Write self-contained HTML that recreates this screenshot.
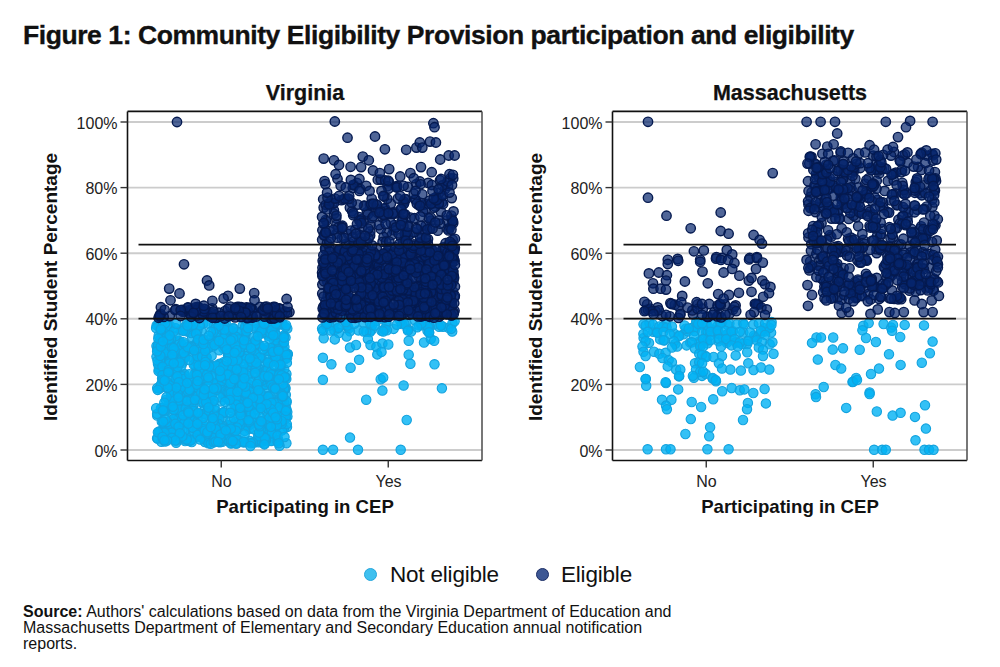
<!DOCTYPE html>
<html><head><meta charset="utf-8"><style>
html,body{margin:0;padding:0;background:#fff;width:1000px;height:667px;overflow:hidden;position:relative;font-family:"Liberation Sans",sans-serif;color:#111}
div{position:absolute;white-space:nowrap}
.title{left:23px;top:19.5px;font-size:26.5px;font-weight:bold;line-height:30px;letter-spacing:-0.43px;-webkit-text-stroke:0.35px #111}
.pt{top:80px;width:200px;text-align:center;font-size:21.5px;font-weight:bold;line-height:26px;-webkit-text-stroke:0.25px #111}
.yt{width:96px;text-align:right;font-size:16px;line-height:18px;color:#222}
.yl{width:300px;margin-left:-150px;text-align:center;font-size:19px;font-weight:bold;line-height:22px;transform:rotate(-90deg);transform-origin:150px 11px}
.xt{width:80px;text-align:center;font-size:16px;line-height:18px;color:#222}
.xl{width:300px;text-align:center;font-size:18.6px;font-weight:bold;line-height:22px}
.ld{display:block;width:11px;height:11px;border-radius:50%;border:1.3px solid}
.legt{top:562.5px;font-size:22.5px;line-height:24px;letter-spacing:-0.2px}
.src{left:23px;top:604px;font-size:16px;line-height:16px}
svg{position:absolute;left:0;top:0}
.d{fill:#05256c;fill-opacity:.7;stroke:#051a50;stroke-width:1.4}
.l{fill:#00b2f4;fill-opacity:.8;stroke:#12a2de;stroke-width:1.1}
</style></head><body>
<svg width="1000" height="667" viewBox="0 0 1000 667">
<line x1="127.5" y1="450.0" x2="482.0" y2="450.0" stroke="#cccccc" stroke-width="1.9"/>
<line x1="127.5" y1="384.4" x2="482.0" y2="384.4" stroke="#cccccc" stroke-width="1.9"/>
<line x1="127.5" y1="318.8" x2="482.0" y2="318.8" stroke="#cccccc" stroke-width="1.9"/>
<line x1="127.5" y1="253.20000000000002" x2="482.0" y2="253.20000000000002" stroke="#cccccc" stroke-width="1.9"/>
<line x1="127.5" y1="187.60000000000002" x2="482.0" y2="187.60000000000002" stroke="#cccccc" stroke-width="1.9"/>
<line x1="127.5" y1="122.0" x2="482.0" y2="122.0" stroke="#cccccc" stroke-width="1.9"/>
<line x1="612.5" y1="450.0" x2="967.0" y2="450.0" stroke="#cccccc" stroke-width="1.9"/>
<line x1="612.5" y1="384.4" x2="967.0" y2="384.4" stroke="#cccccc" stroke-width="1.9"/>
<line x1="612.5" y1="318.8" x2="967.0" y2="318.8" stroke="#cccccc" stroke-width="1.9"/>
<line x1="612.5" y1="253.20000000000002" x2="967.0" y2="253.20000000000002" stroke="#cccccc" stroke-width="1.9"/>
<line x1="612.5" y1="187.60000000000002" x2="967.0" y2="187.60000000000002" stroke="#cccccc" stroke-width="1.9"/>
<line x1="612.5" y1="122.0" x2="967.0" y2="122.0" stroke="#cccccc" stroke-width="1.9"/>
<g>
<circle cx="173.7" cy="425.5" r="4.7" class="l"/>
<circle cx="256.8" cy="353.9" r="4.7" class="l"/>
<circle cx="221.4" cy="377.4" r="4.7" class="l"/>
<circle cx="242.0" cy="418.4" r="4.7" class="l"/>
<circle cx="168.4" cy="326.4" r="4.7" class="l"/>
<circle cx="266.3" cy="375.4" r="4.7" class="l"/>
<circle cx="256.6" cy="323.3" r="4.7" class="l"/>
<circle cx="214.8" cy="410.3" r="4.7" class="l"/>
<circle cx="186.2" cy="437.4" r="4.7" class="l"/>
<circle cx="275.0" cy="326.7" r="4.7" class="l"/>
<circle cx="159.4" cy="388.5" r="4.7" class="l"/>
<circle cx="280.0" cy="369.1" r="4.7" class="l"/>
<circle cx="184.6" cy="374.1" r="4.7" class="l"/>
<circle cx="159.8" cy="349.8" r="4.7" class="l"/>
<circle cx="213.8" cy="383.0" r="4.7" class="l"/>
<circle cx="186.8" cy="350.9" r="4.7" class="l"/>
<circle cx="184.9" cy="378.6" r="4.7" class="l"/>
<circle cx="194.3" cy="325.6" r="4.7" class="l"/>
<circle cx="266.6" cy="390.3" r="4.7" class="l"/>
<circle cx="240.8" cy="345.5" r="4.7" class="l"/>
<circle cx="287.0" cy="427.1" r="4.7" class="l"/>
<circle cx="172.0" cy="363.3" r="4.7" class="l"/>
<circle cx="251.2" cy="409.1" r="4.7" class="l"/>
<circle cx="279.6" cy="374.1" r="4.7" class="l"/>
<circle cx="265.6" cy="404.1" r="4.7" class="l"/>
<circle cx="196.0" cy="394.1" r="4.7" class="l"/>
<circle cx="272.5" cy="425.4" r="4.7" class="l"/>
<circle cx="222.7" cy="394.3" r="4.7" class="l"/>
<circle cx="160.6" cy="352.4" r="4.7" class="l"/>
<circle cx="261.3" cy="373.1" r="4.7" class="l"/>
<circle cx="178.8" cy="389.4" r="4.7" class="l"/>
<circle cx="248.8" cy="404.6" r="4.7" class="l"/>
<circle cx="205.5" cy="376.1" r="4.7" class="l"/>
<circle cx="223.1" cy="417.2" r="4.7" class="l"/>
<circle cx="224.8" cy="370.6" r="4.7" class="l"/>
<circle cx="220.6" cy="326.6" r="4.7" class="l"/>
<circle cx="161.7" cy="408.1" r="4.7" class="l"/>
<circle cx="285.8" cy="394.8" r="4.7" class="l"/>
<circle cx="208.0" cy="343.6" r="4.7" class="l"/>
<circle cx="222.3" cy="441.8" r="4.7" class="l"/>
<circle cx="257.7" cy="388.3" r="4.7" class="l"/>
<circle cx="269.6" cy="351.1" r="4.7" class="l"/>
<circle cx="223.8" cy="438.2" r="4.7" class="l"/>
<circle cx="232.3" cy="378.6" r="4.7" class="l"/>
<circle cx="191.5" cy="389.3" r="4.7" class="l"/>
<circle cx="282.3" cy="323.7" r="4.7" class="l"/>
<circle cx="259.4" cy="422.3" r="4.7" class="l"/>
<circle cx="273.0" cy="412.6" r="4.7" class="l"/>
<circle cx="262.8" cy="385.8" r="4.7" class="l"/>
<circle cx="230.1" cy="374.6" r="4.7" class="l"/>
<circle cx="163.4" cy="428.3" r="4.7" class="l"/>
<circle cx="231.2" cy="347.2" r="4.7" class="l"/>
<circle cx="222.6" cy="381.7" r="4.7" class="l"/>
<circle cx="203.1" cy="364.9" r="4.7" class="l"/>
<circle cx="227.1" cy="398.4" r="4.7" class="l"/>
<circle cx="236.8" cy="378.4" r="4.7" class="l"/>
<circle cx="159.7" cy="350.8" r="4.7" class="l"/>
<circle cx="179.4" cy="393.7" r="4.7" class="l"/>
<circle cx="269.7" cy="419.6" r="4.7" class="l"/>
<circle cx="261.2" cy="421.8" r="4.7" class="l"/>
<circle cx="189.7" cy="424.9" r="4.7" class="l"/>
<circle cx="244.9" cy="333.1" r="4.7" class="l"/>
<circle cx="158.2" cy="324.8" r="4.7" class="l"/>
<circle cx="255.7" cy="353.2" r="4.7" class="l"/>
<circle cx="170.5" cy="398.6" r="4.7" class="l"/>
<circle cx="201.5" cy="331.4" r="4.7" class="l"/>
<circle cx="177.1" cy="386.8" r="4.7" class="l"/>
<circle cx="178.2" cy="356.0" r="4.7" class="l"/>
<circle cx="249.9" cy="378.0" r="4.7" class="l"/>
<circle cx="198.5" cy="380.3" r="4.7" class="l"/>
<circle cx="159.1" cy="369.8" r="4.7" class="l"/>
<circle cx="211.6" cy="345.8" r="4.7" class="l"/>
<circle cx="170.4" cy="431.9" r="4.7" class="l"/>
<circle cx="223.3" cy="348.3" r="4.7" class="l"/>
<circle cx="235.9" cy="421.9" r="4.7" class="l"/>
<circle cx="158.7" cy="325.2" r="4.7" class="l"/>
<circle cx="175.3" cy="410.0" r="4.7" class="l"/>
<circle cx="177.2" cy="408.3" r="4.7" class="l"/>
<circle cx="245.5" cy="388.9" r="4.7" class="l"/>
<circle cx="185.1" cy="441.0" r="4.7" class="l"/>
<circle cx="261.3" cy="385.5" r="4.7" class="l"/>
<circle cx="185.5" cy="401.5" r="4.7" class="l"/>
<circle cx="208.1" cy="392.7" r="4.7" class="l"/>
<circle cx="198.4" cy="399.3" r="4.7" class="l"/>
<circle cx="163.8" cy="359.1" r="4.7" class="l"/>
<circle cx="283.8" cy="428.9" r="4.7" class="l"/>
<circle cx="196.4" cy="426.9" r="4.7" class="l"/>
<circle cx="197.0" cy="436.7" r="4.7" class="l"/>
<circle cx="254.2" cy="373.4" r="4.7" class="l"/>
<circle cx="189.3" cy="324.0" r="4.7" class="l"/>
<circle cx="272.0" cy="327.6" r="4.7" class="l"/>
<circle cx="264.2" cy="439.4" r="4.7" class="l"/>
<circle cx="231.3" cy="343.8" r="4.7" class="l"/>
<circle cx="270.5" cy="440.8" r="4.7" class="l"/>
<circle cx="248.9" cy="384.6" r="4.7" class="l"/>
<circle cx="205.9" cy="365.0" r="4.7" class="l"/>
<circle cx="183.2" cy="404.6" r="4.7" class="l"/>
<circle cx="213.1" cy="346.5" r="4.7" class="l"/>
<circle cx="169.8" cy="403.6" r="4.7" class="l"/>
<circle cx="195.1" cy="383.5" r="4.7" class="l"/>
<circle cx="198.9" cy="428.5" r="4.7" class="l"/>
<circle cx="274.8" cy="325.2" r="4.7" class="l"/>
<circle cx="182.5" cy="362.7" r="4.7" class="l"/>
<circle cx="286.3" cy="417.7" r="4.7" class="l"/>
<circle cx="200.8" cy="348.8" r="4.7" class="l"/>
<circle cx="245.0" cy="424.4" r="4.7" class="l"/>
<circle cx="279.0" cy="364.6" r="4.7" class="l"/>
<circle cx="272.5" cy="406.1" r="4.7" class="l"/>
<circle cx="220.0" cy="442.2" r="4.7" class="l"/>
<circle cx="187.0" cy="410.8" r="4.7" class="l"/>
<circle cx="167.2" cy="343.5" r="4.7" class="l"/>
<circle cx="276.3" cy="348.8" r="4.7" class="l"/>
<circle cx="256.2" cy="395.6" r="4.7" class="l"/>
<circle cx="267.0" cy="367.5" r="4.7" class="l"/>
<circle cx="200.9" cy="358.2" r="4.7" class="l"/>
<circle cx="270.5" cy="396.1" r="4.7" class="l"/>
<circle cx="282.0" cy="430.4" r="4.7" class="l"/>
<circle cx="173.9" cy="389.7" r="4.7" class="l"/>
<circle cx="169.8" cy="327.7" r="4.7" class="l"/>
<circle cx="165.7" cy="427.8" r="4.7" class="l"/>
<circle cx="260.0" cy="423.2" r="4.7" class="l"/>
<circle cx="201.0" cy="397.4" r="4.7" class="l"/>
<circle cx="259.2" cy="368.7" r="4.7" class="l"/>
<circle cx="231.3" cy="350.1" r="4.7" class="l"/>
<circle cx="166.8" cy="355.3" r="4.7" class="l"/>
<circle cx="273.6" cy="391.3" r="4.7" class="l"/>
<circle cx="278.1" cy="378.4" r="4.7" class="l"/>
<circle cx="192.6" cy="418.2" r="4.7" class="l"/>
<circle cx="265.3" cy="324.5" r="4.7" class="l"/>
<circle cx="244.5" cy="334.1" r="4.7" class="l"/>
<circle cx="171.2" cy="430.1" r="4.7" class="l"/>
<circle cx="161.3" cy="352.0" r="4.7" class="l"/>
<circle cx="286.4" cy="373.9" r="4.7" class="l"/>
<circle cx="171.3" cy="343.3" r="4.7" class="l"/>
<circle cx="187.9" cy="413.0" r="4.7" class="l"/>
<circle cx="169.6" cy="433.2" r="4.7" class="l"/>
<circle cx="205.9" cy="440.4" r="4.7" class="l"/>
<circle cx="276.0" cy="358.6" r="4.7" class="l"/>
<circle cx="189.5" cy="380.7" r="4.7" class="l"/>
<circle cx="169.2" cy="401.9" r="4.7" class="l"/>
<circle cx="161.2" cy="324.3" r="4.7" class="l"/>
<circle cx="285.7" cy="358.8" r="4.7" class="l"/>
<circle cx="234.7" cy="377.4" r="4.7" class="l"/>
<circle cx="197.4" cy="330.6" r="4.7" class="l"/>
<circle cx="276.6" cy="440.3" r="4.7" class="l"/>
<circle cx="284.0" cy="336.5" r="4.7" class="l"/>
<circle cx="184.4" cy="397.8" r="4.7" class="l"/>
<circle cx="285.4" cy="388.7" r="4.7" class="l"/>
<circle cx="246.8" cy="403.1" r="4.7" class="l"/>
<circle cx="190.2" cy="388.5" r="4.7" class="l"/>
<circle cx="196.6" cy="352.8" r="4.7" class="l"/>
<circle cx="166.7" cy="357.0" r="4.7" class="l"/>
<circle cx="285.8" cy="377.2" r="4.7" class="l"/>
<circle cx="242.1" cy="400.9" r="4.7" class="l"/>
<circle cx="280.2" cy="370.2" r="4.7" class="l"/>
<circle cx="196.5" cy="362.6" r="4.7" class="l"/>
<circle cx="197.8" cy="425.5" r="4.7" class="l"/>
<circle cx="273.9" cy="359.6" r="4.7" class="l"/>
<circle cx="200.1" cy="388.9" r="4.7" class="l"/>
<circle cx="232.4" cy="395.1" r="4.7" class="l"/>
<circle cx="188.4" cy="325.5" r="4.7" class="l"/>
<circle cx="188.2" cy="331.8" r="4.7" class="l"/>
<circle cx="228.8" cy="331.6" r="4.7" class="l"/>
<circle cx="165.9" cy="399.9" r="4.7" class="l"/>
<circle cx="194.4" cy="418.9" r="4.7" class="l"/>
<circle cx="221.1" cy="427.4" r="4.7" class="l"/>
<circle cx="176.4" cy="383.7" r="4.7" class="l"/>
<circle cx="260.9" cy="332.3" r="4.7" class="l"/>
<circle cx="281.3" cy="344.0" r="4.7" class="l"/>
<circle cx="258.5" cy="442.2" r="4.7" class="l"/>
<circle cx="264.4" cy="361.7" r="4.7" class="l"/>
<circle cx="170.1" cy="385.2" r="4.7" class="l"/>
<circle cx="277.4" cy="358.5" r="4.7" class="l"/>
<circle cx="274.0" cy="340.1" r="4.7" class="l"/>
<circle cx="276.2" cy="326.8" r="4.7" class="l"/>
<circle cx="197.7" cy="432.3" r="4.7" class="l"/>
<circle cx="262.1" cy="432.8" r="4.7" class="l"/>
<circle cx="267.0" cy="413.3" r="4.7" class="l"/>
<circle cx="247.0" cy="344.6" r="4.7" class="l"/>
<circle cx="213.1" cy="342.1" r="4.7" class="l"/>
<circle cx="250.4" cy="403.8" r="4.7" class="l"/>
<circle cx="189.3" cy="330.8" r="4.7" class="l"/>
<circle cx="283.2" cy="420.8" r="4.7" class="l"/>
<circle cx="228.5" cy="388.5" r="4.7" class="l"/>
<circle cx="268.4" cy="377.9" r="4.7" class="l"/>
<circle cx="208.2" cy="364.0" r="4.7" class="l"/>
<circle cx="190.1" cy="326.0" r="4.7" class="l"/>
<circle cx="241.3" cy="373.4" r="4.7" class="l"/>
<circle cx="231.3" cy="330.5" r="4.7" class="l"/>
<circle cx="202.9" cy="339.7" r="4.7" class="l"/>
<circle cx="172.5" cy="354.4" r="4.7" class="l"/>
<circle cx="265.4" cy="371.1" r="4.7" class="l"/>
<circle cx="208.9" cy="397.1" r="4.7" class="l"/>
<circle cx="186.8" cy="323.9" r="4.7" class="l"/>
<circle cx="225.8" cy="383.6" r="4.7" class="l"/>
<circle cx="241.6" cy="376.0" r="4.7" class="l"/>
<circle cx="246.6" cy="411.5" r="4.7" class="l"/>
<circle cx="187.5" cy="382.9" r="4.7" class="l"/>
<circle cx="219.2" cy="350.2" r="4.7" class="l"/>
<circle cx="210.4" cy="390.8" r="4.7" class="l"/>
<circle cx="275.7" cy="434.0" r="4.7" class="l"/>
<circle cx="192.3" cy="401.2" r="4.7" class="l"/>
<circle cx="162.4" cy="331.7" r="4.7" class="l"/>
<circle cx="223.5" cy="429.2" r="4.7" class="l"/>
<circle cx="177.0" cy="415.7" r="4.7" class="l"/>
<circle cx="272.6" cy="360.7" r="4.7" class="l"/>
<circle cx="247.4" cy="425.7" r="4.7" class="l"/>
<circle cx="205.1" cy="407.9" r="4.7" class="l"/>
<circle cx="253.2" cy="394.9" r="4.7" class="l"/>
<circle cx="269.0" cy="431.5" r="4.7" class="l"/>
<circle cx="282.7" cy="392.1" r="4.7" class="l"/>
<circle cx="179.3" cy="353.3" r="4.7" class="l"/>
<circle cx="184.7" cy="391.9" r="4.7" class="l"/>
<circle cx="256.0" cy="329.3" r="4.7" class="l"/>
<circle cx="246.0" cy="409.8" r="4.7" class="l"/>
<circle cx="201.9" cy="385.3" r="4.7" class="l"/>
<circle cx="177.8" cy="411.3" r="4.7" class="l"/>
<circle cx="161.4" cy="441.7" r="4.7" class="l"/>
<circle cx="262.6" cy="399.0" r="4.7" class="l"/>
<circle cx="191.3" cy="433.5" r="4.7" class="l"/>
<circle cx="282.6" cy="339.8" r="4.7" class="l"/>
<circle cx="258.4" cy="424.9" r="4.7" class="l"/>
<circle cx="243.1" cy="407.7" r="4.7" class="l"/>
<circle cx="214.7" cy="434.8" r="4.7" class="l"/>
<circle cx="284.2" cy="369.3" r="4.7" class="l"/>
<circle cx="262.0" cy="375.4" r="4.7" class="l"/>
<circle cx="177.7" cy="362.4" r="4.7" class="l"/>
<circle cx="172.7" cy="433.0" r="4.7" class="l"/>
<circle cx="282.6" cy="337.4" r="4.7" class="l"/>
<circle cx="235.3" cy="372.4" r="4.7" class="l"/>
<circle cx="171.6" cy="358.8" r="4.7" class="l"/>
<circle cx="188.8" cy="413.7" r="4.7" class="l"/>
<circle cx="156.5" cy="346.0" r="4.7" class="l"/>
<circle cx="213.9" cy="325.5" r="4.7" class="l"/>
<circle cx="238.8" cy="396.3" r="4.7" class="l"/>
<circle cx="266.3" cy="348.0" r="4.7" class="l"/>
<circle cx="193.6" cy="388.6" r="4.7" class="l"/>
<circle cx="192.1" cy="393.9" r="4.7" class="l"/>
<circle cx="189.1" cy="405.7" r="4.7" class="l"/>
<circle cx="260.4" cy="420.8" r="4.7" class="l"/>
<circle cx="284.5" cy="389.0" r="4.7" class="l"/>
<circle cx="220.8" cy="426.5" r="4.7" class="l"/>
<circle cx="257.5" cy="392.0" r="4.7" class="l"/>
<circle cx="206.6" cy="357.4" r="4.7" class="l"/>
<circle cx="170.3" cy="420.7" r="4.7" class="l"/>
<circle cx="171.6" cy="413.4" r="4.7" class="l"/>
<circle cx="228.0" cy="439.8" r="4.7" class="l"/>
<circle cx="256.5" cy="440.8" r="4.7" class="l"/>
<circle cx="174.0" cy="383.5" r="4.7" class="l"/>
<circle cx="231.6" cy="360.7" r="4.7" class="l"/>
<circle cx="222.4" cy="366.2" r="4.7" class="l"/>
<circle cx="225.7" cy="323.1" r="4.7" class="l"/>
<circle cx="214.4" cy="377.4" r="4.7" class="l"/>
<circle cx="196.2" cy="371.3" r="4.7" class="l"/>
<circle cx="259.4" cy="405.7" r="4.7" class="l"/>
<circle cx="221.0" cy="401.4" r="4.7" class="l"/>
<circle cx="205.8" cy="347.7" r="4.7" class="l"/>
<circle cx="156.5" cy="356.6" r="4.7" class="l"/>
<circle cx="235.0" cy="429.7" r="4.7" class="l"/>
<circle cx="265.5" cy="384.8" r="4.7" class="l"/>
<circle cx="286.3" cy="378.9" r="4.7" class="l"/>
<circle cx="266.2" cy="372.5" r="4.7" class="l"/>
<circle cx="254.3" cy="442.5" r="4.7" class="l"/>
<circle cx="196.3" cy="343.6" r="4.7" class="l"/>
<circle cx="237.8" cy="387.2" r="4.7" class="l"/>
<circle cx="203.4" cy="323.4" r="4.7" class="l"/>
<circle cx="207.4" cy="374.5" r="4.7" class="l"/>
<circle cx="209.5" cy="427.2" r="4.7" class="l"/>
<circle cx="233.1" cy="411.8" r="4.7" class="l"/>
<circle cx="274.5" cy="413.6" r="4.7" class="l"/>
<circle cx="221.0" cy="413.2" r="4.7" class="l"/>
<circle cx="240.5" cy="401.5" r="4.7" class="l"/>
<circle cx="239.1" cy="372.2" r="4.7" class="l"/>
<circle cx="239.1" cy="399.7" r="4.7" class="l"/>
<circle cx="279.7" cy="417.7" r="4.7" class="l"/>
<circle cx="267.7" cy="415.9" r="4.7" class="l"/>
<circle cx="263.6" cy="396.3" r="4.7" class="l"/>
<circle cx="202.1" cy="355.0" r="4.7" class="l"/>
<circle cx="249.5" cy="428.7" r="4.7" class="l"/>
<circle cx="227.8" cy="341.4" r="4.7" class="l"/>
<circle cx="266.0" cy="381.6" r="4.7" class="l"/>
<circle cx="217.7" cy="328.5" r="4.7" class="l"/>
<circle cx="223.4" cy="413.1" r="4.7" class="l"/>
<circle cx="211.8" cy="366.0" r="4.7" class="l"/>
<circle cx="242.7" cy="325.4" r="4.7" class="l"/>
<circle cx="222.9" cy="437.5" r="4.7" class="l"/>
<circle cx="247.1" cy="371.6" r="4.7" class="l"/>
<circle cx="246.9" cy="396.2" r="4.7" class="l"/>
<circle cx="183.6" cy="348.1" r="4.7" class="l"/>
<circle cx="273.0" cy="355.6" r="4.7" class="l"/>
<circle cx="165.9" cy="423.5" r="4.7" class="l"/>
<circle cx="225.1" cy="367.6" r="4.7" class="l"/>
<circle cx="223.5" cy="412.1" r="4.7" class="l"/>
<circle cx="178.2" cy="402.0" r="4.7" class="l"/>
<circle cx="250.2" cy="421.6" r="4.7" class="l"/>
<circle cx="191.6" cy="396.8" r="4.7" class="l"/>
<circle cx="186.6" cy="390.9" r="4.7" class="l"/>
<circle cx="178.8" cy="418.6" r="4.7" class="l"/>
<circle cx="270.4" cy="362.9" r="4.7" class="l"/>
<circle cx="185.3" cy="439.6" r="4.7" class="l"/>
<circle cx="249.3" cy="425.1" r="4.7" class="l"/>
<circle cx="160.0" cy="431.8" r="4.7" class="l"/>
<circle cx="238.2" cy="361.3" r="4.7" class="l"/>
<circle cx="213.0" cy="415.2" r="4.7" class="l"/>
<circle cx="259.7" cy="346.0" r="4.7" class="l"/>
<circle cx="238.6" cy="343.0" r="4.7" class="l"/>
<circle cx="284.4" cy="376.7" r="4.7" class="l"/>
<circle cx="276.5" cy="411.1" r="4.7" class="l"/>
<circle cx="236.0" cy="354.7" r="4.7" class="l"/>
<circle cx="225.5" cy="339.8" r="4.7" class="l"/>
<circle cx="174.2" cy="409.6" r="4.7" class="l"/>
<circle cx="203.7" cy="413.9" r="4.7" class="l"/>
<circle cx="187.7" cy="409.9" r="4.7" class="l"/>
<circle cx="250.8" cy="360.0" r="4.7" class="l"/>
<circle cx="170.0" cy="371.0" r="4.7" class="l"/>
<circle cx="221.0" cy="335.1" r="4.7" class="l"/>
<circle cx="180.7" cy="329.7" r="4.7" class="l"/>
<circle cx="234.9" cy="430.6" r="4.7" class="l"/>
<circle cx="184.6" cy="327.2" r="4.7" class="l"/>
<circle cx="248.9" cy="421.6" r="4.7" class="l"/>
<circle cx="283.3" cy="397.2" r="4.7" class="l"/>
<circle cx="201.2" cy="424.4" r="4.7" class="l"/>
<circle cx="171.6" cy="406.8" r="4.7" class="l"/>
<circle cx="168.6" cy="371.4" r="4.7" class="l"/>
<circle cx="221.3" cy="368.7" r="4.7" class="l"/>
<circle cx="178.3" cy="351.0" r="4.7" class="l"/>
<circle cx="264.3" cy="379.0" r="4.7" class="l"/>
<circle cx="232.6" cy="348.6" r="4.7" class="l"/>
<circle cx="250.4" cy="362.9" r="4.7" class="l"/>
<circle cx="234.4" cy="433.0" r="4.7" class="l"/>
<circle cx="287.3" cy="328.6" r="4.7" class="l"/>
<circle cx="261.3" cy="426.8" r="4.7" class="l"/>
<circle cx="198.2" cy="369.4" r="4.7" class="l"/>
<circle cx="232.6" cy="434.2" r="4.7" class="l"/>
<circle cx="208.8" cy="429.5" r="4.7" class="l"/>
<circle cx="256.1" cy="341.4" r="4.7" class="l"/>
<circle cx="276.6" cy="324.8" r="4.7" class="l"/>
<circle cx="175.2" cy="403.4" r="4.7" class="l"/>
<circle cx="163.5" cy="368.9" r="4.7" class="l"/>
<circle cx="173.2" cy="379.0" r="4.7" class="l"/>
<circle cx="266.9" cy="432.6" r="4.7" class="l"/>
<circle cx="160.7" cy="330.4" r="4.7" class="l"/>
<circle cx="267.0" cy="328.2" r="4.7" class="l"/>
<circle cx="192.1" cy="337.2" r="4.7" class="l"/>
<circle cx="168.0" cy="326.3" r="4.7" class="l"/>
<circle cx="240.2" cy="413.1" r="4.7" class="l"/>
<circle cx="246.7" cy="425.3" r="4.7" class="l"/>
<circle cx="243.5" cy="370.2" r="4.7" class="l"/>
<circle cx="239.3" cy="440.3" r="4.7" class="l"/>
<circle cx="240.7" cy="352.4" r="4.7" class="l"/>
<circle cx="163.9" cy="436.2" r="4.7" class="l"/>
<circle cx="233.9" cy="365.3" r="4.7" class="l"/>
<circle cx="235.9" cy="390.8" r="4.7" class="l"/>
<circle cx="224.9" cy="330.4" r="4.7" class="l"/>
<circle cx="202.6" cy="372.9" r="4.7" class="l"/>
<circle cx="182.3" cy="429.5" r="4.7" class="l"/>
<circle cx="212.0" cy="403.1" r="4.7" class="l"/>
<circle cx="250.2" cy="412.9" r="4.7" class="l"/>
<circle cx="251.2" cy="414.0" r="4.7" class="l"/>
<circle cx="189.2" cy="441.1" r="4.7" class="l"/>
<circle cx="175.9" cy="434.2" r="4.7" class="l"/>
<circle cx="268.8" cy="426.1" r="4.7" class="l"/>
<circle cx="163.0" cy="334.0" r="4.7" class="l"/>
<circle cx="263.3" cy="379.8" r="4.7" class="l"/>
<circle cx="204.9" cy="442.1" r="4.7" class="l"/>
<circle cx="161.3" cy="387.3" r="4.7" class="l"/>
<circle cx="214.5" cy="338.5" r="4.7" class="l"/>
<circle cx="208.2" cy="408.6" r="4.7" class="l"/>
<circle cx="272.5" cy="326.0" r="4.7" class="l"/>
<circle cx="225.2" cy="333.9" r="4.7" class="l"/>
<circle cx="261.7" cy="333.4" r="4.7" class="l"/>
<circle cx="160.5" cy="369.5" r="4.7" class="l"/>
<circle cx="252.7" cy="360.9" r="4.7" class="l"/>
<circle cx="173.2" cy="419.1" r="4.7" class="l"/>
<circle cx="262.5" cy="426.6" r="4.7" class="l"/>
<circle cx="196.1" cy="374.4" r="4.7" class="l"/>
<circle cx="188.4" cy="390.4" r="4.7" class="l"/>
<circle cx="199.6" cy="364.0" r="4.7" class="l"/>
<circle cx="259.4" cy="438.7" r="4.7" class="l"/>
<circle cx="233.1" cy="335.7" r="4.7" class="l"/>
<circle cx="242.1" cy="377.3" r="4.7" class="l"/>
<circle cx="286.4" cy="410.0" r="4.7" class="l"/>
<circle cx="266.2" cy="407.9" r="4.7" class="l"/>
<circle cx="226.7" cy="431.5" r="4.7" class="l"/>
<circle cx="265.8" cy="358.3" r="4.7" class="l"/>
<circle cx="176.7" cy="367.8" r="4.7" class="l"/>
<circle cx="224.8" cy="334.8" r="4.7" class="l"/>
<circle cx="201.6" cy="392.6" r="4.7" class="l"/>
<circle cx="161.8" cy="421.6" r="4.7" class="l"/>
<circle cx="241.9" cy="361.0" r="4.7" class="l"/>
<circle cx="195.4" cy="365.7" r="4.7" class="l"/>
<circle cx="198.9" cy="413.6" r="4.7" class="l"/>
<circle cx="222.1" cy="386.7" r="4.7" class="l"/>
<circle cx="175.6" cy="433.6" r="4.7" class="l"/>
<circle cx="199.0" cy="362.6" r="4.7" class="l"/>
<circle cx="165.1" cy="441.5" r="4.7" class="l"/>
<circle cx="219.3" cy="433.5" r="4.7" class="l"/>
<circle cx="278.4" cy="440.3" r="4.7" class="l"/>
<circle cx="263.7" cy="435.0" r="4.7" class="l"/>
<circle cx="277.7" cy="420.0" r="4.7" class="l"/>
<circle cx="173.8" cy="386.4" r="4.7" class="l"/>
<circle cx="232.0" cy="443.1" r="4.7" class="l"/>
<circle cx="259.5" cy="408.1" r="4.7" class="l"/>
<circle cx="254.6" cy="366.8" r="4.7" class="l"/>
<circle cx="280.4" cy="400.9" r="4.7" class="l"/>
<circle cx="209.1" cy="379.2" r="4.7" class="l"/>
<circle cx="285.3" cy="387.4" r="4.7" class="l"/>
<circle cx="178.1" cy="341.0" r="4.7" class="l"/>
<circle cx="246.7" cy="391.1" r="4.7" class="l"/>
<circle cx="275.7" cy="345.3" r="4.7" class="l"/>
<circle cx="210.3" cy="411.1" r="4.7" class="l"/>
<circle cx="162.6" cy="335.0" r="4.7" class="l"/>
<circle cx="228.0" cy="355.2" r="4.7" class="l"/>
<circle cx="170.1" cy="354.7" r="4.7" class="l"/>
<circle cx="239.4" cy="386.7" r="4.7" class="l"/>
<circle cx="166.4" cy="331.8" r="4.7" class="l"/>
<circle cx="268.3" cy="400.8" r="4.7" class="l"/>
<circle cx="178.9" cy="427.3" r="4.7" class="l"/>
<circle cx="158.9" cy="367.5" r="4.7" class="l"/>
<circle cx="267.9" cy="408.9" r="4.7" class="l"/>
<circle cx="193.5" cy="430.8" r="4.7" class="l"/>
<circle cx="234.9" cy="427.7" r="4.7" class="l"/>
<circle cx="273.8" cy="374.5" r="4.7" class="l"/>
<circle cx="245.2" cy="388.9" r="4.7" class="l"/>
<circle cx="280.7" cy="419.6" r="4.7" class="l"/>
<circle cx="251.8" cy="421.5" r="4.7" class="l"/>
<circle cx="287.8" cy="354.0" r="4.7" class="l"/>
<circle cx="182.6" cy="413.4" r="4.7" class="l"/>
<circle cx="257.7" cy="385.2" r="4.7" class="l"/>
<circle cx="220.3" cy="371.9" r="4.7" class="l"/>
<circle cx="272.5" cy="419.3" r="4.7" class="l"/>
<circle cx="233.2" cy="327.9" r="4.7" class="l"/>
<circle cx="268.4" cy="378.5" r="4.7" class="l"/>
<circle cx="181.0" cy="359.2" r="4.7" class="l"/>
<circle cx="247.3" cy="323.7" r="4.7" class="l"/>
<circle cx="171.8" cy="359.6" r="4.7" class="l"/>
<circle cx="273.1" cy="413.4" r="4.7" class="l"/>
<circle cx="284.1" cy="388.7" r="4.7" class="l"/>
<circle cx="231.5" cy="389.7" r="4.7" class="l"/>
<circle cx="225.4" cy="388.6" r="4.7" class="l"/>
<circle cx="264.1" cy="438.4" r="4.7" class="l"/>
<circle cx="209.9" cy="399.2" r="4.7" class="l"/>
<circle cx="196.6" cy="359.5" r="4.7" class="l"/>
<circle cx="222.8" cy="393.9" r="4.7" class="l"/>
<circle cx="228.6" cy="441.2" r="4.7" class="l"/>
<circle cx="177.5" cy="400.0" r="4.7" class="l"/>
<circle cx="287.3" cy="412.1" r="4.7" class="l"/>
<circle cx="230.7" cy="367.6" r="4.7" class="l"/>
<circle cx="209.1" cy="436.3" r="4.7" class="l"/>
<circle cx="274.2" cy="404.0" r="4.7" class="l"/>
<circle cx="274.6" cy="434.9" r="4.7" class="l"/>
<circle cx="267.7" cy="369.4" r="4.7" class="l"/>
<circle cx="217.3" cy="419.3" r="4.7" class="l"/>
<circle cx="205.2" cy="413.7" r="4.7" class="l"/>
<circle cx="219.5" cy="363.7" r="4.7" class="l"/>
<circle cx="216.2" cy="337.1" r="4.7" class="l"/>
<circle cx="202.8" cy="373.2" r="4.7" class="l"/>
<circle cx="158.4" cy="343.8" r="4.7" class="l"/>
<circle cx="190.4" cy="426.8" r="4.7" class="l"/>
<circle cx="233.8" cy="357.7" r="4.7" class="l"/>
<circle cx="287.7" cy="354.2" r="4.7" class="l"/>
<circle cx="223.8" cy="412.5" r="4.7" class="l"/>
<circle cx="247.3" cy="375.5" r="4.7" class="l"/>
<circle cx="258.6" cy="381.8" r="4.7" class="l"/>
<circle cx="250.4" cy="382.5" r="4.7" class="l"/>
<circle cx="284.2" cy="409.7" r="4.7" class="l"/>
<circle cx="168.1" cy="338.7" r="4.7" class="l"/>
<circle cx="283.6" cy="350.7" r="4.7" class="l"/>
<circle cx="159.4" cy="353.6" r="4.7" class="l"/>
<circle cx="219.3" cy="438.2" r="4.7" class="l"/>
<circle cx="208.7" cy="410.5" r="4.7" class="l"/>
<circle cx="266.1" cy="333.8" r="4.7" class="l"/>
<circle cx="236.8" cy="443.5" r="4.7" class="l"/>
<circle cx="228.5" cy="387.7" r="4.7" class="l"/>
<circle cx="201.8" cy="437.5" r="4.7" class="l"/>
<circle cx="284.0" cy="335.5" r="4.7" class="l"/>
<circle cx="229.0" cy="373.8" r="4.7" class="l"/>
<circle cx="244.7" cy="337.4" r="4.7" class="l"/>
<circle cx="191.0" cy="356.7" r="4.7" class="l"/>
<circle cx="219.3" cy="419.0" r="4.7" class="l"/>
<circle cx="269.2" cy="418.2" r="4.7" class="l"/>
<circle cx="245.3" cy="333.6" r="4.7" class="l"/>
<circle cx="207.4" cy="403.9" r="4.7" class="l"/>
<circle cx="194.8" cy="384.4" r="4.7" class="l"/>
<circle cx="275.5" cy="337.1" r="4.7" class="l"/>
<circle cx="268.7" cy="335.8" r="4.7" class="l"/>
<circle cx="207.0" cy="432.6" r="4.7" class="l"/>
<circle cx="182.6" cy="386.0" r="4.7" class="l"/>
<circle cx="211.0" cy="430.4" r="4.7" class="l"/>
<circle cx="287.0" cy="357.9" r="4.7" class="l"/>
<circle cx="221.0" cy="431.3" r="4.7" class="l"/>
<circle cx="227.9" cy="349.0" r="4.7" class="l"/>
<circle cx="256.3" cy="363.8" r="4.7" class="l"/>
<circle cx="220.1" cy="324.0" r="4.7" class="l"/>
<circle cx="286.5" cy="402.5" r="4.7" class="l"/>
<circle cx="278.2" cy="440.2" r="4.7" class="l"/>
<circle cx="191.3" cy="388.4" r="4.7" class="l"/>
<circle cx="214.1" cy="414.9" r="4.7" class="l"/>
<circle cx="267.2" cy="350.7" r="4.7" class="l"/>
<circle cx="192.2" cy="408.5" r="4.7" class="l"/>
<circle cx="210.3" cy="338.8" r="4.7" class="l"/>
<circle cx="181.8" cy="390.9" r="4.7" class="l"/>
<circle cx="235.0" cy="439.2" r="4.7" class="l"/>
<circle cx="226.3" cy="396.7" r="4.7" class="l"/>
<circle cx="175.6" cy="373.1" r="4.7" class="l"/>
<circle cx="192.9" cy="407.1" r="4.7" class="l"/>
<circle cx="191.3" cy="348.9" r="4.7" class="l"/>
<circle cx="204.5" cy="379.9" r="4.7" class="l"/>
<circle cx="200.7" cy="396.3" r="4.7" class="l"/>
<circle cx="179.9" cy="429.5" r="4.7" class="l"/>
<circle cx="247.6" cy="387.7" r="4.7" class="l"/>
<circle cx="163.7" cy="362.4" r="4.7" class="l"/>
<circle cx="247.1" cy="401.1" r="4.7" class="l"/>
<circle cx="263.2" cy="430.9" r="4.7" class="l"/>
<circle cx="197.6" cy="382.7" r="4.7" class="l"/>
<circle cx="199.6" cy="338.5" r="4.7" class="l"/>
<circle cx="174.5" cy="354.0" r="4.7" class="l"/>
<circle cx="167.6" cy="388.2" r="4.7" class="l"/>
<circle cx="248.8" cy="391.1" r="4.7" class="l"/>
<circle cx="246.4" cy="350.4" r="4.7" class="l"/>
<circle cx="182.3" cy="391.7" r="4.7" class="l"/>
<circle cx="272.7" cy="374.1" r="4.7" class="l"/>
<circle cx="156.6" cy="325.4" r="4.7" class="l"/>
<circle cx="196.3" cy="397.5" r="4.7" class="l"/>
<circle cx="167.2" cy="350.2" r="4.7" class="l"/>
<circle cx="245.9" cy="442.2" r="4.7" class="l"/>
<circle cx="201.0" cy="395.7" r="4.7" class="l"/>
<circle cx="224.4" cy="325.8" r="4.7" class="l"/>
<circle cx="199.5" cy="339.9" r="4.7" class="l"/>
<circle cx="189.1" cy="416.2" r="4.7" class="l"/>
<circle cx="245.9" cy="328.0" r="4.7" class="l"/>
<circle cx="166.2" cy="410.7" r="4.7" class="l"/>
<circle cx="169.6" cy="361.4" r="4.7" class="l"/>
<circle cx="191.6" cy="329.0" r="4.7" class="l"/>
<circle cx="160.1" cy="339.8" r="4.7" class="l"/>
<circle cx="208.7" cy="436.0" r="4.7" class="l"/>
<circle cx="240.3" cy="352.3" r="4.7" class="l"/>
<circle cx="245.7" cy="356.1" r="4.7" class="l"/>
<circle cx="224.0" cy="361.9" r="4.7" class="l"/>
<circle cx="281.2" cy="365.6" r="4.7" class="l"/>
<circle cx="262.1" cy="400.6" r="4.7" class="l"/>
<circle cx="267.3" cy="396.3" r="4.7" class="l"/>
<circle cx="270.9" cy="372.0" r="4.7" class="l"/>
<circle cx="245.6" cy="398.1" r="4.7" class="l"/>
<circle cx="225.7" cy="391.3" r="4.7" class="l"/>
<circle cx="226.7" cy="370.6" r="4.7" class="l"/>
<circle cx="274.6" cy="399.6" r="4.7" class="l"/>
<circle cx="228.5" cy="329.5" r="4.7" class="l"/>
<circle cx="223.1" cy="344.2" r="4.7" class="l"/>
<circle cx="184.4" cy="375.6" r="4.7" class="l"/>
<circle cx="228.1" cy="353.3" r="4.7" class="l"/>
<circle cx="191.8" cy="387.1" r="4.7" class="l"/>
<circle cx="218.5" cy="371.8" r="4.7" class="l"/>
<circle cx="169.7" cy="368.2" r="4.7" class="l"/>
<circle cx="242.4" cy="388.8" r="4.7" class="l"/>
<circle cx="227.9" cy="425.1" r="4.7" class="l"/>
<circle cx="251.5" cy="405.8" r="4.7" class="l"/>
<circle cx="160.0" cy="360.3" r="4.7" class="l"/>
<circle cx="246.1" cy="341.8" r="4.7" class="l"/>
<circle cx="276.6" cy="340.2" r="4.7" class="l"/>
<circle cx="272.0" cy="349.2" r="4.7" class="l"/>
<circle cx="267.1" cy="425.6" r="4.7" class="l"/>
<circle cx="200.3" cy="430.5" r="4.7" class="l"/>
<circle cx="177.1" cy="425.7" r="4.7" class="l"/>
<circle cx="206.4" cy="376.2" r="4.7" class="l"/>
<circle cx="171.6" cy="395.7" r="4.7" class="l"/>
<circle cx="191.6" cy="403.7" r="4.7" class="l"/>
<circle cx="261.5" cy="396.0" r="4.7" class="l"/>
<circle cx="157.1" cy="438.2" r="4.7" class="l"/>
<circle cx="277.4" cy="400.8" r="4.7" class="l"/>
<circle cx="206.1" cy="391.0" r="4.7" class="l"/>
<circle cx="272.5" cy="378.6" r="4.7" class="l"/>
<circle cx="258.9" cy="395.4" r="4.7" class="l"/>
<circle cx="211.7" cy="436.0" r="4.7" class="l"/>
<circle cx="209.9" cy="396.3" r="4.7" class="l"/>
<circle cx="163.0" cy="380.0" r="4.7" class="l"/>
<circle cx="160.9" cy="408.2" r="4.7" class="l"/>
<circle cx="156.1" cy="328.1" r="4.7" class="l"/>
<circle cx="170.7" cy="339.9" r="4.7" class="l"/>
<circle cx="223.1" cy="366.1" r="4.7" class="l"/>
<circle cx="191.8" cy="442.0" r="4.7" class="l"/>
<circle cx="276.0" cy="402.2" r="4.7" class="l"/>
<circle cx="261.9" cy="422.2" r="4.7" class="l"/>
<circle cx="188.4" cy="420.8" r="4.7" class="l"/>
<circle cx="187.7" cy="391.0" r="4.7" class="l"/>
<circle cx="203.2" cy="342.2" r="4.7" class="l"/>
<circle cx="258.5" cy="433.9" r="4.7" class="l"/>
<circle cx="197.4" cy="429.5" r="4.7" class="l"/>
<circle cx="201.7" cy="402.6" r="4.7" class="l"/>
<circle cx="287.4" cy="416.4" r="4.7" class="l"/>
<circle cx="163.3" cy="375.6" r="4.7" class="l"/>
<circle cx="205.7" cy="358.6" r="4.7" class="l"/>
<circle cx="263.7" cy="376.4" r="4.7" class="l"/>
<circle cx="248.3" cy="399.8" r="4.7" class="l"/>
<circle cx="224.5" cy="329.8" r="4.7" class="l"/>
<circle cx="244.8" cy="430.9" r="4.7" class="l"/>
<circle cx="178.7" cy="400.8" r="4.7" class="l"/>
<circle cx="220.3" cy="364.3" r="4.7" class="l"/>
<circle cx="249.8" cy="441.0" r="4.7" class="l"/>
<circle cx="158.9" cy="431.6" r="4.7" class="l"/>
<circle cx="206.6" cy="423.9" r="4.7" class="l"/>
<circle cx="179.1" cy="409.7" r="4.7" class="l"/>
<circle cx="169.2" cy="363.6" r="4.7" class="l"/>
<circle cx="284.0" cy="402.5" r="4.7" class="l"/>
<circle cx="259.6" cy="378.8" r="4.7" class="l"/>
<circle cx="218.2" cy="382.6" r="4.7" class="l"/>
<circle cx="258.1" cy="410.5" r="4.7" class="l"/>
<circle cx="181.6" cy="376.3" r="4.7" class="l"/>
<circle cx="227.5" cy="392.1" r="4.7" class="l"/>
<circle cx="278.3" cy="424.6" r="4.7" class="l"/>
<circle cx="175.8" cy="368.5" r="4.7" class="l"/>
<circle cx="170.4" cy="326.2" r="4.7" class="l"/>
<circle cx="165.8" cy="345.1" r="4.7" class="l"/>
<circle cx="257.1" cy="403.7" r="4.7" class="l"/>
<circle cx="261.3" cy="357.9" r="4.7" class="l"/>
<circle cx="176.5" cy="440.6" r="4.7" class="l"/>
<circle cx="265.0" cy="437.6" r="4.7" class="l"/>
<circle cx="158.5" cy="371.0" r="4.7" class="l"/>
<circle cx="239.7" cy="412.1" r="4.7" class="l"/>
<circle cx="276.5" cy="388.1" r="4.7" class="l"/>
<circle cx="207.6" cy="323.6" r="4.7" class="l"/>
<circle cx="262.1" cy="441.8" r="4.7" class="l"/>
<circle cx="275.8" cy="403.1" r="4.7" class="l"/>
<circle cx="201.2" cy="351.9" r="4.7" class="l"/>
<circle cx="258.3" cy="436.2" r="4.7" class="l"/>
<circle cx="282.8" cy="344.2" r="4.7" class="l"/>
<circle cx="233.3" cy="385.1" r="4.7" class="l"/>
<circle cx="212.4" cy="419.1" r="4.7" class="l"/>
<circle cx="279.5" cy="410.7" r="4.7" class="l"/>
<circle cx="248.4" cy="406.6" r="4.7" class="l"/>
<circle cx="242.3" cy="387.9" r="4.7" class="l"/>
<circle cx="188.7" cy="417.3" r="4.7" class="l"/>
<circle cx="171.7" cy="400.9" r="4.7" class="l"/>
<circle cx="207.1" cy="390.8" r="4.7" class="l"/>
<circle cx="240.7" cy="380.9" r="4.7" class="l"/>
<circle cx="285.1" cy="351.9" r="4.7" class="l"/>
<circle cx="157.6" cy="438.6" r="4.7" class="l"/>
<circle cx="197.2" cy="356.6" r="4.7" class="l"/>
<circle cx="210.9" cy="395.0" r="4.7" class="l"/>
<circle cx="286.2" cy="408.6" r="4.7" class="l"/>
<circle cx="198.0" cy="387.7" r="4.7" class="l"/>
<circle cx="215.2" cy="383.7" r="4.7" class="l"/>
<circle cx="211.1" cy="343.3" r="4.7" class="l"/>
<circle cx="208.2" cy="370.1" r="4.7" class="l"/>
<circle cx="182.5" cy="421.8" r="4.7" class="l"/>
<circle cx="203.5" cy="341.3" r="4.7" class="l"/>
<circle cx="230.8" cy="425.2" r="4.7" class="l"/>
<circle cx="259.0" cy="398.3" r="4.7" class="l"/>
<circle cx="252.5" cy="363.7" r="4.7" class="l"/>
<circle cx="174.8" cy="353.9" r="4.7" class="l"/>
<circle cx="202.1" cy="356.8" r="4.7" class="l"/>
<circle cx="217.7" cy="341.0" r="4.7" class="l"/>
<circle cx="173.2" cy="353.6" r="4.7" class="l"/>
<circle cx="181.9" cy="420.0" r="4.7" class="l"/>
<circle cx="227.0" cy="347.0" r="4.7" class="l"/>
<circle cx="212.7" cy="428.5" r="4.7" class="l"/>
<circle cx="232.2" cy="390.0" r="4.7" class="l"/>
<circle cx="207.7" cy="346.7" r="4.7" class="l"/>
<circle cx="238.6" cy="332.3" r="4.7" class="l"/>
<circle cx="259.8" cy="330.0" r="4.7" class="l"/>
<circle cx="254.5" cy="369.3" r="4.7" class="l"/>
<circle cx="246.1" cy="394.5" r="4.7" class="l"/>
<circle cx="173.1" cy="388.2" r="4.7" class="l"/>
<circle cx="165.8" cy="352.2" r="4.7" class="l"/>
<circle cx="206.4" cy="357.6" r="4.7" class="l"/>
<circle cx="243.4" cy="442.4" r="4.7" class="l"/>
<circle cx="203.1" cy="424.5" r="4.7" class="l"/>
<circle cx="185.7" cy="408.8" r="4.7" class="l"/>
<circle cx="201.9" cy="387.8" r="4.7" class="l"/>
<circle cx="167.7" cy="423.1" r="4.7" class="l"/>
<circle cx="183.6" cy="379.1" r="4.7" class="l"/>
<circle cx="194.3" cy="421.0" r="4.7" class="l"/>
<circle cx="234.2" cy="397.4" r="4.7" class="l"/>
<circle cx="255.6" cy="353.8" r="4.7" class="l"/>
<circle cx="163.7" cy="423.3" r="4.7" class="l"/>
<circle cx="197.7" cy="421.3" r="4.7" class="l"/>
<circle cx="282.3" cy="399.1" r="4.7" class="l"/>
<circle cx="169.6" cy="426.3" r="4.7" class="l"/>
<circle cx="239.6" cy="352.8" r="4.7" class="l"/>
<circle cx="183.4" cy="384.4" r="4.7" class="l"/>
<circle cx="172.0" cy="432.6" r="4.7" class="l"/>
<circle cx="249.4" cy="422.1" r="4.7" class="l"/>
<circle cx="206.7" cy="434.7" r="4.7" class="l"/>
<circle cx="173.7" cy="409.7" r="4.7" class="l"/>
<circle cx="189.6" cy="323.4" r="4.7" class="l"/>
<circle cx="172.0" cy="347.4" r="4.7" class="l"/>
<circle cx="256.8" cy="368.7" r="4.7" class="l"/>
<circle cx="219.6" cy="397.2" r="4.7" class="l"/>
<circle cx="191.3" cy="400.3" r="4.7" class="l"/>
<circle cx="244.6" cy="434.5" r="4.7" class="l"/>
<circle cx="222.4" cy="426.5" r="4.7" class="l"/>
<circle cx="283.7" cy="416.0" r="4.7" class="l"/>
<circle cx="211.6" cy="355.9" r="4.7" class="l"/>
<circle cx="168.9" cy="423.6" r="4.7" class="l"/>
<circle cx="173.1" cy="390.7" r="4.7" class="l"/>
<circle cx="215.9" cy="328.4" r="4.7" class="l"/>
<circle cx="184.3" cy="422.6" r="4.7" class="l"/>
<circle cx="227.1" cy="434.9" r="4.7" class="l"/>
<circle cx="275.9" cy="334.4" r="4.7" class="l"/>
<circle cx="245.5" cy="328.2" r="4.7" class="l"/>
<circle cx="211.8" cy="376.5" r="4.7" class="l"/>
<circle cx="282.3" cy="395.0" r="4.7" class="l"/>
<circle cx="181.1" cy="384.7" r="4.7" class="l"/>
<circle cx="224.9" cy="346.8" r="4.7" class="l"/>
<circle cx="203.5" cy="429.2" r="4.7" class="l"/>
<circle cx="285.6" cy="417.0" r="4.7" class="l"/>
<circle cx="164.5" cy="432.6" r="4.7" class="l"/>
<circle cx="216.5" cy="423.9" r="4.7" class="l"/>
<circle cx="179.3" cy="340.9" r="4.7" class="l"/>
<circle cx="275.7" cy="357.5" r="4.7" class="l"/>
<circle cx="161.7" cy="383.6" r="4.7" class="l"/>
<circle cx="286.8" cy="424.1" r="4.7" class="l"/>
<circle cx="208.3" cy="443.2" r="4.7" class="l"/>
<circle cx="261.2" cy="424.9" r="4.7" class="l"/>
<circle cx="241.3" cy="370.7" r="4.7" class="l"/>
<circle cx="275.6" cy="379.9" r="4.7" class="l"/>
<circle cx="279.4" cy="389.8" r="4.7" class="l"/>
<circle cx="276.1" cy="380.7" r="4.7" class="l"/>
<circle cx="212.3" cy="394.2" r="4.7" class="l"/>
<circle cx="197.9" cy="341.1" r="4.7" class="l"/>
<circle cx="233.8" cy="426.0" r="4.7" class="l"/>
<circle cx="192.7" cy="427.7" r="4.7" class="l"/>
<circle cx="259.9" cy="416.9" r="4.7" class="l"/>
<circle cx="210.8" cy="443.8" r="4.7" class="l"/>
<circle cx="260.4" cy="392.7" r="4.7" class="l"/>
<circle cx="171.0" cy="392.4" r="4.7" class="l"/>
<circle cx="157.9" cy="432.2" r="4.7" class="l"/>
<circle cx="200.4" cy="367.6" r="4.7" class="l"/>
<circle cx="228.7" cy="400.1" r="4.7" class="l"/>
<circle cx="232.9" cy="381.7" r="4.7" class="l"/>
<circle cx="239.7" cy="425.5" r="4.7" class="l"/>
<circle cx="214.9" cy="383.5" r="4.7" class="l"/>
<circle cx="263.0" cy="323.4" r="4.7" class="l"/>
<circle cx="177.2" cy="362.3" r="4.7" class="l"/>
<circle cx="184.2" cy="431.4" r="4.7" class="l"/>
<circle cx="175.6" cy="336.1" r="4.7" class="l"/>
<circle cx="197.9" cy="384.5" r="4.7" class="l"/>
<circle cx="264.4" cy="443.5" r="4.7" class="l"/>
<circle cx="268.4" cy="396.7" r="4.7" class="l"/>
<circle cx="161.0" cy="330.7" r="4.7" class="l"/>
<circle cx="239.3" cy="422.2" r="4.7" class="l"/>
<circle cx="191.0" cy="440.3" r="4.7" class="l"/>
<circle cx="228.7" cy="392.4" r="4.7" class="l"/>
<circle cx="237.7" cy="332.1" r="4.7" class="l"/>
<circle cx="178.5" cy="436.3" r="4.7" class="l"/>
<circle cx="191.3" cy="333.1" r="4.7" class="l"/>
<circle cx="193.3" cy="410.9" r="4.7" class="l"/>
<circle cx="190.7" cy="348.5" r="4.7" class="l"/>
<circle cx="192.6" cy="381.1" r="4.7" class="l"/>
<circle cx="253.4" cy="359.5" r="4.7" class="l"/>
<circle cx="271.3" cy="441.1" r="4.7" class="l"/>
<circle cx="264.5" cy="332.1" r="4.7" class="l"/>
<circle cx="197.6" cy="435.0" r="4.7" class="l"/>
<circle cx="269.4" cy="339.1" r="4.7" class="l"/>
<circle cx="214.4" cy="367.0" r="4.7" class="l"/>
<circle cx="254.7" cy="326.5" r="4.7" class="l"/>
<circle cx="197.6" cy="413.7" r="4.7" class="l"/>
<circle cx="273.1" cy="327.9" r="4.7" class="l"/>
<circle cx="233.7" cy="403.3" r="4.7" class="l"/>
<circle cx="271.2" cy="374.4" r="4.7" class="l"/>
<circle cx="284.4" cy="346.9" r="4.7" class="l"/>
<circle cx="171.1" cy="338.7" r="4.7" class="l"/>
<circle cx="233.4" cy="337.8" r="4.7" class="l"/>
<circle cx="191.2" cy="346.8" r="4.7" class="l"/>
<circle cx="163.3" cy="439.4" r="4.7" class="l"/>
<circle cx="200.2" cy="439.6" r="4.7" class="l"/>
<circle cx="251.5" cy="349.6" r="4.7" class="l"/>
<circle cx="279.1" cy="324.1" r="4.7" class="l"/>
<circle cx="285.6" cy="326.9" r="4.7" class="l"/>
<circle cx="189.4" cy="389.8" r="4.7" class="l"/>
<circle cx="157.2" cy="415.5" r="4.7" class="l"/>
<circle cx="167.2" cy="421.9" r="4.7" class="l"/>
<circle cx="160.6" cy="386.9" r="4.7" class="l"/>
<circle cx="183.6" cy="357.9" r="4.7" class="l"/>
<circle cx="220.7" cy="367.9" r="4.7" class="l"/>
<circle cx="207.7" cy="402.1" r="4.7" class="l"/>
<circle cx="181.8" cy="345.0" r="4.7" class="l"/>
<circle cx="246.3" cy="358.9" r="4.7" class="l"/>
<circle cx="279.2" cy="374.6" r="4.7" class="l"/>
<circle cx="218.6" cy="325.8" r="4.7" class="l"/>
<circle cx="158.7" cy="335.7" r="4.7" class="l"/>
<circle cx="238.6" cy="403.4" r="4.7" class="l"/>
<circle cx="281.7" cy="375.3" r="4.7" class="l"/>
<circle cx="249.4" cy="364.6" r="4.7" class="l"/>
<circle cx="165.8" cy="373.8" r="4.7" class="l"/>
<circle cx="248.6" cy="420.3" r="4.7" class="l"/>
<circle cx="281.7" cy="423.7" r="4.7" class="l"/>
<circle cx="230.4" cy="389.6" r="4.7" class="l"/>
<circle cx="222.1" cy="380.8" r="4.7" class="l"/>
<circle cx="245.8" cy="392.7" r="4.7" class="l"/>
<circle cx="269.1" cy="377.5" r="4.7" class="l"/>
<circle cx="218.2" cy="423.7" r="4.7" class="l"/>
<circle cx="245.2" cy="386.5" r="4.7" class="l"/>
<circle cx="230.4" cy="420.5" r="4.7" class="l"/>
<circle cx="236.2" cy="354.4" r="4.7" class="l"/>
<circle cx="197.0" cy="396.2" r="4.7" class="l"/>
<circle cx="162.1" cy="378.4" r="4.7" class="l"/>
<circle cx="273.7" cy="351.1" r="4.7" class="l"/>
<circle cx="214.6" cy="407.6" r="4.7" class="l"/>
<circle cx="278.2" cy="407.2" r="4.7" class="l"/>
<circle cx="238.6" cy="369.5" r="4.7" class="l"/>
<circle cx="213.7" cy="400.7" r="4.7" class="l"/>
<circle cx="203.0" cy="418.0" r="4.7" class="l"/>
<circle cx="157.1" cy="413.9" r="4.7" class="l"/>
<circle cx="254.0" cy="360.1" r="4.7" class="l"/>
<circle cx="158.0" cy="363.9" r="4.7" class="l"/>
<circle cx="233.8" cy="418.2" r="4.7" class="l"/>
<circle cx="270.9" cy="348.2" r="4.7" class="l"/>
<circle cx="166.8" cy="337.5" r="4.7" class="l"/>
<circle cx="286.6" cy="401.1" r="4.7" class="l"/>
<circle cx="172.9" cy="406.6" r="4.7" class="l"/>
<circle cx="282.7" cy="396.5" r="4.7" class="l"/>
<circle cx="186.7" cy="439.4" r="4.7" class="l"/>
<circle cx="248.5" cy="345.1" r="4.7" class="l"/>
<circle cx="257.1" cy="384.0" r="4.7" class="l"/>
<circle cx="231.8" cy="367.3" r="4.7" class="l"/>
<circle cx="194.8" cy="373.9" r="4.7" class="l"/>
<circle cx="225.5" cy="378.8" r="4.7" class="l"/>
<circle cx="270.3" cy="332.0" r="4.7" class="l"/>
<circle cx="182.3" cy="436.4" r="4.7" class="l"/>
<circle cx="236.2" cy="397.7" r="4.7" class="l"/>
<circle cx="239.1" cy="352.5" r="4.7" class="l"/>
<circle cx="208.1" cy="348.4" r="4.7" class="l"/>
<circle cx="176.1" cy="442.7" r="4.7" class="l"/>
<circle cx="254.2" cy="429.4" r="4.7" class="l"/>
<circle cx="156.2" cy="408.2" r="4.7" class="l"/>
<circle cx="196.6" cy="383.2" r="4.7" class="l"/>
<circle cx="245.1" cy="326.8" r="4.7" class="l"/>
<circle cx="204.9" cy="390.0" r="4.7" class="l"/>
<circle cx="271.4" cy="385.1" r="4.7" class="l"/>
<circle cx="197.9" cy="396.1" r="4.7" class="l"/>
<circle cx="233.0" cy="358.4" r="4.7" class="l"/>
<circle cx="228.3" cy="356.4" r="4.7" class="l"/>
<circle cx="157.5" cy="360.6" r="4.7" class="l"/>
<circle cx="167.4" cy="382.5" r="4.7" class="l"/>
<circle cx="222.2" cy="428.3" r="4.7" class="l"/>
<circle cx="254.7" cy="413.7" r="4.7" class="l"/>
<circle cx="286.6" cy="355.0" r="4.7" class="l"/>
<circle cx="205.2" cy="350.9" r="4.7" class="l"/>
<circle cx="169.5" cy="385.3" r="4.7" class="l"/>
<circle cx="223.5" cy="338.7" r="4.7" class="l"/>
<circle cx="277.8" cy="441.4" r="4.7" class="l"/>
<circle cx="165.0" cy="323.4" r="4.7" class="l"/>
<circle cx="164.2" cy="411.5" r="4.7" class="l"/>
<circle cx="268.5" cy="331.0" r="4.7" class="l"/>
<circle cx="157.2" cy="388.1" r="4.7" class="l"/>
<circle cx="199.9" cy="325.3" r="4.7" class="l"/>
<circle cx="157.2" cy="348.6" r="4.7" class="l"/>
<circle cx="182.4" cy="358.7" r="4.7" class="l"/>
<circle cx="228.7" cy="353.4" r="4.7" class="l"/>
<circle cx="186.8" cy="348.5" r="4.7" class="l"/>
<circle cx="273.1" cy="351.9" r="4.7" class="l"/>
<circle cx="229.3" cy="377.8" r="4.7" class="l"/>
<circle cx="199.7" cy="372.2" r="4.7" class="l"/>
<circle cx="158.1" cy="345.4" r="4.7" class="l"/>
<circle cx="240.5" cy="415.1" r="4.7" class="l"/>
<circle cx="184.8" cy="344.4" r="4.7" class="l"/>
<circle cx="275.6" cy="334.8" r="4.7" class="l"/>
<circle cx="260.9" cy="429.2" r="4.7" class="l"/>
<circle cx="175.3" cy="423.8" r="4.7" class="l"/>
<circle cx="175.8" cy="328.2" r="4.7" class="l"/>
<circle cx="193.8" cy="364.7" r="4.7" class="l"/>
<circle cx="233.8" cy="376.5" r="4.7" class="l"/>
<circle cx="260.7" cy="403.4" r="4.7" class="l"/>
<circle cx="171.7" cy="347.5" r="4.7" class="l"/>
<circle cx="254.5" cy="337.0" r="4.7" class="l"/>
<circle cx="281.7" cy="421.2" r="4.7" class="l"/>
<circle cx="185.0" cy="357.6" r="4.7" class="l"/>
<circle cx="189.3" cy="374.2" r="4.7" class="l"/>
<circle cx="188.8" cy="326.9" r="4.7" class="l"/>
<circle cx="189.2" cy="346.6" r="4.7" class="l"/>
<circle cx="202.2" cy="378.0" r="4.7" class="l"/>
<circle cx="271.4" cy="402.8" r="4.7" class="l"/>
<circle cx="237.2" cy="427.6" r="4.7" class="l"/>
<circle cx="207.0" cy="374.6" r="4.7" class="l"/>
<circle cx="188.3" cy="423.5" r="4.7" class="l"/>
<circle cx="271.8" cy="433.2" r="4.7" class="l"/>
<circle cx="235.9" cy="336.8" r="4.7" class="l"/>
<circle cx="165.5" cy="419.5" r="4.7" class="l"/>
<circle cx="272.9" cy="387.4" r="4.7" class="l"/>
<circle cx="277.5" cy="435.6" r="4.7" class="l"/>
<circle cx="255.6" cy="367.8" r="4.7" class="l"/>
<circle cx="216.2" cy="365.6" r="4.7" class="l"/>
<circle cx="208.3" cy="380.0" r="4.7" class="l"/>
<circle cx="158.3" cy="338.4" r="4.7" class="l"/>
<circle cx="178.2" cy="391.6" r="4.7" class="l"/>
<circle cx="271.1" cy="409.1" r="4.7" class="l"/>
<circle cx="175.7" cy="378.4" r="4.7" class="l"/>
<circle cx="238.8" cy="339.4" r="4.7" class="l"/>
<circle cx="166.5" cy="397.1" r="4.7" class="l"/>
<circle cx="187.1" cy="401.1" r="4.7" class="l"/>
<circle cx="178.6" cy="426.6" r="4.7" class="l"/>
<circle cx="196.9" cy="374.8" r="4.7" class="l"/>
<circle cx="228.6" cy="430.2" r="4.7" class="l"/>
<circle cx="277.0" cy="425.2" r="4.7" class="l"/>
<circle cx="246.4" cy="331.4" r="4.7" class="l"/>
<circle cx="180.7" cy="387.7" r="4.7" class="l"/>
<circle cx="286.0" cy="410.9" r="4.7" class="l"/>
<circle cx="181.3" cy="366.1" r="4.7" class="l"/>
<circle cx="283.0" cy="384.4" r="4.7" class="l"/>
<circle cx="270.9" cy="426.8" r="4.7" class="l"/>
<circle cx="259.2" cy="398.9" r="4.7" class="l"/>
<circle cx="243.9" cy="364.4" r="4.7" class="l"/>
<circle cx="171.9" cy="437.8" r="4.7" class="l"/>
<circle cx="160.3" cy="355.8" r="4.7" class="l"/>
<circle cx="237.0" cy="439.8" r="4.7" class="l"/>
<circle cx="183.7" cy="352.9" r="4.7" class="l"/>
<circle cx="267.9" cy="362.6" r="4.7" class="l"/>
<circle cx="209.2" cy="366.5" r="4.7" class="l"/>
<circle cx="162.5" cy="437.0" r="4.7" class="l"/>
<circle cx="248.1" cy="323.8" r="4.7" class="l"/>
<circle cx="168.8" cy="339.4" r="4.7" class="l"/>
<circle cx="204.7" cy="430.7" r="4.7" class="l"/>
<circle cx="174.6" cy="350.6" r="4.7" class="l"/>
<circle cx="197.1" cy="384.8" r="4.7" class="l"/>
<circle cx="274.9" cy="388.3" r="4.7" class="l"/>
<circle cx="275.3" cy="388.6" r="4.7" class="l"/>
<circle cx="213.0" cy="428.4" r="4.7" class="l"/>
<circle cx="232.7" cy="380.5" r="4.7" class="l"/>
<circle cx="223.6" cy="366.0" r="4.7" class="l"/>
<circle cx="213.2" cy="332.0" r="4.7" class="l"/>
<circle cx="183.1" cy="415.3" r="4.7" class="l"/>
<circle cx="173.6" cy="348.2" r="4.7" class="l"/>
<circle cx="177.6" cy="366.9" r="4.7" class="l"/>
<circle cx="162.5" cy="366.6" r="4.7" class="l"/>
<circle cx="236.5" cy="405.0" r="4.7" class="l"/>
<circle cx="270.5" cy="333.5" r="4.7" class="l"/>
<circle cx="241.0" cy="346.8" r="4.7" class="l"/>
<circle cx="201.2" cy="392.6" r="4.7" class="l"/>
<circle cx="266.6" cy="404.1" r="4.7" class="l"/>
<circle cx="286.1" cy="325.2" r="4.7" class="l"/>
<circle cx="197.7" cy="381.1" r="4.7" class="l"/>
<circle cx="160.8" cy="329.3" r="4.7" class="l"/>
<circle cx="204.4" cy="390.7" r="4.7" class="l"/>
<circle cx="173.9" cy="331.3" r="4.7" class="l"/>
<circle cx="198.1" cy="412.7" r="4.7" class="l"/>
<circle cx="230.9" cy="443.6" r="4.7" class="l"/>
<circle cx="235.9" cy="430.7" r="4.7" class="l"/>
<circle cx="231.6" cy="381.2" r="4.7" class="l"/>
<circle cx="210.9" cy="331.7" r="4.7" class="l"/>
<circle cx="164.3" cy="402.7" r="4.7" class="l"/>
<circle cx="269.4" cy="325.3" r="4.7" class="l"/>
<circle cx="179.8" cy="362.6" r="4.7" class="l"/>
<circle cx="197.3" cy="423.9" r="4.7" class="l"/>
<circle cx="189.3" cy="360.1" r="4.7" class="l"/>
<circle cx="220.4" cy="438.0" r="4.7" class="l"/>
<circle cx="194.9" cy="399.7" r="4.7" class="l"/>
<circle cx="162.4" cy="375.2" r="4.7" class="l"/>
<circle cx="278.4" cy="349.3" r="4.7" class="l"/>
<circle cx="203.1" cy="402.2" r="4.7" class="l"/>
<circle cx="230.7" cy="392.7" r="4.7" class="l"/>
<circle cx="236.3" cy="404.7" r="4.7" class="l"/>
<circle cx="198.6" cy="365.6" r="4.7" class="l"/>
<circle cx="208.4" cy="386.2" r="4.7" class="l"/>
<circle cx="230.8" cy="428.7" r="4.7" class="l"/>
<circle cx="208.3" cy="377.4" r="4.7" class="l"/>
<circle cx="265.9" cy="440.5" r="4.7" class="l"/>
<circle cx="188.1" cy="411.4" r="4.7" class="l"/>
<circle cx="188.7" cy="412.7" r="4.7" class="l"/>
<circle cx="161.1" cy="384.4" r="4.7" class="l"/>
<circle cx="231.2" cy="407.7" r="4.7" class="l"/>
<circle cx="277.0" cy="419.2" r="4.7" class="l"/>
<circle cx="230.3" cy="383.2" r="4.7" class="l"/>
<circle cx="157.7" cy="389.9" r="4.7" class="l"/>
<circle cx="230.2" cy="412.8" r="4.7" class="l"/>
<circle cx="177.8" cy="394.2" r="4.7" class="l"/>
<circle cx="162.8" cy="410.8" r="4.7" class="l"/>
<circle cx="264.5" cy="376.0" r="4.7" class="l"/>
<circle cx="246.8" cy="403.1" r="4.7" class="l"/>
<circle cx="196.1" cy="333.7" r="4.7" class="l"/>
<circle cx="256.1" cy="366.2" r="4.7" class="l"/>
<circle cx="177.3" cy="376.5" r="4.7" class="l"/>
<circle cx="265.9" cy="438.5" r="4.7" class="l"/>
<circle cx="230.9" cy="440.4" r="4.7" class="l"/>
<circle cx="178.9" cy="382.3" r="4.7" class="l"/>
<circle cx="157.1" cy="351.3" r="4.7" class="l"/>
<circle cx="271.7" cy="330.2" r="4.7" class="l"/>
<circle cx="242.4" cy="384.7" r="4.7" class="l"/>
<circle cx="286.4" cy="443.2" r="4.7" class="l"/>
<circle cx="172.3" cy="354.7" r="4.7" class="l"/>
<circle cx="286.9" cy="362.9" r="4.7" class="l"/>
<circle cx="179.8" cy="433.3" r="4.7" class="l"/>
<circle cx="237.5" cy="360.3" r="4.7" class="l"/>
<circle cx="229.2" cy="374.7" r="4.7" class="l"/>
<circle cx="216.5" cy="389.8" r="4.7" class="l"/>
<circle cx="178.4" cy="397.5" r="4.7" class="l"/>
<circle cx="282.1" cy="394.6" r="4.7" class="l"/>
<circle cx="259.9" cy="357.2" r="4.7" class="l"/>
<circle cx="176.4" cy="323.8" r="4.7" class="l"/>
<circle cx="285.5" cy="337.4" r="4.7" class="l"/>
<circle cx="206.2" cy="402.2" r="4.7" class="l"/>
<circle cx="253.0" cy="397.8" r="4.7" class="l"/>
<circle cx="214.0" cy="421.6" r="4.7" class="l"/>
<circle cx="214.4" cy="424.1" r="4.7" class="l"/>
<circle cx="163.1" cy="410.4" r="4.7" class="l"/>
<circle cx="168.8" cy="369.9" r="4.7" class="l"/>
<circle cx="214.5" cy="345.0" r="4.7" class="l"/>
<circle cx="215.3" cy="426.2" r="4.7" class="l"/>
<circle cx="160.8" cy="346.5" r="4.7" class="l"/>
<circle cx="284.8" cy="377.4" r="4.7" class="l"/>
<circle cx="207.4" cy="433.4" r="4.7" class="l"/>
<circle cx="258.4" cy="344.0" r="4.7" class="l"/>
<circle cx="234.9" cy="344.8" r="4.7" class="l"/>
<circle cx="258.4" cy="390.3" r="4.7" class="l"/>
<circle cx="261.4" cy="330.9" r="4.7" class="l"/>
<circle cx="278.5" cy="350.8" r="4.7" class="l"/>
<circle cx="268.2" cy="376.4" r="4.7" class="l"/>
<circle cx="273.3" cy="335.3" r="4.7" class="l"/>
<circle cx="163.1" cy="379.7" r="4.7" class="l"/>
<circle cx="278.8" cy="379.3" r="4.7" class="l"/>
<circle cx="223.0" cy="342.9" r="4.7" class="l"/>
<circle cx="227.4" cy="374.7" r="4.7" class="l"/>
<circle cx="273.2" cy="412.7" r="4.7" class="l"/>
<circle cx="219.1" cy="341.0" r="4.7" class="l"/>
<circle cx="175.3" cy="440.5" r="4.7" class="l"/>
<circle cx="236.7" cy="350.2" r="4.7" class="l"/>
<circle cx="263.0" cy="349.2" r="4.7" class="l"/>
<circle cx="215.9" cy="429.1" r="4.7" class="l"/>
<circle cx="169.6" cy="335.5" r="4.7" class="l"/>
<circle cx="162.9" cy="341.4" r="4.7" class="l"/>
<circle cx="205.4" cy="361.9" r="4.7" class="l"/>
<circle cx="193.0" cy="324.7" r="4.7" class="l"/>
<circle cx="220.3" cy="376.9" r="4.7" class="l"/>
<circle cx="253.8" cy="359.7" r="4.7" class="l"/>
<circle cx="232.7" cy="360.9" r="4.7" class="l"/>
<circle cx="255.4" cy="344.1" r="4.7" class="l"/>
<circle cx="220.6" cy="376.9" r="4.7" class="l"/>
<circle cx="216.6" cy="388.1" r="4.7" class="l"/>
<circle cx="226.8" cy="361.3" r="4.7" class="l"/>
<circle cx="264.8" cy="438.1" r="4.7" class="l"/>
<circle cx="229.8" cy="399.9" r="4.7" class="l"/>
<circle cx="251.5" cy="361.7" r="4.7" class="l"/>
<circle cx="234.2" cy="379.0" r="4.7" class="l"/>
<circle cx="219.9" cy="370.7" r="4.7" class="l"/>
<circle cx="226.8" cy="349.4" r="4.7" class="l"/>
<circle cx="187.8" cy="347.2" r="4.7" class="l"/>
<circle cx="234.5" cy="352.7" r="4.7" class="l"/>
<circle cx="259.0" cy="432.5" r="4.7" class="l"/>
<circle cx="256.3" cy="362.7" r="4.7" class="l"/>
<circle cx="280.4" cy="364.7" r="4.7" class="l"/>
<circle cx="203.7" cy="395.0" r="4.7" class="l"/>
<circle cx="243.2" cy="372.5" r="4.7" class="l"/>
<circle cx="259.8" cy="426.3" r="4.7" class="l"/>
<circle cx="194.1" cy="350.2" r="4.7" class="l"/>
<circle cx="208.5" cy="407.5" r="4.7" class="l"/>
<circle cx="244.4" cy="344.3" r="4.7" class="l"/>
<circle cx="207.3" cy="432.1" r="4.7" class="l"/>
<circle cx="282.7" cy="396.1" r="4.7" class="l"/>
<circle cx="259.0" cy="424.6" r="4.7" class="l"/>
<circle cx="185.3" cy="331.0" r="4.7" class="l"/>
<circle cx="236.7" cy="369.5" r="4.7" class="l"/>
<circle cx="249.8" cy="358.5" r="4.7" class="l"/>
<circle cx="213.3" cy="420.8" r="4.7" class="l"/>
<circle cx="168.3" cy="372.3" r="4.7" class="l"/>
<circle cx="176.2" cy="387.6" r="4.7" class="l"/>
<circle cx="252.7" cy="442.4" r="4.7" class="l"/>
<circle cx="255.5" cy="340.5" r="4.7" class="l"/>
<circle cx="213.7" cy="388.6" r="4.7" class="l"/>
<circle cx="240.2" cy="407.8" r="4.7" class="l"/>
<circle cx="284.5" cy="437.0" r="4.7" class="l"/>
<circle cx="183.5" cy="342.2" r="4.7" class="l"/>
<circle cx="284.0" cy="342.4" r="4.7" class="l"/>
<circle cx="283.8" cy="337.5" r="4.7" class="l"/>
<circle cx="233.2" cy="338.7" r="4.7" class="l"/>
<circle cx="173.7" cy="363.4" r="4.7" class="l"/>
<circle cx="260.8" cy="408.0" r="4.7" class="l"/>
<circle cx="197.9" cy="339.6" r="4.7" class="l"/>
<circle cx="203.3" cy="344.1" r="4.7" class="l"/>
<circle cx="187.0" cy="383.1" r="4.7" class="l"/>
<circle cx="220.5" cy="434.6" r="4.7" class="l"/>
<circle cx="167.8" cy="387.5" r="4.7" class="l"/>
<circle cx="230.6" cy="340.3" r="4.7" class="l"/>
<circle cx="203.6" cy="339.7" r="4.7" class="l"/>
<circle cx="274.0" cy="365.2" r="4.7" class="l"/>
<circle cx="164.6" cy="380.5" r="4.7" class="l"/>
<circle cx="225.8" cy="430.4" r="4.7" class="l"/>
<circle cx="250.9" cy="347.9" r="4.7" class="l"/>
<circle cx="275.9" cy="323.6" r="4.7" class="l"/>
<circle cx="248.0" cy="328.1" r="4.7" class="l"/>
<circle cx="264.2" cy="345.9" r="4.7" class="l"/>
<circle cx="261.2" cy="421.4" r="4.7" class="l"/>
<circle cx="257.8" cy="336.3" r="4.7" class="l"/>
<circle cx="208.8" cy="335.7" r="4.7" class="l"/>
<circle cx="250.9" cy="443.3" r="4.7" class="l"/>
<circle cx="225.0" cy="401.9" r="4.7" class="l"/>
<circle cx="244.1" cy="340.3" r="4.7" class="l"/>
<circle cx="205.0" cy="365.2" r="4.7" class="l"/>
<circle cx="255.1" cy="372.8" r="4.7" class="l"/>
<circle cx="204.6" cy="389.4" r="4.7" class="l"/>
<circle cx="183.2" cy="330.9" r="4.7" class="l"/>
<circle cx="187.4" cy="325.5" r="4.7" class="l"/>
<circle cx="244.4" cy="378.3" r="4.7" class="l"/>
<circle cx="237.4" cy="391.7" r="4.7" class="l"/>
<circle cx="163.2" cy="421.6" r="4.7" class="l"/>
<circle cx="264.1" cy="323.9" r="4.7" class="l"/>
<circle cx="212.8" cy="418.1" r="4.7" class="l"/>
<circle cx="210.8" cy="427.0" r="4.7" class="l"/>
<circle cx="247.8" cy="402.9" r="4.7" class="l"/>
<circle cx="275.6" cy="417.3" r="4.7" class="l"/>
<circle cx="233.2" cy="328.7" r="4.7" class="l"/>
<circle cx="279.5" cy="445.7" r="4.7" class="l"/>
<circle cx="167.1" cy="440.5" r="4.7" class="l"/>
<circle cx="264.4" cy="444.4" r="4.7" class="l"/>
<circle cx="243.7" cy="441.8" r="4.7" class="l"/>
<circle cx="235.7" cy="443.6" r="4.7" class="l"/>
<circle cx="232.7" cy="441.0" r="4.7" class="l"/>
<circle cx="213.8" cy="442.4" r="4.7" class="l"/>
<circle cx="250.4" cy="446.0" r="4.7" class="l"/>
<circle cx="278.7" cy="443.3" r="4.7" class="l"/>
<circle cx="215.6" cy="441.6" r="4.7" class="l"/>
<circle cx="164.5" cy="440.2" r="4.7" class="l"/>
<circle cx="218.1" cy="441.9" r="4.7" class="l"/>
<circle cx="427.5" cy="330.7" r="4.7" class="l"/>
<circle cx="386.5" cy="323.4" r="4.7" class="l"/>
<circle cx="322.1" cy="328.6" r="4.7" class="l"/>
<circle cx="384.5" cy="329.9" r="4.7" class="l"/>
<circle cx="371.6" cy="330.0" r="4.7" class="l"/>
<circle cx="358.3" cy="330.4" r="4.7" class="l"/>
<circle cx="419.1" cy="325.4" r="4.7" class="l"/>
<circle cx="393.6" cy="328.9" r="4.7" class="l"/>
<circle cx="347.7" cy="327.2" r="4.7" class="l"/>
<circle cx="429.1" cy="323.5" r="4.7" class="l"/>
<circle cx="428.8" cy="328.9" r="4.7" class="l"/>
<circle cx="434.3" cy="324.4" r="4.7" class="l"/>
<circle cx="334.4" cy="330.4" r="4.7" class="l"/>
<circle cx="429.0" cy="325.8" r="4.7" class="l"/>
<circle cx="334.5" cy="322.6" r="4.7" class="l"/>
<circle cx="406.4" cy="323.8" r="4.7" class="l"/>
<circle cx="448.5" cy="327.7" r="4.7" class="l"/>
<circle cx="348.7" cy="328.5" r="4.7" class="l"/>
<circle cx="369.9" cy="332.1" r="4.7" class="l"/>
<circle cx="443.0" cy="326.7" r="4.7" class="l"/>
<circle cx="407.7" cy="329.1" r="4.7" class="l"/>
<circle cx="429.1" cy="332.7" r="4.7" class="l"/>
<circle cx="325.8" cy="324.7" r="4.7" class="l"/>
<circle cx="402.0" cy="324.0" r="4.7" class="l"/>
<circle cx="400.4" cy="321.2" r="4.7" class="l"/>
<circle cx="439.1" cy="326.8" r="4.7" class="l"/>
<circle cx="337.5" cy="328.6" r="4.7" class="l"/>
<circle cx="363.5" cy="322.6" r="4.7" class="l"/>
<circle cx="386.3" cy="321.8" r="4.7" class="l"/>
<circle cx="349.9" cy="331.3" r="4.7" class="l"/>
<circle cx="414.9" cy="320.2" r="4.7" class="l"/>
<circle cx="425.5" cy="320.2" r="4.7" class="l"/>
<circle cx="366.3" cy="331.8" r="4.7" class="l"/>
<circle cx="404.5" cy="324.0" r="4.7" class="l"/>
<circle cx="372.2" cy="325.1" r="4.7" class="l"/>
<circle cx="338.9" cy="333.0" r="4.7" class="l"/>
<circle cx="329.2" cy="325.5" r="4.7" class="l"/>
<circle cx="421.3" cy="325.2" r="4.7" class="l"/>
<circle cx="452.5" cy="323.2" r="4.7" class="l"/>
<circle cx="452.2" cy="331.6" r="4.7" class="l"/>
<circle cx="411.1" cy="331.6" r="4.7" class="l"/>
<circle cx="381.5" cy="330.8" r="4.7" class="l"/>
<circle cx="427.9" cy="326.7" r="4.7" class="l"/>
<circle cx="384.6" cy="329.2" r="4.7" class="l"/>
<circle cx="376.4" cy="321.1" r="4.7" class="l"/>
<circle cx="421.3" cy="323.5" r="4.7" class="l"/>
<circle cx="386.9" cy="330.2" r="4.7" class="l"/>
<circle cx="344.9" cy="320.3" r="4.7" class="l"/>
<circle cx="338.4" cy="327.7" r="4.7" class="l"/>
<circle cx="370.0" cy="323.3" r="4.7" class="l"/>
<circle cx="716.7" cy="331.3" r="4.7" class="l"/>
<circle cx="717.6" cy="325.9" r="4.7" class="l"/>
<circle cx="747.9" cy="340.8" r="4.7" class="l"/>
<circle cx="727.3" cy="324.8" r="4.7" class="l"/>
<circle cx="710.2" cy="328.9" r="4.7" class="l"/>
<circle cx="675.2" cy="343.9" r="4.7" class="l"/>
<circle cx="771.6" cy="322.1" r="4.7" class="l"/>
<circle cx="754.0" cy="335.5" r="4.7" class="l"/>
<circle cx="692.2" cy="327.8" r="4.7" class="l"/>
<circle cx="730.1" cy="332.0" r="4.7" class="l"/>
<circle cx="731.5" cy="336.9" r="4.7" class="l"/>
<circle cx="660.2" cy="339.4" r="4.7" class="l"/>
<circle cx="769.7" cy="344.3" r="4.7" class="l"/>
<circle cx="722.1" cy="322.1" r="4.7" class="l"/>
<circle cx="643.5" cy="324.2" r="4.7" class="l"/>
<circle cx="764.4" cy="328.3" r="4.7" class="l"/>
<circle cx="690.2" cy="342.6" r="4.7" class="l"/>
<circle cx="683.6" cy="334.2" r="4.7" class="l"/>
<circle cx="699.2" cy="322.6" r="4.7" class="l"/>
<circle cx="718.4" cy="341.3" r="4.7" class="l"/>
<circle cx="663.2" cy="326.4" r="4.7" class="l"/>
<circle cx="696.3" cy="321.9" r="4.7" class="l"/>
<circle cx="707.1" cy="340.6" r="4.7" class="l"/>
<circle cx="727.9" cy="333.8" r="4.7" class="l"/>
<circle cx="753.3" cy="324.6" r="4.7" class="l"/>
<circle cx="716.2" cy="330.0" r="4.7" class="l"/>
<circle cx="720.6" cy="323.7" r="4.7" class="l"/>
<circle cx="743.0" cy="323.3" r="4.7" class="l"/>
<circle cx="664.5" cy="340.4" r="4.7" class="l"/>
<circle cx="765.3" cy="331.4" r="4.7" class="l"/>
<circle cx="696.4" cy="326.9" r="4.7" class="l"/>
<circle cx="678.4" cy="335.8" r="4.7" class="l"/>
<circle cx="666.0" cy="323.9" r="4.7" class="l"/>
<circle cx="701.8" cy="325.0" r="4.7" class="l"/>
<circle cx="726.7" cy="340.7" r="4.7" class="l"/>
<circle cx="743.3" cy="332.5" r="4.7" class="l"/>
<circle cx="687.8" cy="331.4" r="4.7" class="l"/>
<circle cx="643.6" cy="338.1" r="4.7" class="l"/>
<circle cx="685.8" cy="328.7" r="4.7" class="l"/>
<circle cx="653.3" cy="331.8" r="4.7" class="l"/>
<circle cx="718.2" cy="330.4" r="4.7" class="l"/>
<circle cx="755.2" cy="337.2" r="4.7" class="l"/>
<circle cx="674.1" cy="333.6" r="4.7" class="l"/>
<circle cx="760.5" cy="333.5" r="4.7" class="l"/>
<circle cx="720.7" cy="322.5" r="4.7" class="l"/>
<circle cx="706.1" cy="332.1" r="4.7" class="l"/>
<circle cx="694.7" cy="331.1" r="4.7" class="l"/>
<circle cx="718.5" cy="333.9" r="4.7" class="l"/>
<circle cx="706.2" cy="325.0" r="4.7" class="l"/>
<circle cx="699.9" cy="344.2" r="4.7" class="l"/>
<circle cx="696.6" cy="321.8" r="4.7" class="l"/>
<circle cx="643.4" cy="333.9" r="4.7" class="l"/>
<circle cx="649.5" cy="323.2" r="4.7" class="l"/>
<circle cx="657.0" cy="331.9" r="4.7" class="l"/>
<circle cx="771.1" cy="332.6" r="4.7" class="l"/>
<circle cx="702.2" cy="331.5" r="4.7" class="l"/>
<circle cx="707.6" cy="331.7" r="4.7" class="l"/>
<circle cx="736.7" cy="342.6" r="4.7" class="l"/>
<circle cx="733.0" cy="331.2" r="4.7" class="l"/>
<circle cx="726.8" cy="342.8" r="4.7" class="l"/>
<circle cx="662.8" cy="326.7" r="4.7" class="l"/>
<circle cx="722.9" cy="337.5" r="4.7" class="l"/>
<circle cx="725.9" cy="335.1" r="4.7" class="l"/>
<circle cx="750.0" cy="332.5" r="4.7" class="l"/>
<circle cx="747.2" cy="344.1" r="4.7" class="l"/>
<circle cx="699.2" cy="341.6" r="4.7" class="l"/>
<circle cx="735.7" cy="342.3" r="4.7" class="l"/>
<circle cx="649.0" cy="342.9" r="4.7" class="l"/>
<circle cx="741.9" cy="344.1" r="4.7" class="l"/>
<circle cx="769.6" cy="327.9" r="4.7" class="l"/>
<circle cx="323.7" cy="338.3" r="4.7" class="l"/>
<circle cx="334.8" cy="339.4" r="4.7" class="l"/>
<circle cx="322.9" cy="330.6" r="4.7" class="l"/>
<circle cx="330.5" cy="330.6" r="4.7" class="l"/>
<circle cx="346.7" cy="336.6" r="4.7" class="l"/>
<circle cx="350.0" cy="347.6" r="4.7" class="l"/>
<circle cx="356.0" cy="345.0" r="4.7" class="l"/>
<circle cx="363.7" cy="331.5" r="4.7" class="l"/>
<circle cx="367.9" cy="339.1" r="4.7" class="l"/>
<circle cx="370.5" cy="345.0" r="4.7" class="l"/>
<circle cx="376.4" cy="346.8" r="4.7" class="l"/>
<circle cx="382.4" cy="343.4" r="4.7" class="l"/>
<circle cx="388.3" cy="344.5" r="4.7" class="l"/>
<circle cx="377.3" cy="354.4" r="4.7" class="l"/>
<circle cx="381.5" cy="351.9" r="4.7" class="l"/>
<circle cx="374.7" cy="325.5" r="4.7" class="l"/>
<circle cx="383.2" cy="331.5" r="4.7" class="l"/>
<circle cx="396.8" cy="324.7" r="4.7" class="l"/>
<circle cx="408.7" cy="340.8" r="4.7" class="l"/>
<circle cx="407.9" cy="330.6" r="4.7" class="l"/>
<circle cx="417.2" cy="327.2" r="4.7" class="l"/>
<circle cx="424.0" cy="342.5" r="4.7" class="l"/>
<circle cx="430.8" cy="339.1" r="4.7" class="l"/>
<circle cx="429.1" cy="332.3" r="4.7" class="l"/>
<circle cx="434.2" cy="340.8" r="4.7" class="l"/>
<circle cx="441.0" cy="325.5" r="4.7" class="l"/>
<circle cx="451.2" cy="328.9" r="4.7" class="l"/>
<circle cx="454.6" cy="321.3" r="4.7" class="l"/>
<circle cx="322.9" cy="357.8" r="4.7" class="l"/>
<circle cx="331.4" cy="364.3" r="4.7" class="l"/>
<circle cx="350.6" cy="367.7" r="4.7" class="l"/>
<circle cx="359.1" cy="359.8" r="4.7" class="l"/>
<circle cx="408.7" cy="354.7" r="4.7" class="l"/>
<circle cx="410.4" cy="363.8" r="4.7" class="l"/>
<circle cx="434.5" cy="364.3" r="4.7" class="l"/>
<circle cx="322.9" cy="379.8" r="4.7" class="l"/>
<circle cx="380.7" cy="379.3" r="4.7" class="l"/>
<circle cx="383.2" cy="377.6" r="4.7" class="l"/>
<circle cx="403.6" cy="385.5" r="4.7" class="l"/>
<circle cx="441.9" cy="388.3" r="4.7" class="l"/>
<circle cx="382.4" cy="390.6" r="4.7" class="l"/>
<circle cx="366.2" cy="399.7" r="4.7" class="l"/>
<circle cx="406.7" cy="420.0" r="4.7" class="l"/>
<circle cx="350.0" cy="437.6" r="4.7" class="l"/>
<circle cx="322.9" cy="449.8" r="4.7" class="l"/>
<circle cx="333.1" cy="449.8" r="4.7" class="l"/>
<circle cx="358.0" cy="449.8" r="4.7" class="l"/>
<circle cx="400.7" cy="449.8" r="4.7" class="l"/>
<circle cx="347.5" cy="325.5" r="4.7" class="l"/>
<circle cx="354.3" cy="323.8" r="4.7" class="l"/>
<circle cx="345.8" cy="322.1" r="4.7" class="l"/>
<circle cx="327.1" cy="323.8" r="4.7" class="l"/>
<circle cx="645.8" cy="379.0" r="4.7" class="l"/>
<circle cx="646.2" cy="385.8" r="4.7" class="l"/>
<circle cx="666.0" cy="383.1" r="4.7" class="l"/>
<circle cx="679.0" cy="376.4" r="4.7" class="l"/>
<circle cx="678.2" cy="389.4" r="4.7" class="l"/>
<circle cx="693.9" cy="377.7" r="4.7" class="l"/>
<circle cx="702.0" cy="375.9" r="4.7" class="l"/>
<circle cx="712.8" cy="378.6" r="4.7" class="l"/>
<circle cx="716.0" cy="381.3" r="4.7" class="l"/>
<circle cx="722.2" cy="391.2" r="4.7" class="l"/>
<circle cx="731.7" cy="388.0" r="4.7" class="l"/>
<circle cx="739.8" cy="390.3" r="4.7" class="l"/>
<circle cx="744.3" cy="389.4" r="4.7" class="l"/>
<circle cx="753.3" cy="393.0" r="4.7" class="l"/>
<circle cx="764.6" cy="389.0" r="4.7" class="l"/>
<circle cx="662.0" cy="399.8" r="4.7" class="l"/>
<circle cx="671.4" cy="399.8" r="4.7" class="l"/>
<circle cx="666.0" cy="405.6" r="4.7" class="l"/>
<circle cx="666.9" cy="409.2" r="4.7" class="l"/>
<circle cx="691.7" cy="402.0" r="4.7" class="l"/>
<circle cx="701.1" cy="407.0" r="4.7" class="l"/>
<circle cx="713.2" cy="399.3" r="4.7" class="l"/>
<circle cx="747.9" cy="402.9" r="4.7" class="l"/>
<circle cx="747.0" cy="409.2" r="4.7" class="l"/>
<circle cx="765.9" cy="403.4" r="4.7" class="l"/>
<circle cx="690.8" cy="419.1" r="4.7" class="l"/>
<circle cx="743.0" cy="420.0" r="4.7" class="l"/>
<circle cx="710.1" cy="427.2" r="4.7" class="l"/>
<circle cx="709.2" cy="436.2" r="4.7" class="l"/>
<circle cx="685.4" cy="434.0" r="4.7" class="l"/>
<circle cx="647.6" cy="449.3" r="4.7" class="l"/>
<circle cx="666.0" cy="449.3" r="4.7" class="l"/>
<circle cx="670.5" cy="449.3" r="4.7" class="l"/>
<circle cx="707.4" cy="449.3" r="4.7" class="l"/>
<circle cx="728.6" cy="449.3" r="4.7" class="l"/>
<circle cx="645.6" cy="325.5" r="4.7" class="l"/>
<circle cx="653.0" cy="324.4" r="4.7" class="l"/>
<circle cx="659.3" cy="326.5" r="4.7" class="l"/>
<circle cx="666.6" cy="327.6" r="4.7" class="l"/>
<circle cx="671.9" cy="326.5" r="4.7" class="l"/>
<circle cx="684.5" cy="325.5" r="4.7" class="l"/>
<circle cx="688.7" cy="328.6" r="4.7" class="l"/>
<circle cx="698.1" cy="323.9" r="4.7" class="l"/>
<circle cx="707.6" cy="325.5" r="4.7" class="l"/>
<circle cx="647.7" cy="331.8" r="4.7" class="l"/>
<circle cx="657.2" cy="332.8" r="4.7" class="l"/>
<circle cx="663.5" cy="331.8" r="4.7" class="l"/>
<circle cx="669.8" cy="333.9" r="4.7" class="l"/>
<circle cx="679.2" cy="336.0" r="4.7" class="l"/>
<circle cx="694.0" cy="336.0" r="4.7" class="l"/>
<circle cx="703.4" cy="339.1" r="4.7" class="l"/>
<circle cx="709.7" cy="336.0" r="4.7" class="l"/>
<circle cx="645.6" cy="341.2" r="4.7" class="l"/>
<circle cx="642.5" cy="346.5" r="4.7" class="l"/>
<circle cx="643.5" cy="351.7" r="4.7" class="l"/>
<circle cx="645.6" cy="356.0" r="4.7" class="l"/>
<circle cx="663.5" cy="340.2" r="4.7" class="l"/>
<circle cx="674.0" cy="341.2" r="4.7" class="l"/>
<circle cx="677.1" cy="346.5" r="4.7" class="l"/>
<circle cx="671.9" cy="347.5" r="4.7" class="l"/>
<circle cx="686.6" cy="345.4" r="4.7" class="l"/>
<circle cx="691.8" cy="342.3" r="4.7" class="l"/>
<circle cx="695.0" cy="348.6" r="4.7" class="l"/>
<circle cx="700.2" cy="346.5" r="4.7" class="l"/>
<circle cx="707.6" cy="343.3" r="4.7" class="l"/>
<circle cx="699.2" cy="353.8" r="4.7" class="l"/>
<circle cx="705.5" cy="356.0" r="4.7" class="l"/>
<circle cx="654.0" cy="351.7" r="4.7" class="l"/>
<circle cx="659.3" cy="353.8" r="4.7" class="l"/>
<circle cx="665.6" cy="352.8" r="4.7" class="l"/>
<circle cx="662.4" cy="358.0" r="4.7" class="l"/>
<circle cx="668.7" cy="360.1" r="4.7" class="l"/>
<circle cx="671.9" cy="362.2" r="4.7" class="l"/>
<circle cx="667.7" cy="366.4" r="4.7" class="l"/>
<circle cx="676.1" cy="369.6" r="4.7" class="l"/>
<circle cx="680.3" cy="369.6" r="4.7" class="l"/>
<circle cx="679.2" cy="375.9" r="4.7" class="l"/>
<circle cx="695.0" cy="363.3" r="4.7" class="l"/>
<circle cx="699.2" cy="362.2" r="4.7" class="l"/>
<circle cx="696.0" cy="369.6" r="4.7" class="l"/>
<circle cx="700.2" cy="371.7" r="4.7" class="l"/>
<circle cx="692.9" cy="375.9" r="4.7" class="l"/>
<circle cx="705.5" cy="373.8" r="4.7" class="l"/>
<circle cx="639.9" cy="367.0" r="4.7" class="l"/>
<circle cx="645.6" cy="379.0" r="4.7" class="l"/>
<circle cx="665.6" cy="382.2" r="4.7" class="l"/>
<circle cx="702.1" cy="323.4" r="4.7" class="l"/>
<circle cx="711.5" cy="324.4" r="4.7" class="l"/>
<circle cx="721.0" cy="323.4" r="4.7" class="l"/>
<circle cx="729.4" cy="323.4" r="4.7" class="l"/>
<circle cx="736.7" cy="324.4" r="4.7" class="l"/>
<circle cx="744.1" cy="324.4" r="4.7" class="l"/>
<circle cx="758.8" cy="323.4" r="4.7" class="l"/>
<circle cx="765.1" cy="323.4" r="4.7" class="l"/>
<circle cx="771.4" cy="325.0" r="4.7" class="l"/>
<circle cx="710.5" cy="331.8" r="4.7" class="l"/>
<circle cx="717.8" cy="330.7" r="4.7" class="l"/>
<circle cx="725.2" cy="330.7" r="4.7" class="l"/>
<circle cx="731.5" cy="331.8" r="4.7" class="l"/>
<circle cx="739.9" cy="331.8" r="4.7" class="l"/>
<circle cx="760.9" cy="330.7" r="4.7" class="l"/>
<circle cx="765.1" cy="335.0" r="4.7" class="l"/>
<circle cx="703.1" cy="339.1" r="4.7" class="l"/>
<circle cx="710.5" cy="340.2" r="4.7" class="l"/>
<circle cx="718.9" cy="339.1" r="4.7" class="l"/>
<circle cx="726.2" cy="339.1" r="4.7" class="l"/>
<circle cx="734.6" cy="339.1" r="4.7" class="l"/>
<circle cx="739.9" cy="342.3" r="4.7" class="l"/>
<circle cx="748.3" cy="341.2" r="4.7" class="l"/>
<circle cx="756.7" cy="340.2" r="4.7" class="l"/>
<circle cx="761.9" cy="342.3" r="4.7" class="l"/>
<circle cx="772.4" cy="342.3" r="4.7" class="l"/>
<circle cx="703.1" cy="346.5" r="4.7" class="l"/>
<circle cx="721.0" cy="346.5" r="4.7" class="l"/>
<circle cx="731.5" cy="345.4" r="4.7" class="l"/>
<circle cx="737.8" cy="346.5" r="4.7" class="l"/>
<circle cx="758.8" cy="347.5" r="4.7" class="l"/>
<circle cx="763.0" cy="349.6" r="4.7" class="l"/>
<circle cx="702.1" cy="354.9" r="4.7" class="l"/>
<circle cx="706.3" cy="357.0" r="4.7" class="l"/>
<circle cx="713.6" cy="357.0" r="4.7" class="l"/>
<circle cx="722.0" cy="356.0" r="4.7" class="l"/>
<circle cx="735.7" cy="355.4" r="4.7" class="l"/>
<circle cx="747.2" cy="352.3" r="4.7" class="l"/>
<circle cx="763.0" cy="356.0" r="4.7" class="l"/>
<circle cx="773.5" cy="353.8" r="4.7" class="l"/>
<circle cx="702.1" cy="363.3" r="4.7" class="l"/>
<circle cx="718.9" cy="363.3" r="4.7" class="l"/>
<circle cx="722.0" cy="368.5" r="4.7" class="l"/>
<circle cx="730.4" cy="369.6" r="4.7" class="l"/>
<circle cx="740.9" cy="370.6" r="4.7" class="l"/>
<circle cx="748.3" cy="363.3" r="4.7" class="l"/>
<circle cx="753.5" cy="370.1" r="4.7" class="l"/>
<circle cx="760.9" cy="367.5" r="4.7" class="l"/>
<circle cx="769.3" cy="369.6" r="4.7" class="l"/>
<circle cx="703.1" cy="371.7" r="4.7" class="l"/>
<circle cx="712.6" cy="378.0" r="4.7" class="l"/>
<circle cx="715.7" cy="380.1" r="4.7" class="l"/>
<circle cx="863.3" cy="325.8" r="4.7" class="l"/>
<circle cx="862.4" cy="330.3" r="4.7" class="l"/>
<circle cx="868.7" cy="323.1" r="4.7" class="l"/>
<circle cx="883.6" cy="324.0" r="4.7" class="l"/>
<circle cx="891.2" cy="327.6" r="4.7" class="l"/>
<circle cx="893.0" cy="324.9" r="4.7" class="l"/>
<circle cx="892.1" cy="330.8" r="4.7" class="l"/>
<circle cx="904.7" cy="324.9" r="4.7" class="l"/>
<circle cx="924.0" cy="325.4" r="4.7" class="l"/>
<circle cx="900.2" cy="337.0" r="4.7" class="l"/>
<circle cx="866.0" cy="338.0" r="4.7" class="l"/>
<circle cx="875.9" cy="342.0" r="4.7" class="l"/>
<circle cx="816.5" cy="337.5" r="4.7" class="l"/>
<circle cx="821.0" cy="337.5" r="4.7" class="l"/>
<circle cx="812.0" cy="342.9" r="4.7" class="l"/>
<circle cx="833.2" cy="337.5" r="4.7" class="l"/>
<circle cx="832.7" cy="349.6" r="4.7" class="l"/>
<circle cx="843.0" cy="348.3" r="4.7" class="l"/>
<circle cx="859.7" cy="349.7" r="4.7" class="l"/>
<circle cx="889.0" cy="354.2" r="4.7" class="l"/>
<circle cx="932.6" cy="341.6" r="4.7" class="l"/>
<circle cx="929.9" cy="353.2" r="4.7" class="l"/>
<circle cx="921.8" cy="362.7" r="4.7" class="l"/>
<circle cx="900.6" cy="364.9" r="4.7" class="l"/>
<circle cx="817.8" cy="359.6" r="4.7" class="l"/>
<circle cx="835.4" cy="365.0" r="4.7" class="l"/>
<circle cx="841.2" cy="368.6" r="4.7" class="l"/>
<circle cx="871.0" cy="374.0" r="4.7" class="l"/>
<circle cx="879.0" cy="368.6" r="4.7" class="l"/>
<circle cx="856.1" cy="378.0" r="4.7" class="l"/>
<circle cx="852.5" cy="382.0" r="4.7" class="l"/>
<circle cx="823.7" cy="387.0" r="4.7" class="l"/>
<circle cx="869.6" cy="392.4" r="4.7" class="l"/>
<circle cx="815.6" cy="394.2" r="4.7" class="l"/>
<circle cx="816.0" cy="397.1" r="4.7" class="l"/>
<circle cx="853.0" cy="381.8" r="4.7" class="l"/>
<circle cx="857.0" cy="380.0" r="4.7" class="l"/>
<circle cx="869.6" cy="394.0" r="4.7" class="l"/>
<circle cx="846.2" cy="407.9" r="4.7" class="l"/>
<circle cx="876.8" cy="411.5" r="4.7" class="l"/>
<circle cx="892.6" cy="415.6" r="4.7" class="l"/>
<circle cx="900.6" cy="412.8" r="4.7" class="l"/>
<circle cx="915.0" cy="416.9" r="4.7" class="l"/>
<circle cx="925.0" cy="405.2" r="4.7" class="l"/>
<circle cx="925.9" cy="428.6" r="4.7" class="l"/>
<circle cx="915.5" cy="440.3" r="4.7" class="l"/>
<circle cx="874.1" cy="449.8" r="4.7" class="l"/>
<circle cx="882.2" cy="449.8" r="4.7" class="l"/>
<circle cx="885.8" cy="449.8" r="4.7" class="l"/>
<circle cx="924.5" cy="449.8" r="4.7" class="l"/>
<circle cx="929.0" cy="449.8" r="4.7" class="l"/>
<circle cx="933.5" cy="449.8" r="4.7" class="l"/>
</g><g>
<circle cx="189.4" cy="313.0" r="4.7" class="d"/>
<circle cx="206.8" cy="313.7" r="4.7" class="d"/>
<circle cx="240.6" cy="307.3" r="4.7" class="d"/>
<circle cx="159.7" cy="316.5" r="4.7" class="d"/>
<circle cx="192.2" cy="309.3" r="4.7" class="d"/>
<circle cx="289.4" cy="312.1" r="4.7" class="d"/>
<circle cx="268.4" cy="312.2" r="4.7" class="d"/>
<circle cx="242.4" cy="308.3" r="4.7" class="d"/>
<circle cx="241.8" cy="316.9" r="4.7" class="d"/>
<circle cx="227.1" cy="315.4" r="4.7" class="d"/>
<circle cx="246.6" cy="307.3" r="4.7" class="d"/>
<circle cx="258.1" cy="313.6" r="4.7" class="d"/>
<circle cx="197.8" cy="306.9" r="4.7" class="d"/>
<circle cx="272.2" cy="312.2" r="4.7" class="d"/>
<circle cx="252.9" cy="317.0" r="4.7" class="d"/>
<circle cx="252.3" cy="317.6" r="4.7" class="d"/>
<circle cx="210.1" cy="316.1" r="4.7" class="d"/>
<circle cx="216.7" cy="317.7" r="4.7" class="d"/>
<circle cx="274.0" cy="307.7" r="4.7" class="d"/>
<circle cx="175.9" cy="309.1" r="4.7" class="d"/>
<circle cx="285.4" cy="311.7" r="4.7" class="d"/>
<circle cx="240.7" cy="310.1" r="4.7" class="d"/>
<circle cx="225.0" cy="311.1" r="4.7" class="d"/>
<circle cx="204.3" cy="313.5" r="4.7" class="d"/>
<circle cx="235.1" cy="317.4" r="4.7" class="d"/>
<circle cx="248.0" cy="317.6" r="4.7" class="d"/>
<circle cx="271.0" cy="318.4" r="4.7" class="d"/>
<circle cx="246.6" cy="308.5" r="4.7" class="d"/>
<circle cx="271.6" cy="318.1" r="4.7" class="d"/>
<circle cx="277.4" cy="313.3" r="4.7" class="d"/>
<circle cx="252.2" cy="309.0" r="4.7" class="d"/>
<circle cx="267.8" cy="313.4" r="4.7" class="d"/>
<circle cx="195.6" cy="307.3" r="4.7" class="d"/>
<circle cx="270.7" cy="318.4" r="4.7" class="d"/>
<circle cx="169.7" cy="316.1" r="4.7" class="d"/>
<circle cx="212.2" cy="308.3" r="4.7" class="d"/>
<circle cx="196.8" cy="315.7" r="4.7" class="d"/>
<circle cx="273.2" cy="307.0" r="4.7" class="d"/>
<circle cx="239.1" cy="307.0" r="4.7" class="d"/>
<circle cx="252.8" cy="310.5" r="4.7" class="d"/>
<circle cx="274.3" cy="318.3" r="4.7" class="d"/>
<circle cx="224.7" cy="318.5" r="4.7" class="d"/>
<circle cx="198.9" cy="307.4" r="4.7" class="d"/>
<circle cx="237.2" cy="306.9" r="4.7" class="d"/>
<circle cx="184.1" cy="311.4" r="4.7" class="d"/>
<circle cx="238.6" cy="308.4" r="4.7" class="d"/>
<circle cx="163.6" cy="316.9" r="4.7" class="d"/>
<circle cx="199.4" cy="318.0" r="4.7" class="d"/>
<circle cx="276.4" cy="311.0" r="4.7" class="d"/>
<circle cx="218.8" cy="312.7" r="4.7" class="d"/>
<circle cx="243.0" cy="313.6" r="4.7" class="d"/>
<circle cx="231.8" cy="313.9" r="4.7" class="d"/>
<circle cx="282.2" cy="312.6" r="4.7" class="d"/>
<circle cx="214.9" cy="315.1" r="4.7" class="d"/>
<circle cx="189.4" cy="310.1" r="4.7" class="d"/>
<circle cx="287.1" cy="312.8" r="4.7" class="d"/>
<circle cx="230.4" cy="306.6" r="4.7" class="d"/>
<circle cx="212.8" cy="313.5" r="4.7" class="d"/>
<circle cx="160.6" cy="313.9" r="4.7" class="d"/>
<circle cx="241.4" cy="307.2" r="4.7" class="d"/>
<circle cx="240.8" cy="312.1" r="4.7" class="d"/>
<circle cx="247.7" cy="310.7" r="4.7" class="d"/>
<circle cx="251.3" cy="315.4" r="4.7" class="d"/>
<circle cx="160.9" cy="307.2" r="4.7" class="d"/>
<circle cx="247.2" cy="318.1" r="4.7" class="d"/>
<circle cx="191.1" cy="312.0" r="4.7" class="d"/>
<circle cx="236.2" cy="310.3" r="4.7" class="d"/>
<circle cx="206.0" cy="310.3" r="4.7" class="d"/>
<circle cx="206.7" cy="313.6" r="4.7" class="d"/>
<circle cx="197.7" cy="311.0" r="4.7" class="d"/>
<circle cx="259.9" cy="306.8" r="4.7" class="d"/>
<circle cx="233.1" cy="315.3" r="4.7" class="d"/>
<circle cx="198.9" cy="309.2" r="4.7" class="d"/>
<circle cx="264.1" cy="309.4" r="4.7" class="d"/>
<circle cx="182.7" cy="311.7" r="4.7" class="d"/>
<circle cx="250.1" cy="307.7" r="4.7" class="d"/>
<circle cx="200.5" cy="310.5" r="4.7" class="d"/>
<circle cx="268.0" cy="311.8" r="4.7" class="d"/>
<circle cx="270.9" cy="308.5" r="4.7" class="d"/>
<circle cx="202.4" cy="314.3" r="4.7" class="d"/>
<circle cx="274.8" cy="311.9" r="4.7" class="d"/>
<circle cx="187.7" cy="308.0" r="4.7" class="d"/>
<circle cx="227.9" cy="308.8" r="4.7" class="d"/>
<circle cx="264.5" cy="316.6" r="4.7" class="d"/>
<circle cx="182.2" cy="309.8" r="4.7" class="d"/>
<circle cx="264.6" cy="314.2" r="4.7" class="d"/>
<circle cx="264.4" cy="310.6" r="4.7" class="d"/>
<circle cx="175.1" cy="310.0" r="4.7" class="d"/>
<circle cx="262.8" cy="309.8" r="4.7" class="d"/>
<circle cx="203.7" cy="311.5" r="4.7" class="d"/>
<circle cx="213.4" cy="311.4" r="4.7" class="d"/>
<circle cx="279.5" cy="308.4" r="4.7" class="d"/>
<circle cx="158.6" cy="317.8" r="4.7" class="d"/>
<circle cx="274.2" cy="318.3" r="4.7" class="d"/>
<circle cx="215.3" cy="317.9" r="4.7" class="d"/>
<circle cx="280.4" cy="309.2" r="4.7" class="d"/>
<circle cx="256.4" cy="316.5" r="4.7" class="d"/>
<circle cx="245.5" cy="312.7" r="4.7" class="d"/>
<circle cx="196.2" cy="310.6" r="4.7" class="d"/>
<circle cx="188.0" cy="307.3" r="4.7" class="d"/>
<circle cx="235.7" cy="309.9" r="4.7" class="d"/>
<circle cx="264.9" cy="307.0" r="4.7" class="d"/>
<circle cx="277.3" cy="314.8" r="4.7" class="d"/>
<circle cx="279.9" cy="317.3" r="4.7" class="d"/>
<circle cx="276.8" cy="313.4" r="4.7" class="d"/>
<circle cx="159.7" cy="315.4" r="4.7" class="d"/>
<circle cx="180.7" cy="310.1" r="4.7" class="d"/>
<circle cx="245.5" cy="312.8" r="4.7" class="d"/>
<circle cx="212.6" cy="317.8" r="4.7" class="d"/>
<circle cx="238.8" cy="310.6" r="4.7" class="d"/>
<circle cx="191.3" cy="316.8" r="4.7" class="d"/>
<circle cx="221.0" cy="315.9" r="4.7" class="d"/>
<circle cx="204.4" cy="308.9" r="4.7" class="d"/>
<circle cx="228.6" cy="316.3" r="4.7" class="d"/>
<circle cx="180.6" cy="316.0" r="4.7" class="d"/>
<circle cx="279.7" cy="316.2" r="4.7" class="d"/>
<circle cx="266.7" cy="306.6" r="4.7" class="d"/>
<circle cx="241.0" cy="316.9" r="4.7" class="d"/>
<circle cx="164.6" cy="309.8" r="4.7" class="d"/>
<circle cx="193.5" cy="312.8" r="4.7" class="d"/>
<circle cx="353.4" cy="254.3" r="4.7" class="d"/>
<circle cx="374.7" cy="258.0" r="4.7" class="d"/>
<circle cx="330.8" cy="275.5" r="4.7" class="d"/>
<circle cx="444.1" cy="303.8" r="4.7" class="d"/>
<circle cx="423.8" cy="262.8" r="4.7" class="d"/>
<circle cx="393.4" cy="266.6" r="4.7" class="d"/>
<circle cx="345.0" cy="254.5" r="4.7" class="d"/>
<circle cx="350.5" cy="312.9" r="4.7" class="d"/>
<circle cx="432.2" cy="304.3" r="4.7" class="d"/>
<circle cx="428.5" cy="260.7" r="4.7" class="d"/>
<circle cx="363.2" cy="291.5" r="4.7" class="d"/>
<circle cx="419.3" cy="307.7" r="4.7" class="d"/>
<circle cx="439.0" cy="253.2" r="4.7" class="d"/>
<circle cx="402.6" cy="294.7" r="4.7" class="d"/>
<circle cx="389.3" cy="259.6" r="4.7" class="d"/>
<circle cx="385.0" cy="253.3" r="4.7" class="d"/>
<circle cx="446.3" cy="308.4" r="4.7" class="d"/>
<circle cx="394.8" cy="268.3" r="4.7" class="d"/>
<circle cx="442.9" cy="287.6" r="4.7" class="d"/>
<circle cx="439.3" cy="307.2" r="4.7" class="d"/>
<circle cx="389.6" cy="276.4" r="4.7" class="d"/>
<circle cx="401.7" cy="277.6" r="4.7" class="d"/>
<circle cx="343.5" cy="268.7" r="4.7" class="d"/>
<circle cx="430.1" cy="250.1" r="4.7" class="d"/>
<circle cx="328.2" cy="291.5" r="4.7" class="d"/>
<circle cx="359.3" cy="285.0" r="4.7" class="d"/>
<circle cx="384.7" cy="271.3" r="4.7" class="d"/>
<circle cx="454.6" cy="260.9" r="4.7" class="d"/>
<circle cx="376.9" cy="261.4" r="4.7" class="d"/>
<circle cx="406.1" cy="266.6" r="4.7" class="d"/>
<circle cx="369.3" cy="300.0" r="4.7" class="d"/>
<circle cx="364.6" cy="286.7" r="4.7" class="d"/>
<circle cx="442.3" cy="254.2" r="4.7" class="d"/>
<circle cx="330.2" cy="263.2" r="4.7" class="d"/>
<circle cx="423.8" cy="290.7" r="4.7" class="d"/>
<circle cx="353.6" cy="270.5" r="4.7" class="d"/>
<circle cx="345.6" cy="279.6" r="4.7" class="d"/>
<circle cx="327.7" cy="296.5" r="4.7" class="d"/>
<circle cx="441.2" cy="314.8" r="4.7" class="d"/>
<circle cx="419.7" cy="315.2" r="4.7" class="d"/>
<circle cx="324.4" cy="267.5" r="4.7" class="d"/>
<circle cx="450.5" cy="302.0" r="4.7" class="d"/>
<circle cx="376.6" cy="314.0" r="4.7" class="d"/>
<circle cx="404.5" cy="305.1" r="4.7" class="d"/>
<circle cx="361.0" cy="260.6" r="4.7" class="d"/>
<circle cx="381.1" cy="256.7" r="4.7" class="d"/>
<circle cx="372.8" cy="315.3" r="4.7" class="d"/>
<circle cx="366.1" cy="247.7" r="4.7" class="d"/>
<circle cx="328.0" cy="259.0" r="4.7" class="d"/>
<circle cx="426.2" cy="272.8" r="4.7" class="d"/>
<circle cx="360.6" cy="253.9" r="4.7" class="d"/>
<circle cx="452.6" cy="277.1" r="4.7" class="d"/>
<circle cx="349.7" cy="251.2" r="4.7" class="d"/>
<circle cx="329.4" cy="259.0" r="4.7" class="d"/>
<circle cx="412.0" cy="257.6" r="4.7" class="d"/>
<circle cx="327.4" cy="281.8" r="4.7" class="d"/>
<circle cx="355.1" cy="317.8" r="4.7" class="d"/>
<circle cx="338.3" cy="284.6" r="4.7" class="d"/>
<circle cx="424.9" cy="276.1" r="4.7" class="d"/>
<circle cx="453.4" cy="280.9" r="4.7" class="d"/>
<circle cx="354.2" cy="276.2" r="4.7" class="d"/>
<circle cx="326.9" cy="276.9" r="4.7" class="d"/>
<circle cx="355.1" cy="310.1" r="4.7" class="d"/>
<circle cx="432.5" cy="282.4" r="4.7" class="d"/>
<circle cx="326.2" cy="265.1" r="4.7" class="d"/>
<circle cx="354.2" cy="261.8" r="4.7" class="d"/>
<circle cx="352.8" cy="308.7" r="4.7" class="d"/>
<circle cx="340.8" cy="250.6" r="4.7" class="d"/>
<circle cx="445.4" cy="287.1" r="4.7" class="d"/>
<circle cx="453.7" cy="275.6" r="4.7" class="d"/>
<circle cx="441.8" cy="293.4" r="4.7" class="d"/>
<circle cx="427.2" cy="299.9" r="4.7" class="d"/>
<circle cx="387.7" cy="253.6" r="4.7" class="d"/>
<circle cx="350.1" cy="309.0" r="4.7" class="d"/>
<circle cx="441.7" cy="312.6" r="4.7" class="d"/>
<circle cx="366.8" cy="293.6" r="4.7" class="d"/>
<circle cx="428.3" cy="292.6" r="4.7" class="d"/>
<circle cx="430.4" cy="284.5" r="4.7" class="d"/>
<circle cx="409.1" cy="295.7" r="4.7" class="d"/>
<circle cx="357.7" cy="312.5" r="4.7" class="d"/>
<circle cx="449.2" cy="252.3" r="4.7" class="d"/>
<circle cx="451.2" cy="315.3" r="4.7" class="d"/>
<circle cx="410.9" cy="250.2" r="4.7" class="d"/>
<circle cx="441.6" cy="256.1" r="4.7" class="d"/>
<circle cx="450.8" cy="294.4" r="4.7" class="d"/>
<circle cx="330.0" cy="258.9" r="4.7" class="d"/>
<circle cx="406.5" cy="287.4" r="4.7" class="d"/>
<circle cx="421.3" cy="312.9" r="4.7" class="d"/>
<circle cx="351.1" cy="247.2" r="4.7" class="d"/>
<circle cx="444.7" cy="247.9" r="4.7" class="d"/>
<circle cx="438.6" cy="255.2" r="4.7" class="d"/>
<circle cx="429.7" cy="302.6" r="4.7" class="d"/>
<circle cx="438.8" cy="286.1" r="4.7" class="d"/>
<circle cx="438.9" cy="261.3" r="4.7" class="d"/>
<circle cx="411.3" cy="270.5" r="4.7" class="d"/>
<circle cx="440.6" cy="301.9" r="4.7" class="d"/>
<circle cx="384.7" cy="284.4" r="4.7" class="d"/>
<circle cx="325.5" cy="249.4" r="4.7" class="d"/>
<circle cx="401.1" cy="281.7" r="4.7" class="d"/>
<circle cx="437.0" cy="290.2" r="4.7" class="d"/>
<circle cx="340.5" cy="272.7" r="4.7" class="d"/>
<circle cx="424.1" cy="284.1" r="4.7" class="d"/>
<circle cx="323.4" cy="306.5" r="4.7" class="d"/>
<circle cx="432.1" cy="253.0" r="4.7" class="d"/>
<circle cx="394.3" cy="274.1" r="4.7" class="d"/>
<circle cx="426.7" cy="269.1" r="4.7" class="d"/>
<circle cx="353.1" cy="281.6" r="4.7" class="d"/>
<circle cx="450.5" cy="253.8" r="4.7" class="d"/>
<circle cx="337.2" cy="291.1" r="4.7" class="d"/>
<circle cx="439.8" cy="283.4" r="4.7" class="d"/>
<circle cx="379.7" cy="307.9" r="4.7" class="d"/>
<circle cx="425.3" cy="251.8" r="4.7" class="d"/>
<circle cx="439.2" cy="260.9" r="4.7" class="d"/>
<circle cx="362.2" cy="306.4" r="4.7" class="d"/>
<circle cx="378.2" cy="303.7" r="4.7" class="d"/>
<circle cx="344.3" cy="309.1" r="4.7" class="d"/>
<circle cx="345.5" cy="257.6" r="4.7" class="d"/>
<circle cx="387.7" cy="271.0" r="4.7" class="d"/>
<circle cx="394.1" cy="311.2" r="4.7" class="d"/>
<circle cx="416.5" cy="247.4" r="4.7" class="d"/>
<circle cx="363.5" cy="285.7" r="4.7" class="d"/>
<circle cx="386.7" cy="297.8" r="4.7" class="d"/>
<circle cx="386.4" cy="252.4" r="4.7" class="d"/>
<circle cx="354.6" cy="307.2" r="4.7" class="d"/>
<circle cx="369.5" cy="301.4" r="4.7" class="d"/>
<circle cx="453.1" cy="291.5" r="4.7" class="d"/>
<circle cx="412.0" cy="290.3" r="4.7" class="d"/>
<circle cx="363.7" cy="311.8" r="4.7" class="d"/>
<circle cx="384.1" cy="311.7" r="4.7" class="d"/>
<circle cx="362.7" cy="308.6" r="4.7" class="d"/>
<circle cx="426.7" cy="290.5" r="4.7" class="d"/>
<circle cx="380.8" cy="257.0" r="4.7" class="d"/>
<circle cx="424.5" cy="272.7" r="4.7" class="d"/>
<circle cx="410.1" cy="256.5" r="4.7" class="d"/>
<circle cx="333.0" cy="257.2" r="4.7" class="d"/>
<circle cx="429.6" cy="259.6" r="4.7" class="d"/>
<circle cx="442.0" cy="273.4" r="4.7" class="d"/>
<circle cx="398.6" cy="271.9" r="4.7" class="d"/>
<circle cx="404.6" cy="253.6" r="4.7" class="d"/>
<circle cx="375.5" cy="313.5" r="4.7" class="d"/>
<circle cx="345.9" cy="293.5" r="4.7" class="d"/>
<circle cx="365.4" cy="268.3" r="4.7" class="d"/>
<circle cx="325.1" cy="248.4" r="4.7" class="d"/>
<circle cx="448.3" cy="305.9" r="4.7" class="d"/>
<circle cx="428.5" cy="304.3" r="4.7" class="d"/>
<circle cx="448.8" cy="258.3" r="4.7" class="d"/>
<circle cx="399.7" cy="282.2" r="4.7" class="d"/>
<circle cx="398.3" cy="313.6" r="4.7" class="d"/>
<circle cx="423.1" cy="315.8" r="4.7" class="d"/>
<circle cx="337.5" cy="293.3" r="4.7" class="d"/>
<circle cx="411.8" cy="299.9" r="4.7" class="d"/>
<circle cx="404.2" cy="306.0" r="4.7" class="d"/>
<circle cx="362.3" cy="312.9" r="4.7" class="d"/>
<circle cx="376.0" cy="289.5" r="4.7" class="d"/>
<circle cx="441.3" cy="297.0" r="4.7" class="d"/>
<circle cx="363.2" cy="263.4" r="4.7" class="d"/>
<circle cx="365.4" cy="291.5" r="4.7" class="d"/>
<circle cx="454.5" cy="310.8" r="4.7" class="d"/>
<circle cx="375.2" cy="275.4" r="4.7" class="d"/>
<circle cx="430.7" cy="267.1" r="4.7" class="d"/>
<circle cx="376.7" cy="247.9" r="4.7" class="d"/>
<circle cx="346.5" cy="285.4" r="4.7" class="d"/>
<circle cx="414.2" cy="290.6" r="4.7" class="d"/>
<circle cx="370.5" cy="314.5" r="4.7" class="d"/>
<circle cx="404.9" cy="258.1" r="4.7" class="d"/>
<circle cx="331.0" cy="316.1" r="4.7" class="d"/>
<circle cx="453.4" cy="312.3" r="4.7" class="d"/>
<circle cx="402.3" cy="269.2" r="4.7" class="d"/>
<circle cx="334.1" cy="265.3" r="4.7" class="d"/>
<circle cx="351.5" cy="312.9" r="4.7" class="d"/>
<circle cx="440.7" cy="302.2" r="4.7" class="d"/>
<circle cx="341.8" cy="263.9" r="4.7" class="d"/>
<circle cx="361.8" cy="314.3" r="4.7" class="d"/>
<circle cx="343.7" cy="303.1" r="4.7" class="d"/>
<circle cx="412.5" cy="285.8" r="4.7" class="d"/>
<circle cx="449.6" cy="265.6" r="4.7" class="d"/>
<circle cx="391.7" cy="258.2" r="4.7" class="d"/>
<circle cx="334.9" cy="249.3" r="4.7" class="d"/>
<circle cx="364.1" cy="255.6" r="4.7" class="d"/>
<circle cx="330.1" cy="317.5" r="4.7" class="d"/>
<circle cx="360.4" cy="310.2" r="4.7" class="d"/>
<circle cx="415.4" cy="298.9" r="4.7" class="d"/>
<circle cx="409.1" cy="314.6" r="4.7" class="d"/>
<circle cx="438.8" cy="298.1" r="4.7" class="d"/>
<circle cx="396.5" cy="296.3" r="4.7" class="d"/>
<circle cx="418.3" cy="286.2" r="4.7" class="d"/>
<circle cx="388.8" cy="257.9" r="4.7" class="d"/>
<circle cx="434.3" cy="281.4" r="4.7" class="d"/>
<circle cx="331.0" cy="258.9" r="4.7" class="d"/>
<circle cx="438.3" cy="265.2" r="4.7" class="d"/>
<circle cx="374.0" cy="295.4" r="4.7" class="d"/>
<circle cx="436.6" cy="270.3" r="4.7" class="d"/>
<circle cx="373.4" cy="277.0" r="4.7" class="d"/>
<circle cx="325.7" cy="309.2" r="4.7" class="d"/>
<circle cx="324.5" cy="315.2" r="4.7" class="d"/>
<circle cx="342.3" cy="258.1" r="4.7" class="d"/>
<circle cx="434.9" cy="305.5" r="4.7" class="d"/>
<circle cx="352.9" cy="286.3" r="4.7" class="d"/>
<circle cx="385.4" cy="298.0" r="4.7" class="d"/>
<circle cx="346.6" cy="305.6" r="4.7" class="d"/>
<circle cx="454.5" cy="297.2" r="4.7" class="d"/>
<circle cx="444.5" cy="313.5" r="4.7" class="d"/>
<circle cx="372.5" cy="307.2" r="4.7" class="d"/>
<circle cx="432.9" cy="288.7" r="4.7" class="d"/>
<circle cx="336.3" cy="291.0" r="4.7" class="d"/>
<circle cx="443.3" cy="268.7" r="4.7" class="d"/>
<circle cx="408.0" cy="310.7" r="4.7" class="d"/>
<circle cx="401.8" cy="249.6" r="4.7" class="d"/>
<circle cx="406.0" cy="265.2" r="4.7" class="d"/>
<circle cx="436.1" cy="294.0" r="4.7" class="d"/>
<circle cx="362.9" cy="310.6" r="4.7" class="d"/>
<circle cx="405.1" cy="271.1" r="4.7" class="d"/>
<circle cx="432.9" cy="310.3" r="4.7" class="d"/>
<circle cx="440.8" cy="309.7" r="4.7" class="d"/>
<circle cx="409.6" cy="296.6" r="4.7" class="d"/>
<circle cx="402.4" cy="284.4" r="4.7" class="d"/>
<circle cx="453.3" cy="272.1" r="4.7" class="d"/>
<circle cx="332.8" cy="297.7" r="4.7" class="d"/>
<circle cx="388.2" cy="285.7" r="4.7" class="d"/>
<circle cx="401.5" cy="264.7" r="4.7" class="d"/>
<circle cx="348.7" cy="252.1" r="4.7" class="d"/>
<circle cx="426.0" cy="311.5" r="4.7" class="d"/>
<circle cx="414.7" cy="255.3" r="4.7" class="d"/>
<circle cx="452.1" cy="305.7" r="4.7" class="d"/>
<circle cx="389.7" cy="247.1" r="4.7" class="d"/>
<circle cx="434.2" cy="291.3" r="4.7" class="d"/>
<circle cx="404.8" cy="248.3" r="4.7" class="d"/>
<circle cx="419.5" cy="249.4" r="4.7" class="d"/>
<circle cx="385.6" cy="257.3" r="4.7" class="d"/>
<circle cx="369.9" cy="310.2" r="4.7" class="d"/>
<circle cx="421.5" cy="304.9" r="4.7" class="d"/>
<circle cx="361.7" cy="274.6" r="4.7" class="d"/>
<circle cx="402.4" cy="249.4" r="4.7" class="d"/>
<circle cx="376.8" cy="316.2" r="4.7" class="d"/>
<circle cx="422.3" cy="308.3" r="4.7" class="d"/>
<circle cx="361.7" cy="296.0" r="4.7" class="d"/>
<circle cx="426.9" cy="297.0" r="4.7" class="d"/>
<circle cx="380.2" cy="259.4" r="4.7" class="d"/>
<circle cx="324.4" cy="310.0" r="4.7" class="d"/>
<circle cx="445.9" cy="266.6" r="4.7" class="d"/>
<circle cx="422.5" cy="275.9" r="4.7" class="d"/>
<circle cx="405.5" cy="306.8" r="4.7" class="d"/>
<circle cx="364.7" cy="291.0" r="4.7" class="d"/>
<circle cx="356.0" cy="283.3" r="4.7" class="d"/>
<circle cx="326.0" cy="265.7" r="4.7" class="d"/>
<circle cx="360.2" cy="311.9" r="4.7" class="d"/>
<circle cx="339.6" cy="300.8" r="4.7" class="d"/>
<circle cx="333.5" cy="317.0" r="4.7" class="d"/>
<circle cx="344.1" cy="253.5" r="4.7" class="d"/>
<circle cx="350.1" cy="313.2" r="4.7" class="d"/>
<circle cx="410.9" cy="310.2" r="4.7" class="d"/>
<circle cx="388.4" cy="255.1" r="4.7" class="d"/>
<circle cx="367.3" cy="279.3" r="4.7" class="d"/>
<circle cx="453.7" cy="258.8" r="4.7" class="d"/>
<circle cx="354.5" cy="306.9" r="4.7" class="d"/>
<circle cx="337.2" cy="316.0" r="4.7" class="d"/>
<circle cx="361.4" cy="287.3" r="4.7" class="d"/>
<circle cx="409.9" cy="311.4" r="4.7" class="d"/>
<circle cx="332.1" cy="307.1" r="4.7" class="d"/>
<circle cx="345.8" cy="298.0" r="4.7" class="d"/>
<circle cx="325.6" cy="301.4" r="4.7" class="d"/>
<circle cx="346.1" cy="261.6" r="4.7" class="d"/>
<circle cx="326.6" cy="270.0" r="4.7" class="d"/>
<circle cx="365.6" cy="316.8" r="4.7" class="d"/>
<circle cx="402.7" cy="272.9" r="4.7" class="d"/>
<circle cx="453.7" cy="259.2" r="4.7" class="d"/>
<circle cx="350.6" cy="314.9" r="4.7" class="d"/>
<circle cx="448.5" cy="295.6" r="4.7" class="d"/>
<circle cx="452.2" cy="251.1" r="4.7" class="d"/>
<circle cx="442.2" cy="297.0" r="4.7" class="d"/>
<circle cx="410.9" cy="306.9" r="4.7" class="d"/>
<circle cx="335.9" cy="261.2" r="4.7" class="d"/>
<circle cx="340.3" cy="281.0" r="4.7" class="d"/>
<circle cx="394.6" cy="285.4" r="4.7" class="d"/>
<circle cx="370.2" cy="299.8" r="4.7" class="d"/>
<circle cx="433.5" cy="300.9" r="4.7" class="d"/>
<circle cx="327.0" cy="257.9" r="4.7" class="d"/>
<circle cx="351.2" cy="263.9" r="4.7" class="d"/>
<circle cx="398.3" cy="260.8" r="4.7" class="d"/>
<circle cx="405.1" cy="271.4" r="4.7" class="d"/>
<circle cx="370.4" cy="297.3" r="4.7" class="d"/>
<circle cx="447.6" cy="260.5" r="4.7" class="d"/>
<circle cx="368.3" cy="316.7" r="4.7" class="d"/>
<circle cx="350.3" cy="248.9" r="4.7" class="d"/>
<circle cx="347.4" cy="305.6" r="4.7" class="d"/>
<circle cx="419.3" cy="313.6" r="4.7" class="d"/>
<circle cx="388.1" cy="249.9" r="4.7" class="d"/>
<circle cx="362.7" cy="298.1" r="4.7" class="d"/>
<circle cx="374.2" cy="256.9" r="4.7" class="d"/>
<circle cx="372.0" cy="279.9" r="4.7" class="d"/>
<circle cx="369.3" cy="278.7" r="4.7" class="d"/>
<circle cx="340.1" cy="249.1" r="4.7" class="d"/>
<circle cx="426.2" cy="299.0" r="4.7" class="d"/>
<circle cx="377.6" cy="255.2" r="4.7" class="d"/>
<circle cx="361.3" cy="286.6" r="4.7" class="d"/>
<circle cx="441.0" cy="281.2" r="4.7" class="d"/>
<circle cx="451.5" cy="284.4" r="4.7" class="d"/>
<circle cx="346.1" cy="290.7" r="4.7" class="d"/>
<circle cx="401.8" cy="289.5" r="4.7" class="d"/>
<circle cx="418.4" cy="248.6" r="4.7" class="d"/>
<circle cx="380.1" cy="303.8" r="4.7" class="d"/>
<circle cx="340.4" cy="250.0" r="4.7" class="d"/>
<circle cx="346.3" cy="267.3" r="4.7" class="d"/>
<circle cx="379.9" cy="269.3" r="4.7" class="d"/>
<circle cx="406.4" cy="259.1" r="4.7" class="d"/>
<circle cx="368.0" cy="295.0" r="4.7" class="d"/>
<circle cx="394.4" cy="315.1" r="4.7" class="d"/>
<circle cx="446.5" cy="265.3" r="4.7" class="d"/>
<circle cx="366.6" cy="285.2" r="4.7" class="d"/>
<circle cx="394.4" cy="273.0" r="4.7" class="d"/>
<circle cx="436.7" cy="261.0" r="4.7" class="d"/>
<circle cx="384.7" cy="255.5" r="4.7" class="d"/>
<circle cx="439.5" cy="289.3" r="4.7" class="d"/>
<circle cx="453.4" cy="257.2" r="4.7" class="d"/>
<circle cx="416.6" cy="289.4" r="4.7" class="d"/>
<circle cx="328.8" cy="305.2" r="4.7" class="d"/>
<circle cx="438.3" cy="252.7" r="4.7" class="d"/>
<circle cx="447.2" cy="302.7" r="4.7" class="d"/>
<circle cx="402.4" cy="285.6" r="4.7" class="d"/>
<circle cx="357.0" cy="251.1" r="4.7" class="d"/>
<circle cx="385.2" cy="308.5" r="4.7" class="d"/>
<circle cx="349.8" cy="280.5" r="4.7" class="d"/>
<circle cx="359.6" cy="296.1" r="4.7" class="d"/>
<circle cx="449.6" cy="310.1" r="4.7" class="d"/>
<circle cx="360.3" cy="276.6" r="4.7" class="d"/>
<circle cx="322.4" cy="284.6" r="4.7" class="d"/>
<circle cx="435.5" cy="307.0" r="4.7" class="d"/>
<circle cx="331.6" cy="277.8" r="4.7" class="d"/>
<circle cx="332.6" cy="277.1" r="4.7" class="d"/>
<circle cx="443.4" cy="267.1" r="4.7" class="d"/>
<circle cx="434.5" cy="314.8" r="4.7" class="d"/>
<circle cx="430.8" cy="261.3" r="4.7" class="d"/>
<circle cx="444.1" cy="312.5" r="4.7" class="d"/>
<circle cx="454.8" cy="247.8" r="4.7" class="d"/>
<circle cx="322.5" cy="267.7" r="4.7" class="d"/>
<circle cx="390.9" cy="277.1" r="4.7" class="d"/>
<circle cx="334.3" cy="292.5" r="4.7" class="d"/>
<circle cx="410.8" cy="291.8" r="4.7" class="d"/>
<circle cx="389.9" cy="286.0" r="4.7" class="d"/>
<circle cx="413.7" cy="251.6" r="4.7" class="d"/>
<circle cx="380.0" cy="256.6" r="4.7" class="d"/>
<circle cx="335.8" cy="301.1" r="4.7" class="d"/>
<circle cx="365.1" cy="271.1" r="4.7" class="d"/>
<circle cx="358.9" cy="288.7" r="4.7" class="d"/>
<circle cx="337.7" cy="292.5" r="4.7" class="d"/>
<circle cx="331.4" cy="314.8" r="4.7" class="d"/>
<circle cx="342.9" cy="301.5" r="4.7" class="d"/>
<circle cx="394.5" cy="277.2" r="4.7" class="d"/>
<circle cx="362.5" cy="272.5" r="4.7" class="d"/>
<circle cx="422.9" cy="284.3" r="4.7" class="d"/>
<circle cx="393.3" cy="264.6" r="4.7" class="d"/>
<circle cx="405.1" cy="259.1" r="4.7" class="d"/>
<circle cx="386.2" cy="293.3" r="4.7" class="d"/>
<circle cx="394.4" cy="288.2" r="4.7" class="d"/>
<circle cx="397.8" cy="260.8" r="4.7" class="d"/>
<circle cx="449.4" cy="295.6" r="4.7" class="d"/>
<circle cx="418.5" cy="314.8" r="4.7" class="d"/>
<circle cx="382.1" cy="270.6" r="4.7" class="d"/>
<circle cx="362.4" cy="269.5" r="4.7" class="d"/>
<circle cx="361.9" cy="269.4" r="4.7" class="d"/>
<circle cx="349.8" cy="281.4" r="4.7" class="d"/>
<circle cx="360.8" cy="273.2" r="4.7" class="d"/>
<circle cx="410.3" cy="269.4" r="4.7" class="d"/>
<circle cx="436.8" cy="303.6" r="4.7" class="d"/>
<circle cx="365.7" cy="306.2" r="4.7" class="d"/>
<circle cx="345.5" cy="253.8" r="4.7" class="d"/>
<circle cx="454.3" cy="249.3" r="4.7" class="d"/>
<circle cx="322.7" cy="308.6" r="4.7" class="d"/>
<circle cx="322.3" cy="293.5" r="4.7" class="d"/>
<circle cx="395.9" cy="262.8" r="4.7" class="d"/>
<circle cx="354.7" cy="315.7" r="4.7" class="d"/>
<circle cx="374.3" cy="264.2" r="4.7" class="d"/>
<circle cx="380.7" cy="299.0" r="4.7" class="d"/>
<circle cx="360.7" cy="253.3" r="4.7" class="d"/>
<circle cx="427.2" cy="253.8" r="4.7" class="d"/>
<circle cx="329.4" cy="247.3" r="4.7" class="d"/>
<circle cx="454.1" cy="277.8" r="4.7" class="d"/>
<circle cx="420.1" cy="286.6" r="4.7" class="d"/>
<circle cx="451.7" cy="271.4" r="4.7" class="d"/>
<circle cx="368.5" cy="295.4" r="4.7" class="d"/>
<circle cx="322.1" cy="272.8" r="4.7" class="d"/>
<circle cx="423.0" cy="287.7" r="4.7" class="d"/>
<circle cx="387.2" cy="313.5" r="4.7" class="d"/>
<circle cx="379.6" cy="298.9" r="4.7" class="d"/>
<circle cx="374.2" cy="253.1" r="4.7" class="d"/>
<circle cx="373.5" cy="262.0" r="4.7" class="d"/>
<circle cx="325.6" cy="267.3" r="4.7" class="d"/>
<circle cx="338.8" cy="279.4" r="4.7" class="d"/>
<circle cx="420.1" cy="300.8" r="4.7" class="d"/>
<circle cx="439.5" cy="269.6" r="4.7" class="d"/>
<circle cx="411.0" cy="310.1" r="4.7" class="d"/>
<circle cx="374.7" cy="311.9" r="4.7" class="d"/>
<circle cx="335.7" cy="312.4" r="4.7" class="d"/>
<circle cx="439.2" cy="316.6" r="4.7" class="d"/>
<circle cx="432.5" cy="297.5" r="4.7" class="d"/>
<circle cx="379.9" cy="297.9" r="4.7" class="d"/>
<circle cx="438.8" cy="287.9" r="4.7" class="d"/>
<circle cx="404.7" cy="312.6" r="4.7" class="d"/>
<circle cx="359.9" cy="270.8" r="4.7" class="d"/>
<circle cx="326.7" cy="309.3" r="4.7" class="d"/>
<circle cx="405.7" cy="294.8" r="4.7" class="d"/>
<circle cx="353.7" cy="260.1" r="4.7" class="d"/>
<circle cx="385.7" cy="309.3" r="4.7" class="d"/>
<circle cx="369.2" cy="277.0" r="4.7" class="d"/>
<circle cx="377.6" cy="307.0" r="4.7" class="d"/>
<circle cx="338.5" cy="308.5" r="4.7" class="d"/>
<circle cx="323.6" cy="296.6" r="4.7" class="d"/>
<circle cx="423.6" cy="280.3" r="4.7" class="d"/>
<circle cx="420.7" cy="266.9" r="4.7" class="d"/>
<circle cx="340.8" cy="272.6" r="4.7" class="d"/>
<circle cx="357.3" cy="297.9" r="4.7" class="d"/>
<circle cx="397.0" cy="293.9" r="4.7" class="d"/>
<circle cx="451.8" cy="301.9" r="4.7" class="d"/>
<circle cx="427.3" cy="315.9" r="4.7" class="d"/>
<circle cx="445.5" cy="299.7" r="4.7" class="d"/>
<circle cx="368.3" cy="283.1" r="4.7" class="d"/>
<circle cx="422.5" cy="302.9" r="4.7" class="d"/>
<circle cx="441.7" cy="299.7" r="4.7" class="d"/>
<circle cx="411.0" cy="265.1" r="4.7" class="d"/>
<circle cx="404.7" cy="260.3" r="4.7" class="d"/>
<circle cx="408.0" cy="259.5" r="4.7" class="d"/>
<circle cx="324.3" cy="314.8" r="4.7" class="d"/>
<circle cx="437.7" cy="268.6" r="4.7" class="d"/>
<circle cx="328.0" cy="305.1" r="4.7" class="d"/>
<circle cx="424.6" cy="258.0" r="4.7" class="d"/>
<circle cx="430.7" cy="306.5" r="4.7" class="d"/>
<circle cx="398.4" cy="266.4" r="4.7" class="d"/>
<circle cx="329.5" cy="251.5" r="4.7" class="d"/>
<circle cx="380.7" cy="298.2" r="4.7" class="d"/>
<circle cx="406.9" cy="263.0" r="4.7" class="d"/>
<circle cx="428.1" cy="251.5" r="4.7" class="d"/>
<circle cx="403.7" cy="259.4" r="4.7" class="d"/>
<circle cx="322.7" cy="260.7" r="4.7" class="d"/>
<circle cx="427.8" cy="262.6" r="4.7" class="d"/>
<circle cx="323.9" cy="281.3" r="4.7" class="d"/>
<circle cx="368.4" cy="287.8" r="4.7" class="d"/>
<circle cx="398.8" cy="297.3" r="4.7" class="d"/>
<circle cx="443.8" cy="271.0" r="4.7" class="d"/>
<circle cx="406.5" cy="255.4" r="4.7" class="d"/>
<circle cx="355.4" cy="253.8" r="4.7" class="d"/>
<circle cx="436.7" cy="271.0" r="4.7" class="d"/>
<circle cx="416.5" cy="309.3" r="4.7" class="d"/>
<circle cx="373.2" cy="261.7" r="4.7" class="d"/>
<circle cx="355.0" cy="281.8" r="4.7" class="d"/>
<circle cx="373.5" cy="252.0" r="4.7" class="d"/>
<circle cx="435.1" cy="292.4" r="4.7" class="d"/>
<circle cx="438.0" cy="307.0" r="4.7" class="d"/>
<circle cx="418.5" cy="305.5" r="4.7" class="d"/>
<circle cx="415.6" cy="277.4" r="4.7" class="d"/>
<circle cx="430.9" cy="312.2" r="4.7" class="d"/>
<circle cx="336.3" cy="257.2" r="4.7" class="d"/>
<circle cx="344.6" cy="279.4" r="4.7" class="d"/>
<circle cx="437.0" cy="284.4" r="4.7" class="d"/>
<circle cx="435.7" cy="273.0" r="4.7" class="d"/>
<circle cx="397.2" cy="264.5" r="4.7" class="d"/>
<circle cx="407.1" cy="266.2" r="4.7" class="d"/>
<circle cx="323.0" cy="275.3" r="4.7" class="d"/>
<circle cx="397.0" cy="309.6" r="4.7" class="d"/>
<circle cx="360.1" cy="312.8" r="4.7" class="d"/>
<circle cx="429.9" cy="258.2" r="4.7" class="d"/>
<circle cx="425.6" cy="313.4" r="4.7" class="d"/>
<circle cx="450.0" cy="296.1" r="4.7" class="d"/>
<circle cx="373.9" cy="285.6" r="4.7" class="d"/>
<circle cx="408.6" cy="290.5" r="4.7" class="d"/>
<circle cx="347.2" cy="309.8" r="4.7" class="d"/>
<circle cx="393.9" cy="252.1" r="4.7" class="d"/>
<circle cx="362.7" cy="252.7" r="4.7" class="d"/>
<circle cx="383.3" cy="253.7" r="4.7" class="d"/>
<circle cx="392.5" cy="266.8" r="4.7" class="d"/>
<circle cx="432.0" cy="301.6" r="4.7" class="d"/>
<circle cx="347.0" cy="304.6" r="4.7" class="d"/>
<circle cx="399.4" cy="266.2" r="4.7" class="d"/>
<circle cx="443.2" cy="247.4" r="4.7" class="d"/>
<circle cx="375.1" cy="289.5" r="4.7" class="d"/>
<circle cx="343.6" cy="281.9" r="4.7" class="d"/>
<circle cx="439.6" cy="271.4" r="4.7" class="d"/>
<circle cx="416.3" cy="260.5" r="4.7" class="d"/>
<circle cx="451.7" cy="315.4" r="4.7" class="d"/>
<circle cx="343.9" cy="301.3" r="4.7" class="d"/>
<circle cx="366.4" cy="249.3" r="4.7" class="d"/>
<circle cx="350.1" cy="298.7" r="4.7" class="d"/>
<circle cx="383.9" cy="284.6" r="4.7" class="d"/>
<circle cx="339.0" cy="259.2" r="4.7" class="d"/>
<circle cx="370.6" cy="283.5" r="4.7" class="d"/>
<circle cx="431.1" cy="278.9" r="4.7" class="d"/>
<circle cx="365.6" cy="311.9" r="4.7" class="d"/>
<circle cx="413.8" cy="300.7" r="4.7" class="d"/>
<circle cx="429.1" cy="281.4" r="4.7" class="d"/>
<circle cx="356.6" cy="255.0" r="4.7" class="d"/>
<circle cx="409.4" cy="300.1" r="4.7" class="d"/>
<circle cx="442.0" cy="312.3" r="4.7" class="d"/>
<circle cx="389.0" cy="281.7" r="4.7" class="d"/>
<circle cx="450.3" cy="253.1" r="4.7" class="d"/>
<circle cx="371.8" cy="285.7" r="4.7" class="d"/>
<circle cx="402.0" cy="290.4" r="4.7" class="d"/>
<circle cx="343.1" cy="283.1" r="4.7" class="d"/>
<circle cx="345.4" cy="274.3" r="4.7" class="d"/>
<circle cx="345.8" cy="269.7" r="4.7" class="d"/>
<circle cx="405.4" cy="275.3" r="4.7" class="d"/>
<circle cx="344.3" cy="280.3" r="4.7" class="d"/>
<circle cx="411.1" cy="268.4" r="4.7" class="d"/>
<circle cx="358.2" cy="278.0" r="4.7" class="d"/>
<circle cx="414.5" cy="249.6" r="4.7" class="d"/>
<circle cx="411.5" cy="250.9" r="4.7" class="d"/>
<circle cx="440.4" cy="260.6" r="4.7" class="d"/>
<circle cx="431.6" cy="249.4" r="4.7" class="d"/>
<circle cx="387.6" cy="265.2" r="4.7" class="d"/>
<circle cx="425.2" cy="301.7" r="4.7" class="d"/>
<circle cx="338.9" cy="250.7" r="4.7" class="d"/>
<circle cx="419.1" cy="276.7" r="4.7" class="d"/>
<circle cx="371.6" cy="271.7" r="4.7" class="d"/>
<circle cx="370.8" cy="287.9" r="4.7" class="d"/>
<circle cx="373.6" cy="256.1" r="4.7" class="d"/>
<circle cx="384.7" cy="317.2" r="4.7" class="d"/>
<circle cx="424.0" cy="298.0" r="4.7" class="d"/>
<circle cx="445.4" cy="278.6" r="4.7" class="d"/>
<circle cx="370.2" cy="303.3" r="4.7" class="d"/>
<circle cx="335.7" cy="301.4" r="4.7" class="d"/>
<circle cx="341.7" cy="291.3" r="4.7" class="d"/>
<circle cx="390.3" cy="301.8" r="4.7" class="d"/>
<circle cx="330.4" cy="294.7" r="4.7" class="d"/>
<circle cx="432.0" cy="249.8" r="4.7" class="d"/>
<circle cx="412.9" cy="266.9" r="4.7" class="d"/>
<circle cx="421.0" cy="316.5" r="4.7" class="d"/>
<circle cx="322.4" cy="275.9" r="4.7" class="d"/>
<circle cx="388.4" cy="316.7" r="4.7" class="d"/>
<circle cx="444.9" cy="249.0" r="4.7" class="d"/>
<circle cx="340.1" cy="275.9" r="4.7" class="d"/>
<circle cx="428.9" cy="303.1" r="4.7" class="d"/>
<circle cx="395.9" cy="312.4" r="4.7" class="d"/>
<circle cx="431.1" cy="309.3" r="4.7" class="d"/>
<circle cx="406.4" cy="265.4" r="4.7" class="d"/>
<circle cx="419.7" cy="297.9" r="4.7" class="d"/>
<circle cx="445.4" cy="259.1" r="4.7" class="d"/>
<circle cx="324.9" cy="271.2" r="4.7" class="d"/>
<circle cx="356.0" cy="274.5" r="4.7" class="d"/>
<circle cx="329.9" cy="290.3" r="4.7" class="d"/>
<circle cx="378.8" cy="265.8" r="4.7" class="d"/>
<circle cx="335.5" cy="287.8" r="4.7" class="d"/>
<circle cx="335.2" cy="308.1" r="4.7" class="d"/>
<circle cx="358.8" cy="310.8" r="4.7" class="d"/>
<circle cx="338.5" cy="274.7" r="4.7" class="d"/>
<circle cx="425.5" cy="284.0" r="4.7" class="d"/>
<circle cx="381.6" cy="309.6" r="4.7" class="d"/>
<circle cx="343.8" cy="307.4" r="4.7" class="d"/>
<circle cx="390.5" cy="267.3" r="4.7" class="d"/>
<circle cx="368.5" cy="266.8" r="4.7" class="d"/>
<circle cx="406.1" cy="278.3" r="4.7" class="d"/>
<circle cx="390.9" cy="293.1" r="4.7" class="d"/>
<circle cx="436.3" cy="296.6" r="4.7" class="d"/>
<circle cx="361.3" cy="294.3" r="4.7" class="d"/>
<circle cx="414.1" cy="311.5" r="4.7" class="d"/>
<circle cx="373.4" cy="284.8" r="4.7" class="d"/>
<circle cx="422.6" cy="270.8" r="4.7" class="d"/>
<circle cx="365.4" cy="291.1" r="4.7" class="d"/>
<circle cx="371.7" cy="307.2" r="4.7" class="d"/>
<circle cx="368.2" cy="262.6" r="4.7" class="d"/>
<circle cx="403.1" cy="289.5" r="4.7" class="d"/>
<circle cx="453.7" cy="313.9" r="4.7" class="d"/>
<circle cx="378.1" cy="278.9" r="4.7" class="d"/>
<circle cx="408.7" cy="282.8" r="4.7" class="d"/>
<circle cx="400.2" cy="275.5" r="4.7" class="d"/>
<circle cx="436.4" cy="310.3" r="4.7" class="d"/>
<circle cx="427.1" cy="300.2" r="4.7" class="d"/>
<circle cx="440.1" cy="265.2" r="4.7" class="d"/>
<circle cx="447.3" cy="261.3" r="4.7" class="d"/>
<circle cx="335.5" cy="282.1" r="4.7" class="d"/>
<circle cx="343.0" cy="265.2" r="4.7" class="d"/>
<circle cx="402.6" cy="257.6" r="4.7" class="d"/>
<circle cx="374.9" cy="273.0" r="4.7" class="d"/>
<circle cx="447.5" cy="252.6" r="4.7" class="d"/>
<circle cx="389.8" cy="280.2" r="4.7" class="d"/>
<circle cx="343.6" cy="271.6" r="4.7" class="d"/>
<circle cx="370.3" cy="272.4" r="4.7" class="d"/>
<circle cx="396.1" cy="286.5" r="4.7" class="d"/>
<circle cx="384.0" cy="278.3" r="4.7" class="d"/>
<circle cx="403.0" cy="281.4" r="4.7" class="d"/>
<circle cx="338.7" cy="293.6" r="4.7" class="d"/>
<circle cx="376.4" cy="307.5" r="4.7" class="d"/>
<circle cx="339.6" cy="285.8" r="4.7" class="d"/>
<circle cx="361.9" cy="291.9" r="4.7" class="d"/>
<circle cx="430.8" cy="293.1" r="4.7" class="d"/>
<circle cx="398.0" cy="313.1" r="4.7" class="d"/>
<circle cx="352.1" cy="317.7" r="4.7" class="d"/>
<circle cx="380.4" cy="292.0" r="4.7" class="d"/>
<circle cx="339.3" cy="249.1" r="4.7" class="d"/>
<circle cx="343.2" cy="285.6" r="4.7" class="d"/>
<circle cx="354.0" cy="303.4" r="4.7" class="d"/>
<circle cx="342.6" cy="294.1" r="4.7" class="d"/>
<circle cx="441.7" cy="296.2" r="4.7" class="d"/>
<circle cx="444.7" cy="305.5" r="4.7" class="d"/>
<circle cx="436.1" cy="249.8" r="4.7" class="d"/>
<circle cx="389.9" cy="268.2" r="4.7" class="d"/>
<circle cx="380.3" cy="298.7" r="4.7" class="d"/>
<circle cx="419.2" cy="261.5" r="4.7" class="d"/>
<circle cx="344.7" cy="252.0" r="4.7" class="d"/>
<circle cx="420.4" cy="305.4" r="4.7" class="d"/>
<circle cx="334.2" cy="256.7" r="4.7" class="d"/>
<circle cx="340.3" cy="317.3" r="4.7" class="d"/>
<circle cx="331.5" cy="287.9" r="4.7" class="d"/>
<circle cx="438.5" cy="259.1" r="4.7" class="d"/>
<circle cx="412.8" cy="271.1" r="4.7" class="d"/>
<circle cx="407.3" cy="280.3" r="4.7" class="d"/>
<circle cx="341.8" cy="310.7" r="4.7" class="d"/>
<circle cx="388.5" cy="316.7" r="4.7" class="d"/>
<circle cx="401.2" cy="315.1" r="4.7" class="d"/>
<circle cx="409.1" cy="251.1" r="4.7" class="d"/>
<circle cx="322.6" cy="317.4" r="4.7" class="d"/>
<circle cx="410.6" cy="303.2" r="4.7" class="d"/>
<circle cx="433.5" cy="272.6" r="4.7" class="d"/>
<circle cx="415.8" cy="293.0" r="4.7" class="d"/>
<circle cx="330.0" cy="285.3" r="4.7" class="d"/>
<circle cx="445.7" cy="286.5" r="4.7" class="d"/>
<circle cx="426.6" cy="251.8" r="4.7" class="d"/>
<circle cx="377.2" cy="282.9" r="4.7" class="d"/>
<circle cx="395.8" cy="307.1" r="4.7" class="d"/>
<circle cx="387.2" cy="287.2" r="4.7" class="d"/>
<circle cx="390.9" cy="294.9" r="4.7" class="d"/>
<circle cx="399.1" cy="275.1" r="4.7" class="d"/>
<circle cx="360.0" cy="308.3" r="4.7" class="d"/>
<circle cx="369.1" cy="297.6" r="4.7" class="d"/>
<circle cx="358.1" cy="317.1" r="4.7" class="d"/>
<circle cx="350.8" cy="276.8" r="4.7" class="d"/>
<circle cx="371.0" cy="309.3" r="4.7" class="d"/>
<circle cx="419.3" cy="265.6" r="4.7" class="d"/>
<circle cx="354.4" cy="299.8" r="4.7" class="d"/>
<circle cx="381.4" cy="259.8" r="4.7" class="d"/>
<circle cx="337.5" cy="298.2" r="4.7" class="d"/>
<circle cx="409.9" cy="304.2" r="4.7" class="d"/>
<circle cx="332.2" cy="281.1" r="4.7" class="d"/>
<circle cx="341.2" cy="287.5" r="4.7" class="d"/>
<circle cx="352.5" cy="263.3" r="4.7" class="d"/>
<circle cx="396.6" cy="258.7" r="4.7" class="d"/>
<circle cx="427.6" cy="258.8" r="4.7" class="d"/>
<circle cx="357.5" cy="300.6" r="4.7" class="d"/>
<circle cx="357.1" cy="268.2" r="4.7" class="d"/>
<circle cx="426.2" cy="287.0" r="4.7" class="d"/>
<circle cx="429.8" cy="308.7" r="4.7" class="d"/>
<circle cx="450.1" cy="253.1" r="4.7" class="d"/>
<circle cx="374.2" cy="279.3" r="4.7" class="d"/>
<circle cx="360.1" cy="308.6" r="4.7" class="d"/>
<circle cx="374.4" cy="312.9" r="4.7" class="d"/>
<circle cx="331.4" cy="278.5" r="4.7" class="d"/>
<circle cx="405.6" cy="302.8" r="4.7" class="d"/>
<circle cx="386.2" cy="310.9" r="4.7" class="d"/>
<circle cx="361.5" cy="272.2" r="4.7" class="d"/>
<circle cx="347.6" cy="260.4" r="4.7" class="d"/>
<circle cx="386.7" cy="298.9" r="4.7" class="d"/>
<circle cx="347.6" cy="281.7" r="4.7" class="d"/>
<circle cx="379.6" cy="316.8" r="4.7" class="d"/>
<circle cx="387.5" cy="304.4" r="4.7" class="d"/>
<circle cx="353.2" cy="310.5" r="4.7" class="d"/>
<circle cx="325.1" cy="257.8" r="4.7" class="d"/>
<circle cx="406.4" cy="284.7" r="4.7" class="d"/>
<circle cx="392.1" cy="291.2" r="4.7" class="d"/>
<circle cx="368.3" cy="294.0" r="4.7" class="d"/>
<circle cx="374.8" cy="288.5" r="4.7" class="d"/>
<circle cx="417.0" cy="269.0" r="4.7" class="d"/>
<circle cx="423.2" cy="305.6" r="4.7" class="d"/>
<circle cx="453.5" cy="251.4" r="4.7" class="d"/>
<circle cx="378.7" cy="258.6" r="4.7" class="d"/>
<circle cx="344.3" cy="280.6" r="4.7" class="d"/>
<circle cx="425.5" cy="255.9" r="4.7" class="d"/>
<circle cx="427.7" cy="306.9" r="4.7" class="d"/>
<circle cx="450.7" cy="300.7" r="4.7" class="d"/>
<circle cx="349.9" cy="297.9" r="4.7" class="d"/>
<circle cx="398.4" cy="266.4" r="4.7" class="d"/>
<circle cx="427.2" cy="270.5" r="4.7" class="d"/>
<circle cx="433.7" cy="309.5" r="4.7" class="d"/>
<circle cx="374.8" cy="256.6" r="4.7" class="d"/>
<circle cx="430.5" cy="258.2" r="4.7" class="d"/>
<circle cx="338.0" cy="309.2" r="4.7" class="d"/>
<circle cx="353.5" cy="265.5" r="4.7" class="d"/>
<circle cx="374.1" cy="298.3" r="4.7" class="d"/>
<circle cx="347.9" cy="269.4" r="4.7" class="d"/>
<circle cx="330.9" cy="265.2" r="4.7" class="d"/>
<circle cx="421.3" cy="292.4" r="4.7" class="d"/>
<circle cx="401.8" cy="310.8" r="4.7" class="d"/>
<circle cx="326.1" cy="267.0" r="4.7" class="d"/>
<circle cx="406.4" cy="272.5" r="4.7" class="d"/>
<circle cx="451.9" cy="262.9" r="4.7" class="d"/>
<circle cx="449.7" cy="299.0" r="4.7" class="d"/>
<circle cx="412.0" cy="313.9" r="4.7" class="d"/>
<circle cx="379.7" cy="270.9" r="4.7" class="d"/>
<circle cx="380.0" cy="299.2" r="4.7" class="d"/>
<circle cx="431.2" cy="291.8" r="4.7" class="d"/>
<circle cx="427.3" cy="294.3" r="4.7" class="d"/>
<circle cx="425.4" cy="256.1" r="4.7" class="d"/>
<circle cx="432.4" cy="284.9" r="4.7" class="d"/>
<circle cx="365.6" cy="256.2" r="4.7" class="d"/>
<circle cx="402.7" cy="262.6" r="4.7" class="d"/>
<circle cx="370.1" cy="285.8" r="4.7" class="d"/>
<circle cx="349.8" cy="263.5" r="4.7" class="d"/>
<circle cx="332.1" cy="271.8" r="4.7" class="d"/>
<circle cx="432.1" cy="264.3" r="4.7" class="d"/>
<circle cx="357.5" cy="256.6" r="4.7" class="d"/>
<circle cx="402.7" cy="299.6" r="4.7" class="d"/>
<circle cx="346.9" cy="305.3" r="4.7" class="d"/>
<circle cx="323.4" cy="255.3" r="4.7" class="d"/>
<circle cx="334.5" cy="302.9" r="4.7" class="d"/>
<circle cx="333.0" cy="298.9" r="4.7" class="d"/>
<circle cx="349.8" cy="268.2" r="4.7" class="d"/>
<circle cx="335.3" cy="304.6" r="4.7" class="d"/>
<circle cx="371.3" cy="313.0" r="4.7" class="d"/>
<circle cx="414.3" cy="287.0" r="4.7" class="d"/>
<circle cx="383.3" cy="286.9" r="4.7" class="d"/>
<circle cx="399.1" cy="315.8" r="4.7" class="d"/>
<circle cx="351.3" cy="259.7" r="4.7" class="d"/>
<circle cx="454.8" cy="295.8" r="4.7" class="d"/>
<circle cx="406.0" cy="280.3" r="4.7" class="d"/>
<circle cx="323.7" cy="262.9" r="4.7" class="d"/>
<circle cx="428.7" cy="266.3" r="4.7" class="d"/>
<circle cx="402.4" cy="281.7" r="4.7" class="d"/>
<circle cx="344.9" cy="251.0" r="4.7" class="d"/>
<circle cx="330.7" cy="297.6" r="4.7" class="d"/>
<circle cx="353.7" cy="283.3" r="4.7" class="d"/>
<circle cx="398.8" cy="301.0" r="4.7" class="d"/>
<circle cx="343.3" cy="277.3" r="4.7" class="d"/>
<circle cx="422.5" cy="294.2" r="4.7" class="d"/>
<circle cx="385.1" cy="292.5" r="4.7" class="d"/>
<circle cx="426.6" cy="309.3" r="4.7" class="d"/>
<circle cx="392.5" cy="254.2" r="4.7" class="d"/>
<circle cx="339.2" cy="294.3" r="4.7" class="d"/>
<circle cx="412.4" cy="278.6" r="4.7" class="d"/>
<circle cx="414.7" cy="262.5" r="4.7" class="d"/>
<circle cx="374.4" cy="274.0" r="4.7" class="d"/>
<circle cx="421.7" cy="315.6" r="4.7" class="d"/>
<circle cx="358.6" cy="254.1" r="4.7" class="d"/>
<circle cx="371.1" cy="308.5" r="4.7" class="d"/>
<circle cx="454.3" cy="251.1" r="4.7" class="d"/>
<circle cx="366.7" cy="280.8" r="4.7" class="d"/>
<circle cx="441.0" cy="287.4" r="4.7" class="d"/>
<circle cx="378.9" cy="316.1" r="4.7" class="d"/>
<circle cx="419.6" cy="310.7" r="4.7" class="d"/>
<circle cx="429.7" cy="316.8" r="4.7" class="d"/>
<circle cx="412.9" cy="302.4" r="4.7" class="d"/>
<circle cx="389.0" cy="295.2" r="4.7" class="d"/>
<circle cx="446.7" cy="314.3" r="4.7" class="d"/>
<circle cx="441.8" cy="295.0" r="4.7" class="d"/>
<circle cx="387.5" cy="276.6" r="4.7" class="d"/>
<circle cx="374.1" cy="314.6" r="4.7" class="d"/>
<circle cx="410.6" cy="303.7" r="4.7" class="d"/>
<circle cx="410.7" cy="254.2" r="4.7" class="d"/>
<circle cx="381.6" cy="271.8" r="4.7" class="d"/>
<circle cx="450.8" cy="295.8" r="4.7" class="d"/>
<circle cx="370.7" cy="283.4" r="4.7" class="d"/>
<circle cx="440.7" cy="284.5" r="4.7" class="d"/>
<circle cx="416.0" cy="272.7" r="4.7" class="d"/>
<circle cx="378.7" cy="301.4" r="4.7" class="d"/>
<circle cx="348.5" cy="295.0" r="4.7" class="d"/>
<circle cx="433.9" cy="317.7" r="4.7" class="d"/>
<circle cx="392.3" cy="290.6" r="4.7" class="d"/>
<circle cx="454.2" cy="303.3" r="4.7" class="d"/>
<circle cx="437.6" cy="284.3" r="4.7" class="d"/>
<circle cx="339.6" cy="305.7" r="4.7" class="d"/>
<circle cx="334.6" cy="297.6" r="4.7" class="d"/>
<circle cx="360.8" cy="304.4" r="4.7" class="d"/>
<circle cx="407.3" cy="283.3" r="4.7" class="d"/>
<circle cx="385.8" cy="268.2" r="4.7" class="d"/>
<circle cx="454.9" cy="286.5" r="4.7" class="d"/>
<circle cx="449.6" cy="255.5" r="4.7" class="d"/>
<circle cx="325.3" cy="259.4" r="4.7" class="d"/>
<circle cx="364.5" cy="317.0" r="4.7" class="d"/>
<circle cx="339.0" cy="284.0" r="4.7" class="d"/>
<circle cx="435.9" cy="268.6" r="4.7" class="d"/>
<circle cx="360.7" cy="262.1" r="4.7" class="d"/>
<circle cx="329.2" cy="288.3" r="4.7" class="d"/>
<circle cx="396.7" cy="262.3" r="4.7" class="d"/>
<circle cx="396.6" cy="282.6" r="4.7" class="d"/>
<circle cx="414.4" cy="264.3" r="4.7" class="d"/>
<circle cx="352.2" cy="309.2" r="4.7" class="d"/>
<circle cx="413.4" cy="300.8" r="4.7" class="d"/>
<circle cx="367.7" cy="288.4" r="4.7" class="d"/>
<circle cx="372.5" cy="295.3" r="4.7" class="d"/>
<circle cx="449.2" cy="281.6" r="4.7" class="d"/>
<circle cx="382.6" cy="296.8" r="4.7" class="d"/>
<circle cx="388.0" cy="273.1" r="4.7" class="d"/>
<circle cx="325.0" cy="305.1" r="4.7" class="d"/>
<circle cx="389.8" cy="307.2" r="4.7" class="d"/>
<circle cx="367.7" cy="309.8" r="4.7" class="d"/>
<circle cx="429.4" cy="263.6" r="4.7" class="d"/>
<circle cx="425.5" cy="250.0" r="4.7" class="d"/>
<circle cx="407.7" cy="302.4" r="4.7" class="d"/>
<circle cx="417.9" cy="267.7" r="4.7" class="d"/>
<circle cx="368.8" cy="259.9" r="4.7" class="d"/>
<circle cx="441.3" cy="289.0" r="4.7" class="d"/>
<circle cx="426.0" cy="281.8" r="4.7" class="d"/>
<circle cx="379.5" cy="313.9" r="4.7" class="d"/>
<circle cx="446.5" cy="299.7" r="4.7" class="d"/>
<circle cx="408.5" cy="310.2" r="4.7" class="d"/>
<circle cx="365.0" cy="269.7" r="4.7" class="d"/>
<circle cx="426.7" cy="294.9" r="4.7" class="d"/>
<circle cx="423.7" cy="297.7" r="4.7" class="d"/>
<circle cx="375.4" cy="255.3" r="4.7" class="d"/>
<circle cx="424.8" cy="308.8" r="4.7" class="d"/>
<circle cx="392.7" cy="269.6" r="4.7" class="d"/>
<circle cx="434.5" cy="260.4" r="4.7" class="d"/>
<circle cx="347.7" cy="288.0" r="4.7" class="d"/>
<circle cx="385.7" cy="300.9" r="4.7" class="d"/>
<circle cx="324.0" cy="313.2" r="4.7" class="d"/>
<circle cx="359.3" cy="282.3" r="4.7" class="d"/>
<circle cx="325.5" cy="273.6" r="4.7" class="d"/>
<circle cx="389.3" cy="314.2" r="4.7" class="d"/>
<circle cx="347.5" cy="256.1" r="4.7" class="d"/>
<circle cx="437.1" cy="312.4" r="4.7" class="d"/>
<circle cx="388.1" cy="283.7" r="4.7" class="d"/>
<circle cx="439.1" cy="279.7" r="4.7" class="d"/>
<circle cx="381.9" cy="277.7" r="4.7" class="d"/>
<circle cx="354.3" cy="266.5" r="4.7" class="d"/>
<circle cx="370.8" cy="251.7" r="4.7" class="d"/>
<circle cx="383.6" cy="302.4" r="4.7" class="d"/>
<circle cx="437.8" cy="255.9" r="4.7" class="d"/>
<circle cx="370.4" cy="308.8" r="4.7" class="d"/>
<circle cx="449.2" cy="269.5" r="4.7" class="d"/>
<circle cx="345.7" cy="306.6" r="4.7" class="d"/>
<circle cx="361.3" cy="293.7" r="4.7" class="d"/>
<circle cx="445.0" cy="264.9" r="4.7" class="d"/>
<circle cx="361.3" cy="287.4" r="4.7" class="d"/>
<circle cx="333.2" cy="282.9" r="4.7" class="d"/>
<circle cx="398.6" cy="277.7" r="4.7" class="d"/>
<circle cx="420.5" cy="294.3" r="4.7" class="d"/>
<circle cx="399.2" cy="304.9" r="4.7" class="d"/>
<circle cx="341.0" cy="259.7" r="4.7" class="d"/>
<circle cx="359.7" cy="259.4" r="4.7" class="d"/>
<circle cx="441.4" cy="307.4" r="4.7" class="d"/>
<circle cx="441.1" cy="274.8" r="4.7" class="d"/>
<circle cx="435.2" cy="313.3" r="4.7" class="d"/>
<circle cx="424.2" cy="307.0" r="4.7" class="d"/>
<circle cx="413.2" cy="247.9" r="4.7" class="d"/>
<circle cx="365.6" cy="265.3" r="4.7" class="d"/>
<circle cx="392.5" cy="287.0" r="4.7" class="d"/>
<circle cx="444.0" cy="265.4" r="4.7" class="d"/>
<circle cx="451.9" cy="257.8" r="4.7" class="d"/>
<circle cx="426.4" cy="269.4" r="4.7" class="d"/>
<circle cx="396.8" cy="290.8" r="4.7" class="d"/>
<circle cx="328.5" cy="288.1" r="4.7" class="d"/>
<circle cx="409.8" cy="265.5" r="4.7" class="d"/>
<circle cx="334.4" cy="289.9" r="4.7" class="d"/>
<circle cx="356.6" cy="259.5" r="4.7" class="d"/>
<circle cx="354.0" cy="287.6" r="4.7" class="d"/>
<circle cx="384.4" cy="274.2" r="4.7" class="d"/>
<circle cx="337.7" cy="262.6" r="4.7" class="d"/>
<circle cx="403.6" cy="275.4" r="4.7" class="d"/>
<circle cx="346.3" cy="305.0" r="4.7" class="d"/>
<circle cx="394.7" cy="271.5" r="4.7" class="d"/>
<circle cx="451.2" cy="285.2" r="4.7" class="d"/>
<circle cx="342.3" cy="281.0" r="4.7" class="d"/>
<circle cx="357.2" cy="307.0" r="4.7" class="d"/>
<circle cx="425.6" cy="252.3" r="4.7" class="d"/>
<circle cx="340.2" cy="294.8" r="4.7" class="d"/>
<circle cx="388.9" cy="269.1" r="4.7" class="d"/>
<circle cx="386.9" cy="256.9" r="4.7" class="d"/>
<circle cx="384.3" cy="287.3" r="4.7" class="d"/>
<circle cx="446.3" cy="290.5" r="4.7" class="d"/>
<circle cx="398.6" cy="249.7" r="4.7" class="d"/>
<circle cx="389.1" cy="286.9" r="4.7" class="d"/>
<circle cx="410.4" cy="269.2" r="4.7" class="d"/>
<circle cx="447.4" cy="297.4" r="4.7" class="d"/>
<circle cx="418.0" cy="316.4" r="4.7" class="d"/>
<circle cx="449.2" cy="256.2" r="4.7" class="d"/>
<circle cx="441.5" cy="284.7" r="4.7" class="d"/>
<circle cx="402.3" cy="248.5" r="4.7" class="d"/>
<circle cx="330.9" cy="303.5" r="4.7" class="d"/>
<circle cx="370.8" cy="316.8" r="4.7" class="d"/>
<circle cx="447.8" cy="285.4" r="4.7" class="d"/>
<circle cx="400.4" cy="289.3" r="4.7" class="d"/>
<circle cx="393.7" cy="304.6" r="4.7" class="d"/>
<circle cx="453.1" cy="270.7" r="4.7" class="d"/>
<circle cx="377.3" cy="274.8" r="4.7" class="d"/>
<circle cx="332.4" cy="258.3" r="4.7" class="d"/>
<circle cx="346.1" cy="299.8" r="4.7" class="d"/>
<circle cx="346.0" cy="289.3" r="4.7" class="d"/>
<circle cx="451.9" cy="276.0" r="4.7" class="d"/>
<circle cx="454.9" cy="264.8" r="4.7" class="d"/>
<circle cx="369.3" cy="257.1" r="4.7" class="d"/>
<circle cx="342.4" cy="275.9" r="4.7" class="d"/>
<circle cx="425.0" cy="293.5" r="4.7" class="d"/>
<circle cx="351.7" cy="251.6" r="4.7" class="d"/>
<circle cx="332.1" cy="270.5" r="4.7" class="d"/>
<circle cx="395.1" cy="247.1" r="4.7" class="d"/>
<circle cx="336.0" cy="294.3" r="4.7" class="d"/>
<circle cx="353.0" cy="250.1" r="4.7" class="d"/>
<circle cx="429.8" cy="252.3" r="4.7" class="d"/>
<circle cx="420.9" cy="250.7" r="4.7" class="d"/>
<circle cx="436.6" cy="280.6" r="4.7" class="d"/>
<circle cx="366.9" cy="262.1" r="4.7" class="d"/>
<circle cx="431.1" cy="276.6" r="4.7" class="d"/>
<circle cx="396.1" cy="269.8" r="4.7" class="d"/>
<circle cx="345.9" cy="268.9" r="4.7" class="d"/>
<circle cx="356.2" cy="299.6" r="4.7" class="d"/>
<circle cx="431.5" cy="302.0" r="4.7" class="d"/>
<circle cx="361.2" cy="271.0" r="4.7" class="d"/>
<circle cx="447.5" cy="279.8" r="4.7" class="d"/>
<circle cx="399.0" cy="250.7" r="4.7" class="d"/>
<circle cx="425.3" cy="278.5" r="4.7" class="d"/>
<circle cx="350.9" cy="280.7" r="4.7" class="d"/>
<circle cx="348.7" cy="272.0" r="4.7" class="d"/>
<circle cx="370.0" cy="278.0" r="4.7" class="d"/>
<circle cx="367.1" cy="259.0" r="4.7" class="d"/>
<circle cx="432.7" cy="284.7" r="4.7" class="d"/>
<circle cx="404.8" cy="233.3" r="4.7" class="d"/>
<circle cx="427.8" cy="243.2" r="4.7" class="d"/>
<circle cx="420.4" cy="242.2" r="4.7" class="d"/>
<circle cx="325.9" cy="219.8" r="4.7" class="d"/>
<circle cx="447.5" cy="228.8" r="4.7" class="d"/>
<circle cx="441.8" cy="202.5" r="4.7" class="d"/>
<circle cx="384.4" cy="209.1" r="4.7" class="d"/>
<circle cx="394.3" cy="225.1" r="4.7" class="d"/>
<circle cx="323.7" cy="207.6" r="4.7" class="d"/>
<circle cx="359.2" cy="241.9" r="4.7" class="d"/>
<circle cx="423.8" cy="204.8" r="4.7" class="d"/>
<circle cx="428.0" cy="203.8" r="4.7" class="d"/>
<circle cx="404.1" cy="203.2" r="4.7" class="d"/>
<circle cx="322.2" cy="239.7" r="4.7" class="d"/>
<circle cx="349.9" cy="207.6" r="4.7" class="d"/>
<circle cx="452.7" cy="239.7" r="4.7" class="d"/>
<circle cx="360.5" cy="244.1" r="4.7" class="d"/>
<circle cx="393.7" cy="230.2" r="4.7" class="d"/>
<circle cx="349.2" cy="243.1" r="4.7" class="d"/>
<circle cx="413.9" cy="244.4" r="4.7" class="d"/>
<circle cx="440.9" cy="211.6" r="4.7" class="d"/>
<circle cx="370.0" cy="205.1" r="4.7" class="d"/>
<circle cx="341.4" cy="200.2" r="4.7" class="d"/>
<circle cx="362.1" cy="226.6" r="4.7" class="d"/>
<circle cx="322.4" cy="230.2" r="4.7" class="d"/>
<circle cx="366.9" cy="212.2" r="4.7" class="d"/>
<circle cx="430.9" cy="220.6" r="4.7" class="d"/>
<circle cx="364.0" cy="220.6" r="4.7" class="d"/>
<circle cx="415.7" cy="199.8" r="4.7" class="d"/>
<circle cx="451.7" cy="198.1" r="4.7" class="d"/>
<circle cx="421.7" cy="238.4" r="4.7" class="d"/>
<circle cx="324.4" cy="235.6" r="4.7" class="d"/>
<circle cx="370.7" cy="225.3" r="4.7" class="d"/>
<circle cx="323.2" cy="199.3" r="4.7" class="d"/>
<circle cx="346.1" cy="243.8" r="4.7" class="d"/>
<circle cx="348.1" cy="234.0" r="4.7" class="d"/>
<circle cx="445.6" cy="243.2" r="4.7" class="d"/>
<circle cx="367.8" cy="214.4" r="4.7" class="d"/>
<circle cx="391.8" cy="235.0" r="4.7" class="d"/>
<circle cx="336.4" cy="233.7" r="4.7" class="d"/>
<circle cx="428.0" cy="239.1" r="4.7" class="d"/>
<circle cx="326.9" cy="243.3" r="4.7" class="d"/>
<circle cx="334.1" cy="213.7" r="4.7" class="d"/>
<circle cx="403.2" cy="242.0" r="4.7" class="d"/>
<circle cx="367.2" cy="242.3" r="4.7" class="d"/>
<circle cx="394.5" cy="212.3" r="4.7" class="d"/>
<circle cx="364.1" cy="205.7" r="4.7" class="d"/>
<circle cx="332.4" cy="204.3" r="4.7" class="d"/>
<circle cx="413.7" cy="245.8" r="4.7" class="d"/>
<circle cx="343.5" cy="199.4" r="4.7" class="d"/>
<circle cx="453.2" cy="223.1" r="4.7" class="d"/>
<circle cx="376.0" cy="208.6" r="4.7" class="d"/>
<circle cx="401.0" cy="237.5" r="4.7" class="d"/>
<circle cx="382.6" cy="217.7" r="4.7" class="d"/>
<circle cx="329.4" cy="241.9" r="4.7" class="d"/>
<circle cx="326.4" cy="221.2" r="4.7" class="d"/>
<circle cx="433.5" cy="203.4" r="4.7" class="d"/>
<circle cx="419.3" cy="243.5" r="4.7" class="d"/>
<circle cx="405.8" cy="235.6" r="4.7" class="d"/>
<circle cx="336.2" cy="218.3" r="4.7" class="d"/>
<circle cx="341.8" cy="238.4" r="4.7" class="d"/>
<circle cx="361.2" cy="219.2" r="4.7" class="d"/>
<circle cx="454.9" cy="238.8" r="4.7" class="d"/>
<circle cx="451.8" cy="219.2" r="4.7" class="d"/>
<circle cx="386.9" cy="232.7" r="4.7" class="d"/>
<circle cx="385.7" cy="211.3" r="4.7" class="d"/>
<circle cx="375.7" cy="204.2" r="4.7" class="d"/>
<circle cx="372.1" cy="245.4" r="4.7" class="d"/>
<circle cx="449.7" cy="227.7" r="4.7" class="d"/>
<circle cx="388.4" cy="213.6" r="4.7" class="d"/>
<circle cx="333.9" cy="210.3" r="4.7" class="d"/>
<circle cx="426.0" cy="239.5" r="4.7" class="d"/>
<circle cx="370.1" cy="235.5" r="4.7" class="d"/>
<circle cx="425.1" cy="231.0" r="4.7" class="d"/>
<circle cx="410.3" cy="234.2" r="4.7" class="d"/>
<circle cx="370.3" cy="231.5" r="4.7" class="d"/>
<circle cx="359.4" cy="220.8" r="4.7" class="d"/>
<circle cx="424.4" cy="230.9" r="4.7" class="d"/>
<circle cx="361.1" cy="243.3" r="4.7" class="d"/>
<circle cx="408.4" cy="225.5" r="4.7" class="d"/>
<circle cx="323.5" cy="223.8" r="4.7" class="d"/>
<circle cx="355.3" cy="229.9" r="4.7" class="d"/>
<circle cx="383.6" cy="237.0" r="4.7" class="d"/>
<circle cx="408.1" cy="236.1" r="4.7" class="d"/>
<circle cx="368.3" cy="228.6" r="4.7" class="d"/>
<circle cx="420.1" cy="237.6" r="4.7" class="d"/>
<circle cx="368.6" cy="238.3" r="4.7" class="d"/>
<circle cx="437.7" cy="230.7" r="4.7" class="d"/>
<circle cx="451.8" cy="243.9" r="4.7" class="d"/>
<circle cx="390.9" cy="222.9" r="4.7" class="d"/>
<circle cx="344.1" cy="238.0" r="4.7" class="d"/>
<circle cx="446.7" cy="220.4" r="4.7" class="d"/>
<circle cx="414.0" cy="232.3" r="4.7" class="d"/>
<circle cx="419.1" cy="205.4" r="4.7" class="d"/>
<circle cx="425.8" cy="225.5" r="4.7" class="d"/>
<circle cx="410.5" cy="217.6" r="4.7" class="d"/>
<circle cx="405.0" cy="235.0" r="4.7" class="d"/>
<circle cx="406.7" cy="232.3" r="4.7" class="d"/>
<circle cx="325.7" cy="204.8" r="4.7" class="d"/>
<circle cx="380.7" cy="228.9" r="4.7" class="d"/>
<circle cx="351.1" cy="230.6" r="4.7" class="d"/>
<circle cx="405.9" cy="199.1" r="4.7" class="d"/>
<circle cx="384.7" cy="208.1" r="4.7" class="d"/>
<circle cx="329.2" cy="203.5" r="4.7" class="d"/>
<circle cx="364.2" cy="205.9" r="4.7" class="d"/>
<circle cx="347.7" cy="198.7" r="4.7" class="d"/>
<circle cx="383.9" cy="215.6" r="4.7" class="d"/>
<circle cx="403.4" cy="225.9" r="4.7" class="d"/>
<circle cx="353.6" cy="241.3" r="4.7" class="d"/>
<circle cx="322.1" cy="216.9" r="4.7" class="d"/>
<circle cx="359.0" cy="217.1" r="4.7" class="d"/>
<circle cx="337.3" cy="237.7" r="4.7" class="d"/>
<circle cx="371.7" cy="198.8" r="4.7" class="d"/>
<circle cx="403.6" cy="201.6" r="4.7" class="d"/>
<circle cx="394.5" cy="213.6" r="4.7" class="d"/>
<circle cx="399.3" cy="244.0" r="4.7" class="d"/>
<circle cx="430.9" cy="217.5" r="4.7" class="d"/>
<circle cx="430.1" cy="228.5" r="4.7" class="d"/>
<circle cx="371.1" cy="204.0" r="4.7" class="d"/>
<circle cx="401.3" cy="224.6" r="4.7" class="d"/>
<circle cx="449.3" cy="244.4" r="4.7" class="d"/>
<circle cx="402.9" cy="214.2" r="4.7" class="d"/>
<circle cx="440.8" cy="197.0" r="4.7" class="d"/>
<circle cx="336.4" cy="224.7" r="4.7" class="d"/>
<circle cx="403.8" cy="203.9" r="4.7" class="d"/>
<circle cx="405.7" cy="240.7" r="4.7" class="d"/>
<circle cx="372.0" cy="218.2" r="4.7" class="d"/>
<circle cx="352.1" cy="211.3" r="4.7" class="d"/>
<circle cx="451.3" cy="215.6" r="4.7" class="d"/>
<circle cx="449.8" cy="241.8" r="4.7" class="d"/>
<circle cx="401.2" cy="209.7" r="4.7" class="d"/>
<circle cx="452.5" cy="221.3" r="4.7" class="d"/>
<circle cx="377.3" cy="212.6" r="4.7" class="d"/>
<circle cx="452.9" cy="221.1" r="4.7" class="d"/>
<circle cx="360.1" cy="220.4" r="4.7" class="d"/>
<circle cx="338.2" cy="227.5" r="4.7" class="d"/>
<circle cx="381.0" cy="211.4" r="4.7" class="d"/>
<circle cx="426.0" cy="237.5" r="4.7" class="d"/>
<circle cx="323.8" cy="223.1" r="4.7" class="d"/>
<circle cx="358.4" cy="242.8" r="4.7" class="d"/>
<circle cx="426.0" cy="209.0" r="4.7" class="d"/>
<circle cx="357.6" cy="204.6" r="4.7" class="d"/>
<circle cx="453.5" cy="211.4" r="4.7" class="d"/>
<circle cx="402.9" cy="220.3" r="4.7" class="d"/>
<circle cx="407.8" cy="226.6" r="4.7" class="d"/>
<circle cx="420.9" cy="202.8" r="4.7" class="d"/>
<circle cx="423.1" cy="211.7" r="4.7" class="d"/>
<circle cx="393.0" cy="213.5" r="4.7" class="d"/>
<circle cx="361.5" cy="223.0" r="4.7" class="d"/>
<circle cx="383.8" cy="214.7" r="4.7" class="d"/>
<circle cx="421.1" cy="225.9" r="4.7" class="d"/>
<circle cx="326.8" cy="209.4" r="4.7" class="d"/>
<circle cx="382.6" cy="241.9" r="4.7" class="d"/>
<circle cx="440.1" cy="223.7" r="4.7" class="d"/>
<circle cx="323.9" cy="235.1" r="4.7" class="d"/>
<circle cx="378.9" cy="225.2" r="4.7" class="d"/>
<circle cx="416.2" cy="228.0" r="4.7" class="d"/>
<circle cx="386.1" cy="241.7" r="4.7" class="d"/>
<circle cx="373.3" cy="216.2" r="4.7" class="d"/>
<circle cx="435.3" cy="206.6" r="4.7" class="d"/>
<circle cx="361.4" cy="237.7" r="4.7" class="d"/>
<circle cx="330.8" cy="238.0" r="4.7" class="d"/>
<circle cx="414.4" cy="218.2" r="4.7" class="d"/>
<circle cx="360.1" cy="235.3" r="4.7" class="d"/>
<circle cx="443.1" cy="204.0" r="4.7" class="d"/>
<circle cx="385.6" cy="223.9" r="4.7" class="d"/>
<circle cx="388.2" cy="213.2" r="4.7" class="d"/>
<circle cx="342.4" cy="225.7" r="4.7" class="d"/>
<circle cx="430.0" cy="200.4" r="4.7" class="d"/>
<circle cx="352.6" cy="237.2" r="4.7" class="d"/>
<circle cx="427.3" cy="229.5" r="4.7" class="d"/>
<circle cx="325.4" cy="232.4" r="4.7" class="d"/>
<circle cx="452.2" cy="245.9" r="4.7" class="d"/>
<circle cx="415.3" cy="199.4" r="4.7" class="d"/>
<circle cx="434.0" cy="207.7" r="4.7" class="d"/>
<circle cx="407.9" cy="243.7" r="4.7" class="d"/>
<circle cx="416.8" cy="203.6" r="4.7" class="d"/>
<circle cx="360.9" cy="242.0" r="4.7" class="d"/>
<circle cx="341.9" cy="226.9" r="4.7" class="d"/>
<circle cx="377.1" cy="204.9" r="4.7" class="d"/>
<circle cx="404.8" cy="199.1" r="4.7" class="d"/>
<circle cx="336.4" cy="215.6" r="4.7" class="d"/>
<circle cx="331.6" cy="199.8" r="4.7" class="d"/>
<circle cx="398.5" cy="233.4" r="4.7" class="d"/>
<circle cx="438.8" cy="203.6" r="4.7" class="d"/>
<circle cx="379.4" cy="212.4" r="4.7" class="d"/>
<circle cx="401.8" cy="221.0" r="4.7" class="d"/>
<circle cx="446.8" cy="215.3" r="4.7" class="d"/>
<circle cx="329.4" cy="231.2" r="4.7" class="d"/>
<circle cx="342.1" cy="227.9" r="4.7" class="d"/>
<circle cx="389.3" cy="241.6" r="4.7" class="d"/>
<circle cx="395.8" cy="227.4" r="4.7" class="d"/>
<circle cx="357.0" cy="224.0" r="4.7" class="d"/>
<circle cx="355.8" cy="233.8" r="4.7" class="d"/>
<circle cx="390.8" cy="203.6" r="4.7" class="d"/>
<circle cx="353.2" cy="215.2" r="4.7" class="d"/>
<circle cx="420.0" cy="205.8" r="4.7" class="d"/>
<circle cx="416.9" cy="229.1" r="4.7" class="d"/>
<circle cx="333.3" cy="229.7" r="4.7" class="d"/>
<circle cx="334.1" cy="203.1" r="4.7" class="d"/>
<circle cx="401.0" cy="208.7" r="4.7" class="d"/>
<circle cx="438.6" cy="220.5" r="4.7" class="d"/>
<circle cx="365.0" cy="236.0" r="4.7" class="d"/>
<circle cx="325.9" cy="232.5" r="4.7" class="d"/>
<circle cx="329.1" cy="204.4" r="4.7" class="d"/>
<circle cx="448.6" cy="230.4" r="4.7" class="d"/>
<circle cx="351.7" cy="202.7" r="4.7" class="d"/>
<circle cx="451.4" cy="229.6" r="4.7" class="d"/>
<circle cx="431.1" cy="203.8" r="4.7" class="d"/>
<circle cx="405.1" cy="214.4" r="4.7" class="d"/>
<circle cx="353.3" cy="213.3" r="4.7" class="d"/>
<circle cx="403.6" cy="214.1" r="4.7" class="d"/>
<circle cx="373.3" cy="203.7" r="4.7" class="d"/>
<circle cx="432.5" cy="228.7" r="4.7" class="d"/>
<circle cx="429.0" cy="218.2" r="4.7" class="d"/>
<circle cx="435.3" cy="222.4" r="4.7" class="d"/>
<circle cx="400.8" cy="225.1" r="4.7" class="d"/>
<circle cx="420.4" cy="216.4" r="4.7" class="d"/>
<circle cx="334.9" cy="198.6" r="4.7" class="d"/>
<circle cx="348.9" cy="198.9" r="4.7" class="d"/>
<circle cx="450.4" cy="178.3" r="4.7" class="d"/>
<circle cx="419.9" cy="181.5" r="4.7" class="d"/>
<circle cx="453.2" cy="178.4" r="4.7" class="d"/>
<circle cx="439.0" cy="193.0" r="4.7" class="d"/>
<circle cx="436.0" cy="200.0" r="4.7" class="d"/>
<circle cx="353.9" cy="185.4" r="4.7" class="d"/>
<circle cx="416.2" cy="184.2" r="4.7" class="d"/>
<circle cx="357.0" cy="183.0" r="4.7" class="d"/>
<circle cx="436.1" cy="197.2" r="4.7" class="d"/>
<circle cx="428.1" cy="182.9" r="4.7" class="d"/>
<circle cx="445.0" cy="189.3" r="4.7" class="d"/>
<circle cx="352.8" cy="188.0" r="4.7" class="d"/>
<circle cx="377.8" cy="179.7" r="4.7" class="d"/>
<circle cx="397.1" cy="185.9" r="4.7" class="d"/>
<circle cx="397.8" cy="198.5" r="4.7" class="d"/>
<circle cx="407.9" cy="186.9" r="4.7" class="d"/>
<circle cx="436.9" cy="199.9" r="4.7" class="d"/>
<circle cx="387.2" cy="198.8" r="4.7" class="d"/>
<circle cx="324.5" cy="181.1" r="4.7" class="d"/>
<circle cx="344.9" cy="198.6" r="4.7" class="d"/>
<circle cx="413.8" cy="193.8" r="4.7" class="d"/>
<circle cx="360.1" cy="188.9" r="4.7" class="d"/>
<circle cx="440.0" cy="180.2" r="4.7" class="d"/>
<circle cx="337.5" cy="179.0" r="4.7" class="d"/>
<circle cx="384.3" cy="196.5" r="4.7" class="d"/>
<circle cx="395.8" cy="186.8" r="4.7" class="d"/>
<circle cx="388.8" cy="181.9" r="4.7" class="d"/>
<circle cx="448.1" cy="185.8" r="4.7" class="d"/>
<circle cx="353.3" cy="184.8" r="4.7" class="d"/>
<circle cx="431.7" cy="185.0" r="4.7" class="d"/>
<circle cx="442.3" cy="185.4" r="4.7" class="d"/>
<circle cx="380.7" cy="179.6" r="4.7" class="d"/>
<circle cx="442.7" cy="195.5" r="4.7" class="d"/>
<circle cx="385.1" cy="180.5" r="4.7" class="d"/>
<circle cx="387.5" cy="186.3" r="4.7" class="d"/>
<circle cx="433.7" cy="198.4" r="4.7" class="d"/>
<circle cx="420.6" cy="184.3" r="4.7" class="d"/>
<circle cx="327.5" cy="197.7" r="4.7" class="d"/>
<circle cx="447.6" cy="181.5" r="4.7" class="d"/>
<circle cx="388.5" cy="188.6" r="4.7" class="d"/>
<circle cx="850.1" cy="181.1" r="4.7" class="d"/>
<circle cx="892.6" cy="174.3" r="4.7" class="d"/>
<circle cx="877.7" cy="199.8" r="4.7" class="d"/>
<circle cx="815.5" cy="212.1" r="4.7" class="d"/>
<circle cx="812.9" cy="205.7" r="4.7" class="d"/>
<circle cx="817.1" cy="175.9" r="4.7" class="d"/>
<circle cx="863.2" cy="239.9" r="4.7" class="d"/>
<circle cx="824.1" cy="187.4" r="4.7" class="d"/>
<circle cx="889.6" cy="250.5" r="4.7" class="d"/>
<circle cx="883.0" cy="202.5" r="4.7" class="d"/>
<circle cx="934.9" cy="172.1" r="4.7" class="d"/>
<circle cx="919.6" cy="193.2" r="4.7" class="d"/>
<circle cx="826.8" cy="178.2" r="4.7" class="d"/>
<circle cx="848.1" cy="239.0" r="4.7" class="d"/>
<circle cx="831.5" cy="218.6" r="4.7" class="d"/>
<circle cx="891.1" cy="200.4" r="4.7" class="d"/>
<circle cx="879.2" cy="173.5" r="4.7" class="d"/>
<circle cx="815.7" cy="185.9" r="4.7" class="d"/>
<circle cx="896.5" cy="205.2" r="4.7" class="d"/>
<circle cx="848.8" cy="218.9" r="4.7" class="d"/>
<circle cx="866.9" cy="194.1" r="4.7" class="d"/>
<circle cx="911.3" cy="228.8" r="4.7" class="d"/>
<circle cx="839.7" cy="218.0" r="4.7" class="d"/>
<circle cx="876.3" cy="244.1" r="4.7" class="d"/>
<circle cx="902.8" cy="193.1" r="4.7" class="d"/>
<circle cx="935.4" cy="178.3" r="4.7" class="d"/>
<circle cx="862.4" cy="233.9" r="4.7" class="d"/>
<circle cx="827.8" cy="210.5" r="4.7" class="d"/>
<circle cx="813.1" cy="226.1" r="4.7" class="d"/>
<circle cx="907.4" cy="217.9" r="4.7" class="d"/>
<circle cx="921.8" cy="195.3" r="4.7" class="d"/>
<circle cx="898.4" cy="219.7" r="4.7" class="d"/>
<circle cx="883.4" cy="207.7" r="4.7" class="d"/>
<circle cx="917.2" cy="250.2" r="4.7" class="d"/>
<circle cx="869.6" cy="225.8" r="4.7" class="d"/>
<circle cx="815.9" cy="229.0" r="4.7" class="d"/>
<circle cx="892.1" cy="254.4" r="4.7" class="d"/>
<circle cx="914.9" cy="192.8" r="4.7" class="d"/>
<circle cx="858.2" cy="226.2" r="4.7" class="d"/>
<circle cx="810.9" cy="208.2" r="4.7" class="d"/>
<circle cx="829.8" cy="178.2" r="4.7" class="d"/>
<circle cx="815.7" cy="234.8" r="4.7" class="d"/>
<circle cx="824.8" cy="189.5" r="4.7" class="d"/>
<circle cx="858.8" cy="243.8" r="4.7" class="d"/>
<circle cx="818.5" cy="207.1" r="4.7" class="d"/>
<circle cx="879.4" cy="244.9" r="4.7" class="d"/>
<circle cx="914.5" cy="243.2" r="4.7" class="d"/>
<circle cx="844.2" cy="204.1" r="4.7" class="d"/>
<circle cx="854.6" cy="244.9" r="4.7" class="d"/>
<circle cx="932.5" cy="181.1" r="4.7" class="d"/>
<circle cx="830.9" cy="188.2" r="4.7" class="d"/>
<circle cx="838.3" cy="210.2" r="4.7" class="d"/>
<circle cx="884.6" cy="190.9" r="4.7" class="d"/>
<circle cx="808.5" cy="204.4" r="4.7" class="d"/>
<circle cx="856.0" cy="217.3" r="4.7" class="d"/>
<circle cx="931.9" cy="228.1" r="4.7" class="d"/>
<circle cx="875.0" cy="221.7" r="4.7" class="d"/>
<circle cx="895.9" cy="172.7" r="4.7" class="d"/>
<circle cx="924.9" cy="235.9" r="4.7" class="d"/>
<circle cx="921.7" cy="237.4" r="4.7" class="d"/>
<circle cx="859.0" cy="202.7" r="4.7" class="d"/>
<circle cx="821.5" cy="223.2" r="4.7" class="d"/>
<circle cx="816.1" cy="173.9" r="4.7" class="d"/>
<circle cx="835.1" cy="182.1" r="4.7" class="d"/>
<circle cx="852.2" cy="172.6" r="4.7" class="d"/>
<circle cx="808.0" cy="181.2" r="4.7" class="d"/>
<circle cx="821.2" cy="199.6" r="4.7" class="d"/>
<circle cx="811.3" cy="244.1" r="4.7" class="d"/>
<circle cx="887.8" cy="180.9" r="4.7" class="d"/>
<circle cx="840.8" cy="198.2" r="4.7" class="d"/>
<circle cx="855.3" cy="178.7" r="4.7" class="d"/>
<circle cx="918.4" cy="254.4" r="4.7" class="d"/>
<circle cx="868.6" cy="210.1" r="4.7" class="d"/>
<circle cx="819.2" cy="176.9" r="4.7" class="d"/>
<circle cx="852.5" cy="191.0" r="4.7" class="d"/>
<circle cx="915.8" cy="182.0" r="4.7" class="d"/>
<circle cx="811.0" cy="250.7" r="4.7" class="d"/>
<circle cx="876.7" cy="180.8" r="4.7" class="d"/>
<circle cx="878.6" cy="170.4" r="4.7" class="d"/>
<circle cx="876.7" cy="253.1" r="4.7" class="d"/>
<circle cx="920.2" cy="228.6" r="4.7" class="d"/>
<circle cx="841.9" cy="199.9" r="4.7" class="d"/>
<circle cx="829.7" cy="235.2" r="4.7" class="d"/>
<circle cx="877.2" cy="235.8" r="4.7" class="d"/>
<circle cx="850.9" cy="187.4" r="4.7" class="d"/>
<circle cx="913.5" cy="253.7" r="4.7" class="d"/>
<circle cx="918.8" cy="238.1" r="4.7" class="d"/>
<circle cx="914.4" cy="232.4" r="4.7" class="d"/>
<circle cx="837.5" cy="213.0" r="4.7" class="d"/>
<circle cx="854.2" cy="170.5" r="4.7" class="d"/>
<circle cx="811.6" cy="192.3" r="4.7" class="d"/>
<circle cx="841.7" cy="228.2" r="4.7" class="d"/>
<circle cx="932.3" cy="206.9" r="4.7" class="d"/>
<circle cx="929.8" cy="254.0" r="4.7" class="d"/>
<circle cx="932.2" cy="199.7" r="4.7" class="d"/>
<circle cx="836.7" cy="187.7" r="4.7" class="d"/>
<circle cx="833.6" cy="185.8" r="4.7" class="d"/>
<circle cx="889.1" cy="246.3" r="4.7" class="d"/>
<circle cx="917.3" cy="209.7" r="4.7" class="d"/>
<circle cx="892.9" cy="237.6" r="4.7" class="d"/>
<circle cx="819.0" cy="225.5" r="4.7" class="d"/>
<circle cx="926.3" cy="236.1" r="4.7" class="d"/>
<circle cx="905.5" cy="209.6" r="4.7" class="d"/>
<circle cx="831.2" cy="236.7" r="4.7" class="d"/>
<circle cx="851.2" cy="237.7" r="4.7" class="d"/>
<circle cx="934.3" cy="202.4" r="4.7" class="d"/>
<circle cx="860.2" cy="250.4" r="4.7" class="d"/>
<circle cx="902.2" cy="182.8" r="4.7" class="d"/>
<circle cx="824.5" cy="181.2" r="4.7" class="d"/>
<circle cx="925.6" cy="238.2" r="4.7" class="d"/>
<circle cx="827.0" cy="239.9" r="4.7" class="d"/>
<circle cx="935.4" cy="225.2" r="4.7" class="d"/>
<circle cx="853.6" cy="215.7" r="4.7" class="d"/>
<circle cx="825.0" cy="169.2" r="4.7" class="d"/>
<circle cx="934.2" cy="224.5" r="4.7" class="d"/>
<circle cx="876.5" cy="249.2" r="4.7" class="d"/>
<circle cx="864.4" cy="243.8" r="4.7" class="d"/>
<circle cx="915.4" cy="186.4" r="4.7" class="d"/>
<circle cx="840.7" cy="193.5" r="4.7" class="d"/>
<circle cx="839.3" cy="219.0" r="4.7" class="d"/>
<circle cx="841.7" cy="204.5" r="4.7" class="d"/>
<circle cx="825.0" cy="247.2" r="4.7" class="d"/>
<circle cx="854.0" cy="207.9" r="4.7" class="d"/>
<circle cx="883.8" cy="246.7" r="4.7" class="d"/>
<circle cx="862.7" cy="247.8" r="4.7" class="d"/>
<circle cx="873.2" cy="214.3" r="4.7" class="d"/>
<circle cx="876.1" cy="169.6" r="4.7" class="d"/>
<circle cx="865.2" cy="183.9" r="4.7" class="d"/>
<circle cx="808.5" cy="237.5" r="4.7" class="d"/>
<circle cx="830.4" cy="209.2" r="4.7" class="d"/>
<circle cx="902.3" cy="216.4" r="4.7" class="d"/>
<circle cx="850.4" cy="213.1" r="4.7" class="d"/>
<circle cx="880.2" cy="236.2" r="4.7" class="d"/>
<circle cx="821.8" cy="216.7" r="4.7" class="d"/>
<circle cx="840.3" cy="192.1" r="4.7" class="d"/>
<circle cx="908.4" cy="212.2" r="4.7" class="d"/>
<circle cx="881.0" cy="234.1" r="4.7" class="d"/>
<circle cx="926.6" cy="206.6" r="4.7" class="d"/>
<circle cx="887.6" cy="212.0" r="4.7" class="d"/>
<circle cx="874.6" cy="228.3" r="4.7" class="d"/>
<circle cx="866.8" cy="214.4" r="4.7" class="d"/>
<circle cx="870.1" cy="249.9" r="4.7" class="d"/>
<circle cx="898.9" cy="244.3" r="4.7" class="d"/>
<circle cx="930.5" cy="190.6" r="4.7" class="d"/>
<circle cx="880.7" cy="250.1" r="4.7" class="d"/>
<circle cx="917.2" cy="179.9" r="4.7" class="d"/>
<circle cx="823.8" cy="206.5" r="4.7" class="d"/>
<circle cx="817.4" cy="188.9" r="4.7" class="d"/>
<circle cx="817.5" cy="226.2" r="4.7" class="d"/>
<circle cx="909.9" cy="246.0" r="4.7" class="d"/>
<circle cx="828.1" cy="230.3" r="4.7" class="d"/>
<circle cx="893.8" cy="180.4" r="4.7" class="d"/>
<circle cx="922.8" cy="252.2" r="4.7" class="d"/>
<circle cx="836.5" cy="250.9" r="4.7" class="d"/>
<circle cx="859.8" cy="210.4" r="4.7" class="d"/>
<circle cx="936.7" cy="240.4" r="4.7" class="d"/>
<circle cx="829.0" cy="205.5" r="4.7" class="d"/>
<circle cx="875.0" cy="197.5" r="4.7" class="d"/>
<circle cx="833.4" cy="195.7" r="4.7" class="d"/>
<circle cx="901.9" cy="169.7" r="4.7" class="d"/>
<circle cx="880.0" cy="206.3" r="4.7" class="d"/>
<circle cx="810.4" cy="196.8" r="4.7" class="d"/>
<circle cx="889.1" cy="212.6" r="4.7" class="d"/>
<circle cx="816.4" cy="253.7" r="4.7" class="d"/>
<circle cx="910.5" cy="252.5" r="4.7" class="d"/>
<circle cx="821.6" cy="191.1" r="4.7" class="d"/>
<circle cx="813.1" cy="235.8" r="4.7" class="d"/>
<circle cx="843.2" cy="179.3" r="4.7" class="d"/>
<circle cx="862.9" cy="247.3" r="4.7" class="d"/>
<circle cx="914.5" cy="190.5" r="4.7" class="d"/>
<circle cx="827.4" cy="248.0" r="4.7" class="d"/>
<circle cx="882.2" cy="228.9" r="4.7" class="d"/>
<circle cx="819.6" cy="173.0" r="4.7" class="d"/>
<circle cx="897.5" cy="205.0" r="4.7" class="d"/>
<circle cx="817.4" cy="249.6" r="4.7" class="d"/>
<circle cx="890.5" cy="237.7" r="4.7" class="d"/>
<circle cx="818.9" cy="242.5" r="4.7" class="d"/>
<circle cx="816.7" cy="243.1" r="4.7" class="d"/>
<circle cx="867.0" cy="197.5" r="4.7" class="d"/>
<circle cx="879.9" cy="248.6" r="4.7" class="d"/>
<circle cx="842.8" cy="179.2" r="4.7" class="d"/>
<circle cx="876.5" cy="188.7" r="4.7" class="d"/>
<circle cx="822.2" cy="182.0" r="4.7" class="d"/>
<circle cx="814.5" cy="185.6" r="4.7" class="d"/>
<circle cx="848.6" cy="194.5" r="4.7" class="d"/>
<circle cx="906.7" cy="193.2" r="4.7" class="d"/>
<circle cx="873.0" cy="183.5" r="4.7" class="d"/>
<circle cx="853.1" cy="169.6" r="4.7" class="d"/>
<circle cx="840.6" cy="169.3" r="4.7" class="d"/>
<circle cx="903.3" cy="215.9" r="4.7" class="d"/>
<circle cx="832.6" cy="209.3" r="4.7" class="d"/>
<circle cx="929.5" cy="177.2" r="4.7" class="d"/>
<circle cx="914.5" cy="205.6" r="4.7" class="d"/>
<circle cx="872.4" cy="240.6" r="4.7" class="d"/>
<circle cx="859.1" cy="212.1" r="4.7" class="d"/>
<circle cx="897.4" cy="253.5" r="4.7" class="d"/>
<circle cx="852.6" cy="240.4" r="4.7" class="d"/>
<circle cx="899.9" cy="223.3" r="4.7" class="d"/>
<circle cx="860.6" cy="198.2" r="4.7" class="d"/>
<circle cx="815.1" cy="179.3" r="4.7" class="d"/>
<circle cx="817.2" cy="232.5" r="4.7" class="d"/>
<circle cx="841.2" cy="182.2" r="4.7" class="d"/>
<circle cx="819.0" cy="241.2" r="4.7" class="d"/>
<circle cx="921.2" cy="226.3" r="4.7" class="d"/>
<circle cx="844.7" cy="189.1" r="4.7" class="d"/>
<circle cx="846.1" cy="208.0" r="4.7" class="d"/>
<circle cx="828.5" cy="206.8" r="4.7" class="d"/>
<circle cx="842.2" cy="251.7" r="4.7" class="d"/>
<circle cx="934.4" cy="215.6" r="4.7" class="d"/>
<circle cx="839.8" cy="252.0" r="4.7" class="d"/>
<circle cx="848.2" cy="199.0" r="4.7" class="d"/>
<circle cx="808.1" cy="201.2" r="4.7" class="d"/>
<circle cx="869.7" cy="211.7" r="4.7" class="d"/>
<circle cx="834.1" cy="211.9" r="4.7" class="d"/>
<circle cx="808.6" cy="191.0" r="4.7" class="d"/>
<circle cx="819.7" cy="202.8" r="4.7" class="d"/>
<circle cx="813.4" cy="170.0" r="4.7" class="d"/>
<circle cx="847.6" cy="188.3" r="4.7" class="d"/>
<circle cx="884.1" cy="214.0" r="4.7" class="d"/>
<circle cx="905.6" cy="225.2" r="4.7" class="d"/>
<circle cx="901.1" cy="244.5" r="4.7" class="d"/>
<circle cx="858.6" cy="196.4" r="4.7" class="d"/>
<circle cx="936.0" cy="181.0" r="4.7" class="d"/>
<circle cx="902.1" cy="224.0" r="4.7" class="d"/>
<circle cx="813.7" cy="240.7" r="4.7" class="d"/>
<circle cx="924.0" cy="222.6" r="4.7" class="d"/>
<circle cx="903.4" cy="238.7" r="4.7" class="d"/>
<circle cx="826.1" cy="213.6" r="4.7" class="d"/>
<circle cx="873.6" cy="240.6" r="4.7" class="d"/>
<circle cx="912.6" cy="239.9" r="4.7" class="d"/>
<circle cx="883.9" cy="245.7" r="4.7" class="d"/>
<circle cx="896.8" cy="228.3" r="4.7" class="d"/>
<circle cx="837.9" cy="170.7" r="4.7" class="d"/>
<circle cx="825.3" cy="199.4" r="4.7" class="d"/>
<circle cx="821.6" cy="240.7" r="4.7" class="d"/>
<circle cx="880.6" cy="222.6" r="4.7" class="d"/>
<circle cx="889.4" cy="227.2" r="4.7" class="d"/>
<circle cx="871.6" cy="168.3" r="4.7" class="d"/>
<circle cx="911.7" cy="233.1" r="4.7" class="d"/>
<circle cx="873.4" cy="214.6" r="4.7" class="d"/>
<circle cx="893.7" cy="173.7" r="4.7" class="d"/>
<circle cx="903.8" cy="189.9" r="4.7" class="d"/>
<circle cx="817.7" cy="191.1" r="4.7" class="d"/>
<circle cx="902.8" cy="185.9" r="4.7" class="d"/>
<circle cx="904.2" cy="252.9" r="4.7" class="d"/>
<circle cx="872.2" cy="201.3" r="4.7" class="d"/>
<circle cx="870.3" cy="227.5" r="4.7" class="d"/>
<circle cx="907.7" cy="221.7" r="4.7" class="d"/>
<circle cx="891.6" cy="174.7" r="4.7" class="d"/>
<circle cx="827.2" cy="190.1" r="4.7" class="d"/>
<circle cx="904.6" cy="194.5" r="4.7" class="d"/>
<circle cx="881.8" cy="169.1" r="4.7" class="d"/>
<circle cx="815.9" cy="191.4" r="4.7" class="d"/>
<circle cx="895.4" cy="228.2" r="4.7" class="d"/>
<circle cx="895.8" cy="193.3" r="4.7" class="d"/>
<circle cx="875.1" cy="208.4" r="4.7" class="d"/>
<circle cx="868.6" cy="178.3" r="4.7" class="d"/>
<circle cx="924.2" cy="185.3" r="4.7" class="d"/>
<circle cx="935.2" cy="249.5" r="4.7" class="d"/>
<circle cx="810.3" cy="207.9" r="4.7" class="d"/>
<circle cx="914.6" cy="252.2" r="4.7" class="d"/>
<circle cx="866.4" cy="191.4" r="4.7" class="d"/>
<circle cx="835.3" cy="250.3" r="4.7" class="d"/>
<circle cx="835.4" cy="218.6" r="4.7" class="d"/>
<circle cx="826.4" cy="213.6" r="4.7" class="d"/>
<circle cx="931.9" cy="179.5" r="4.7" class="d"/>
<circle cx="914.6" cy="212.3" r="4.7" class="d"/>
<circle cx="923.3" cy="229.2" r="4.7" class="d"/>
<circle cx="838.1" cy="246.1" r="4.7" class="d"/>
<circle cx="871.2" cy="170.2" r="4.7" class="d"/>
<circle cx="808.5" cy="210.8" r="4.7" class="d"/>
<circle cx="866.6" cy="194.3" r="4.7" class="d"/>
<circle cx="826.3" cy="197.9" r="4.7" class="d"/>
<circle cx="849.1" cy="241.1" r="4.7" class="d"/>
<circle cx="808.2" cy="233.3" r="4.7" class="d"/>
<circle cx="917.1" cy="178.4" r="4.7" class="d"/>
<circle cx="928.4" cy="230.0" r="4.7" class="d"/>
<circle cx="925.2" cy="193.2" r="4.7" class="d"/>
<circle cx="856.4" cy="202.2" r="4.7" class="d"/>
<circle cx="937.8" cy="219.3" r="4.7" class="d"/>
<circle cx="854.9" cy="205.2" r="4.7" class="d"/>
<circle cx="843.8" cy="172.2" r="4.7" class="d"/>
<circle cx="821.2" cy="240.6" r="4.7" class="d"/>
<circle cx="845.1" cy="249.4" r="4.7" class="d"/>
<circle cx="840.4" cy="191.1" r="4.7" class="d"/>
<circle cx="874.4" cy="184.5" r="4.7" class="d"/>
<circle cx="856.5" cy="251.2" r="4.7" class="d"/>
<circle cx="923.0" cy="238.6" r="4.7" class="d"/>
<circle cx="890.0" cy="247.5" r="4.7" class="d"/>
<circle cx="930.3" cy="215.8" r="4.7" class="d"/>
<circle cx="901.5" cy="172.3" r="4.7" class="d"/>
<circle cx="903.2" cy="207.2" r="4.7" class="d"/>
<circle cx="905.8" cy="224.1" r="4.7" class="d"/>
<circle cx="845.2" cy="172.3" r="4.7" class="d"/>
<circle cx="928.5" cy="179.1" r="4.7" class="d"/>
<circle cx="869.4" cy="197.9" r="4.7" class="d"/>
<circle cx="846.7" cy="232.3" r="4.7" class="d"/>
<circle cx="934.9" cy="190.6" r="4.7" class="d"/>
<circle cx="893.3" cy="194.2" r="4.7" class="d"/>
<circle cx="880.5" cy="202.3" r="4.7" class="d"/>
<circle cx="829.8" cy="182.1" r="4.7" class="d"/>
<circle cx="835.0" cy="246.8" r="4.7" class="d"/>
<circle cx="872.6" cy="187.1" r="4.7" class="d"/>
<circle cx="925.8" cy="254.7" r="4.7" class="d"/>
<circle cx="866.5" cy="180.1" r="4.7" class="d"/>
<circle cx="833.0" cy="175.9" r="4.7" class="d"/>
<circle cx="852.5" cy="175.9" r="4.7" class="d"/>
<circle cx="839.1" cy="190.5" r="4.7" class="d"/>
<circle cx="882.1" cy="245.2" r="4.7" class="d"/>
<circle cx="905.5" cy="203.9" r="4.7" class="d"/>
<circle cx="861.8" cy="213.6" r="4.7" class="d"/>
<circle cx="857.0" cy="197.4" r="4.7" class="d"/>
<circle cx="816.1" cy="192.1" r="4.7" class="d"/>
<circle cx="933.8" cy="179.0" r="4.7" class="d"/>
<circle cx="873.4" cy="222.8" r="4.7" class="d"/>
<circle cx="920.2" cy="186.8" r="4.7" class="d"/>
<circle cx="843.2" cy="189.6" r="4.7" class="d"/>
<circle cx="860.0" cy="206.8" r="4.7" class="d"/>
<circle cx="932.0" cy="241.8" r="4.7" class="d"/>
<circle cx="921.5" cy="169.9" r="4.7" class="d"/>
<circle cx="812.2" cy="229.7" r="4.7" class="d"/>
<circle cx="924.4" cy="209.2" r="4.7" class="d"/>
<circle cx="884.3" cy="168.0" r="4.7" class="d"/>
<circle cx="858.9" cy="248.6" r="4.7" class="d"/>
<circle cx="915.3" cy="242.4" r="4.7" class="d"/>
<circle cx="934.4" cy="189.6" r="4.7" class="d"/>
<circle cx="822.2" cy="181.4" r="4.7" class="d"/>
<circle cx="875.9" cy="227.3" r="4.7" class="d"/>
<circle cx="930.4" cy="230.8" r="4.7" class="d"/>
<circle cx="892.2" cy="234.5" r="4.7" class="d"/>
<circle cx="867.5" cy="216.0" r="4.7" class="d"/>
<circle cx="813.1" cy="236.1" r="4.7" class="d"/>
<circle cx="838.2" cy="248.0" r="4.7" class="d"/>
<circle cx="891.9" cy="194.4" r="4.7" class="d"/>
<circle cx="824.6" cy="189.9" r="4.7" class="d"/>
<circle cx="890.7" cy="228.8" r="4.7" class="d"/>
<circle cx="822.6" cy="174.1" r="4.7" class="d"/>
<circle cx="876.2" cy="218.7" r="4.7" class="d"/>
<circle cx="858.5" cy="187.5" r="4.7" class="d"/>
<circle cx="886.1" cy="168.9" r="4.7" class="d"/>
<circle cx="847.2" cy="208.1" r="4.7" class="d"/>
<circle cx="932.7" cy="224.1" r="4.7" class="d"/>
<circle cx="922.9" cy="209.4" r="4.7" class="d"/>
<circle cx="838.5" cy="189.5" r="4.7" class="d"/>
<circle cx="932.9" cy="229.3" r="4.7" class="d"/>
<circle cx="848.0" cy="169.9" r="4.7" class="d"/>
<circle cx="872.8" cy="226.7" r="4.7" class="d"/>
<circle cx="862.6" cy="190.4" r="4.7" class="d"/>
<circle cx="894.8" cy="248.5" r="4.7" class="d"/>
<circle cx="837.5" cy="171.0" r="4.7" class="d"/>
<circle cx="851.9" cy="204.6" r="4.7" class="d"/>
<circle cx="896.7" cy="185.2" r="4.7" class="d"/>
<circle cx="911.6" cy="232.3" r="4.7" class="d"/>
<circle cx="873.6" cy="185.9" r="4.7" class="d"/>
<circle cx="934.1" cy="195.1" r="4.7" class="d"/>
<circle cx="914.6" cy="188.1" r="4.7" class="d"/>
<circle cx="836.8" cy="234.2" r="4.7" class="d"/>
<circle cx="846.3" cy="250.8" r="4.7" class="d"/>
<circle cx="872.4" cy="184.3" r="4.7" class="d"/>
<circle cx="837.0" cy="204.3" r="4.7" class="d"/>
<circle cx="894.5" cy="250.5" r="4.7" class="d"/>
<circle cx="827.0" cy="202.2" r="4.7" class="d"/>
<circle cx="835.7" cy="252.7" r="4.7" class="d"/>
<circle cx="826.4" cy="172.5" r="4.7" class="d"/>
<circle cx="815.8" cy="202.2" r="4.7" class="d"/>
<circle cx="924.8" cy="244.9" r="4.7" class="d"/>
<circle cx="903.3" cy="254.8" r="4.7" class="d"/>
<circle cx="929.1" cy="196.6" r="4.7" class="d"/>
<circle cx="832.1" cy="249.4" r="4.7" class="d"/>
<circle cx="905.0" cy="170.8" r="4.7" class="d"/>
<circle cx="894.4" cy="200.9" r="4.7" class="d"/>
<circle cx="856.6" cy="196.9" r="4.7" class="d"/>
<circle cx="830.0" cy="168.2" r="4.7" class="d"/>
<circle cx="844.4" cy="198.6" r="4.7" class="d"/>
<circle cx="932.2" cy="178.8" r="4.7" class="d"/>
<circle cx="933.4" cy="186.0" r="4.7" class="d"/>
<circle cx="854.4" cy="239.5" r="4.7" class="d"/>
<circle cx="914.9" cy="205.6" r="4.7" class="d"/>
<circle cx="814.4" cy="209.2" r="4.7" class="d"/>
<circle cx="856.5" cy="248.0" r="4.7" class="d"/>
<circle cx="875.9" cy="164.5" r="4.7" class="d"/>
<circle cx="932.9" cy="155.2" r="4.7" class="d"/>
<circle cx="907.6" cy="162.7" r="4.7" class="d"/>
<circle cx="894.0" cy="152.0" r="4.7" class="d"/>
<circle cx="811.5" cy="156.9" r="4.7" class="d"/>
<circle cx="905.0" cy="154.5" r="4.7" class="d"/>
<circle cx="873.2" cy="155.7" r="4.7" class="d"/>
<circle cx="918.0" cy="167.0" r="4.7" class="d"/>
<circle cx="860.2" cy="168.0" r="4.7" class="d"/>
<circle cx="816.1" cy="164.6" r="4.7" class="d"/>
<circle cx="921.8" cy="152.7" r="4.7" class="d"/>
<circle cx="899.7" cy="160.1" r="4.7" class="d"/>
<circle cx="932.2" cy="153.8" r="4.7" class="d"/>
<circle cx="878.2" cy="165.9" r="4.7" class="d"/>
<circle cx="891.0" cy="155.6" r="4.7" class="d"/>
<circle cx="818.6" cy="166.9" r="4.7" class="d"/>
<circle cx="869.6" cy="167.9" r="4.7" class="d"/>
<circle cx="826.4" cy="164.6" r="4.7" class="d"/>
<circle cx="913.7" cy="166.6" r="4.7" class="d"/>
<circle cx="810.3" cy="156.7" r="4.7" class="d"/>
<circle cx="814.7" cy="163.5" r="4.7" class="d"/>
<circle cx="854.1" cy="167.3" r="4.7" class="d"/>
<circle cx="856.7" cy="163.9" r="4.7" class="d"/>
<circle cx="920.8" cy="154.3" r="4.7" class="d"/>
<circle cx="880.4" cy="167.2" r="4.7" class="d"/>
<circle cx="876.5" cy="156.5" r="4.7" class="d"/>
<circle cx="842.7" cy="164.2" r="4.7" class="d"/>
<circle cx="833.1" cy="160.9" r="4.7" class="d"/>
<circle cx="880.2" cy="160.0" r="4.7" class="d"/>
<circle cx="824.8" cy="161.9" r="4.7" class="d"/>
<circle cx="927.1" cy="155.7" r="4.7" class="d"/>
<circle cx="851.2" cy="166.4" r="4.7" class="d"/>
<circle cx="883.2" cy="154.9" r="4.7" class="d"/>
<circle cx="809.3" cy="163.6" r="4.7" class="d"/>
<circle cx="853.2" cy="158.4" r="4.7" class="d"/>
<circle cx="843.4" cy="161.4" r="4.7" class="d"/>
<circle cx="902.8" cy="155.6" r="4.7" class="d"/>
<circle cx="817.8" cy="167.8" r="4.7" class="d"/>
<circle cx="926.3" cy="150.4" r="4.7" class="d"/>
<circle cx="881.3" cy="162.3" r="4.7" class="d"/>
<circle cx="860.4" cy="163.2" r="4.7" class="d"/>
<circle cx="932.8" cy="160.6" r="4.7" class="d"/>
<circle cx="858.9" cy="153.5" r="4.7" class="d"/>
<circle cx="840.7" cy="152.7" r="4.7" class="d"/>
<circle cx="822.4" cy="153.8" r="4.7" class="d"/>
<circle cx="837.5" cy="298.3" r="4.7" class="d"/>
<circle cx="824.4" cy="286.7" r="4.7" class="d"/>
<circle cx="819.1" cy="266.1" r="4.7" class="d"/>
<circle cx="937.9" cy="264.4" r="4.7" class="d"/>
<circle cx="891.4" cy="275.7" r="4.7" class="d"/>
<circle cx="866.9" cy="277.3" r="4.7" class="d"/>
<circle cx="833.0" cy="292.4" r="4.7" class="d"/>
<circle cx="819.6" cy="265.5" r="4.7" class="d"/>
<circle cx="810.6" cy="267.0" r="4.7" class="d"/>
<circle cx="861.0" cy="295.6" r="4.7" class="d"/>
<circle cx="857.3" cy="260.1" r="4.7" class="d"/>
<circle cx="841.6" cy="299.6" r="4.7" class="d"/>
<circle cx="857.0" cy="284.7" r="4.7" class="d"/>
<circle cx="852.0" cy="286.1" r="4.7" class="d"/>
<circle cx="872.7" cy="284.2" r="4.7" class="d"/>
<circle cx="925.2" cy="281.2" r="4.7" class="d"/>
<circle cx="826.5" cy="257.9" r="4.7" class="d"/>
<circle cx="931.0" cy="277.0" r="4.7" class="d"/>
<circle cx="833.2" cy="297.6" r="4.7" class="d"/>
<circle cx="883.3" cy="287.8" r="4.7" class="d"/>
<circle cx="922.5" cy="267.9" r="4.7" class="d"/>
<circle cx="854.4" cy="294.5" r="4.7" class="d"/>
<circle cx="825.5" cy="289.4" r="4.7" class="d"/>
<circle cx="899.3" cy="297.7" r="4.7" class="d"/>
<circle cx="917.7" cy="277.7" r="4.7" class="d"/>
<circle cx="833.7" cy="261.8" r="4.7" class="d"/>
<circle cx="876.7" cy="277.9" r="4.7" class="d"/>
<circle cx="874.0" cy="286.6" r="4.7" class="d"/>
<circle cx="836.6" cy="266.0" r="4.7" class="d"/>
<circle cx="809.5" cy="270.4" r="4.7" class="d"/>
<circle cx="842.7" cy="274.1" r="4.7" class="d"/>
<circle cx="857.0" cy="292.5" r="4.7" class="d"/>
<circle cx="923.9" cy="262.9" r="4.7" class="d"/>
<circle cx="859.5" cy="262.5" r="4.7" class="d"/>
<circle cx="894.2" cy="298.9" r="4.7" class="d"/>
<circle cx="834.2" cy="289.5" r="4.7" class="d"/>
<circle cx="847.0" cy="255.6" r="4.7" class="d"/>
<circle cx="907.4" cy="270.4" r="4.7" class="d"/>
<circle cx="830.1" cy="274.6" r="4.7" class="d"/>
<circle cx="838.1" cy="273.5" r="4.7" class="d"/>
<circle cx="866.0" cy="273.8" r="4.7" class="d"/>
<circle cx="884.5" cy="268.0" r="4.7" class="d"/>
<circle cx="820.4" cy="258.8" r="4.7" class="d"/>
<circle cx="854.8" cy="291.3" r="4.7" class="d"/>
<circle cx="873.6" cy="286.9" r="4.7" class="d"/>
<circle cx="935.4" cy="257.8" r="4.7" class="d"/>
<circle cx="810.2" cy="261.3" r="4.7" class="d"/>
<circle cx="858.2" cy="280.8" r="4.7" class="d"/>
<circle cx="904.7" cy="270.8" r="4.7" class="d"/>
<circle cx="933.4" cy="255.1" r="4.7" class="d"/>
<circle cx="916.6" cy="264.5" r="4.7" class="d"/>
<circle cx="921.8" cy="256.5" r="4.7" class="d"/>
<circle cx="933.5" cy="289.2" r="4.7" class="d"/>
<circle cx="936.8" cy="281.1" r="4.7" class="d"/>
<circle cx="831.1" cy="298.6" r="4.7" class="d"/>
<circle cx="865.4" cy="258.8" r="4.7" class="d"/>
<circle cx="886.7" cy="277.4" r="4.7" class="d"/>
<circle cx="823.9" cy="281.1" r="4.7" class="d"/>
<circle cx="866.8" cy="260.7" r="4.7" class="d"/>
<circle cx="865.1" cy="287.6" r="4.7" class="d"/>
<circle cx="901.0" cy="276.2" r="4.7" class="d"/>
<circle cx="837.3" cy="263.9" r="4.7" class="d"/>
<circle cx="866.0" cy="259.9" r="4.7" class="d"/>
<circle cx="902.3" cy="286.9" r="4.7" class="d"/>
<circle cx="887.5" cy="256.0" r="4.7" class="d"/>
<circle cx="906.2" cy="277.6" r="4.7" class="d"/>
<circle cx="899.7" cy="264.0" r="4.7" class="d"/>
<circle cx="837.8" cy="278.7" r="4.7" class="d"/>
<circle cx="904.7" cy="284.1" r="4.7" class="d"/>
<circle cx="926.2" cy="288.4" r="4.7" class="d"/>
<circle cx="837.1" cy="268.3" r="4.7" class="d"/>
<circle cx="879.2" cy="299.0" r="4.7" class="d"/>
<circle cx="856.0" cy="297.4" r="4.7" class="d"/>
<circle cx="918.6" cy="278.2" r="4.7" class="d"/>
<circle cx="889.3" cy="298.1" r="4.7" class="d"/>
<circle cx="909.8" cy="268.3" r="4.7" class="d"/>
<circle cx="917.9" cy="263.8" r="4.7" class="d"/>
<circle cx="856.1" cy="298.1" r="4.7" class="d"/>
<circle cx="918.1" cy="269.0" r="4.7" class="d"/>
<circle cx="845.8" cy="282.6" r="4.7" class="d"/>
<circle cx="917.5" cy="285.8" r="4.7" class="d"/>
<circle cx="929.7" cy="287.8" r="4.7" class="d"/>
<circle cx="914.7" cy="282.2" r="4.7" class="d"/>
<circle cx="871.7" cy="278.8" r="4.7" class="d"/>
<circle cx="917.0" cy="267.1" r="4.7" class="d"/>
<circle cx="843.2" cy="273.9" r="4.7" class="d"/>
<circle cx="823.2" cy="292.3" r="4.7" class="d"/>
<circle cx="843.6" cy="268.1" r="4.7" class="d"/>
<circle cx="912.5" cy="277.7" r="4.7" class="d"/>
<circle cx="844.1" cy="295.0" r="4.7" class="d"/>
<circle cx="933.5" cy="290.6" r="4.7" class="d"/>
<circle cx="905.2" cy="266.2" r="4.7" class="d"/>
<circle cx="913.7" cy="281.8" r="4.7" class="d"/>
<circle cx="915.9" cy="271.6" r="4.7" class="d"/>
<circle cx="909.5" cy="290.7" r="4.7" class="d"/>
<circle cx="858.4" cy="284.5" r="4.7" class="d"/>
<circle cx="927.7" cy="290.4" r="4.7" class="d"/>
<circle cx="825.8" cy="282.5" r="4.7" class="d"/>
<circle cx="897.1" cy="258.9" r="4.7" class="d"/>
<circle cx="868.1" cy="294.1" r="4.7" class="d"/>
<circle cx="920.5" cy="284.4" r="4.7" class="d"/>
<circle cx="849.6" cy="256.7" r="4.7" class="d"/>
<circle cx="893.0" cy="271.5" r="4.7" class="d"/>
<circle cx="915.7" cy="291.7" r="4.7" class="d"/>
<circle cx="902.2" cy="282.0" r="4.7" class="d"/>
<circle cx="849.5" cy="268.3" r="4.7" class="d"/>
<circle cx="901.8" cy="270.7" r="4.7" class="d"/>
<circle cx="828.8" cy="266.5" r="4.7" class="d"/>
<circle cx="909.7" cy="259.5" r="4.7" class="d"/>
<circle cx="836.9" cy="268.2" r="4.7" class="d"/>
<circle cx="831.0" cy="288.7" r="4.7" class="d"/>
<circle cx="822.2" cy="257.3" r="4.7" class="d"/>
<circle cx="880.3" cy="288.1" r="4.7" class="d"/>
<circle cx="915.3" cy="280.2" r="4.7" class="d"/>
<circle cx="850.5" cy="294.7" r="4.7" class="d"/>
<circle cx="903.7" cy="276.6" r="4.7" class="d"/>
<circle cx="881.2" cy="297.1" r="4.7" class="d"/>
<circle cx="825.2" cy="269.7" r="4.7" class="d"/>
<circle cx="861.0" cy="262.6" r="4.7" class="d"/>
<circle cx="907.1" cy="257.7" r="4.7" class="d"/>
<circle cx="923.4" cy="281.4" r="4.7" class="d"/>
<circle cx="887.8" cy="273.7" r="4.7" class="d"/>
<circle cx="929.7" cy="281.0" r="4.7" class="d"/>
<circle cx="898.0" cy="299.3" r="4.7" class="d"/>
<circle cx="917.7" cy="278.8" r="4.7" class="d"/>
<circle cx="848.1" cy="285.6" r="4.7" class="d"/>
<circle cx="916.9" cy="277.5" r="4.7" class="d"/>
<circle cx="934.3" cy="279.0" r="4.7" class="d"/>
<circle cx="929.8" cy="268.0" r="4.7" class="d"/>
<circle cx="836.3" cy="278.7" r="4.7" class="d"/>
<circle cx="892.2" cy="260.6" r="4.7" class="d"/>
<circle cx="859.2" cy="256.6" r="4.7" class="d"/>
<circle cx="856.3" cy="297.5" r="4.7" class="d"/>
<circle cx="853.1" cy="286.5" r="4.7" class="d"/>
<circle cx="888.8" cy="261.4" r="4.7" class="d"/>
<circle cx="897.5" cy="258.6" r="4.7" class="d"/>
<circle cx="832.0" cy="281.1" r="4.7" class="d"/>
<circle cx="824.6" cy="298.4" r="4.7" class="d"/>
<circle cx="863.3" cy="283.4" r="4.7" class="d"/>
<circle cx="933.5" cy="259.9" r="4.7" class="d"/>
<circle cx="937.9" cy="256.8" r="4.7" class="d"/>
<circle cx="886.2" cy="284.5" r="4.7" class="d"/>
<circle cx="936.2" cy="271.1" r="4.7" class="d"/>
<circle cx="931.1" cy="284.3" r="4.7" class="d"/>
<circle cx="838.6" cy="271.4" r="4.7" class="d"/>
<circle cx="913.1" cy="271.9" r="4.7" class="d"/>
<circle cx="889.7" cy="256.7" r="4.7" class="d"/>
<circle cx="826.3" cy="286.9" r="4.7" class="d"/>
<circle cx="923.8" cy="269.1" r="4.7" class="d"/>
<circle cx="812.2" cy="265.5" r="4.7" class="d"/>
<circle cx="892.1" cy="290.4" r="4.7" class="d"/>
<circle cx="909.8" cy="288.4" r="4.7" class="d"/>
<circle cx="883.9" cy="266.7" r="4.7" class="d"/>
<circle cx="917.4" cy="268.0" r="4.7" class="d"/>
<circle cx="919.8" cy="275.1" r="4.7" class="d"/>
<circle cx="889.8" cy="277.5" r="4.7" class="d"/>
<circle cx="893.0" cy="270.3" r="4.7" class="d"/>
<circle cx="883.2" cy="288.1" r="4.7" class="d"/>
<circle cx="855.0" cy="282.0" r="4.7" class="d"/>
<circle cx="867.3" cy="276.2" r="4.7" class="d"/>
<circle cx="857.9" cy="279.6" r="4.7" class="d"/>
<circle cx="900.2" cy="262.8" r="4.7" class="d"/>
<circle cx="827.0" cy="292.0" r="4.7" class="d"/>
<circle cx="906.7" cy="264.8" r="4.7" class="d"/>
<circle cx="890.7" cy="266.4" r="4.7" class="d"/>
<circle cx="922.6" cy="263.9" r="4.7" class="d"/>
<circle cx="823.0" cy="256.6" r="4.7" class="d"/>
<circle cx="901.4" cy="264.5" r="4.7" class="d"/>
<circle cx="848.9" cy="299.0" r="4.7" class="d"/>
<circle cx="903.7" cy="288.2" r="4.7" class="d"/>
<circle cx="882.9" cy="283.8" r="4.7" class="d"/>
<circle cx="850.8" cy="293.5" r="4.7" class="d"/>
<circle cx="861.9" cy="296.0" r="4.7" class="d"/>
<circle cx="820.5" cy="278.0" r="4.7" class="d"/>
<circle cx="870.6" cy="299.4" r="4.7" class="d"/>
<circle cx="901.2" cy="299.2" r="4.7" class="d"/>
<circle cx="925.7" cy="274.1" r="4.7" class="d"/>
<circle cx="827.2" cy="261.6" r="4.7" class="d"/>
<circle cx="900.2" cy="297.8" r="4.7" class="d"/>
<circle cx="894.5" cy="270.6" r="4.7" class="d"/>
<circle cx="885.6" cy="284.6" r="4.7" class="d"/>
<circle cx="840.9" cy="286.2" r="4.7" class="d"/>
<circle cx="833.9" cy="256.2" r="4.7" class="d"/>
<circle cx="816.4" cy="277.0" r="4.7" class="d"/>
<circle cx="898.5" cy="265.1" r="4.7" class="d"/>
<circle cx="859.6" cy="286.2" r="4.7" class="d"/>
<circle cx="842.2" cy="278.5" r="4.7" class="d"/>
<circle cx="886.4" cy="273.3" r="4.7" class="d"/>
<circle cx="835.1" cy="286.2" r="4.7" class="d"/>
<circle cx="899.1" cy="263.5" r="4.7" class="d"/>
<circle cx="913.0" cy="284.5" r="4.7" class="d"/>
<circle cx="920.6" cy="290.1" r="4.7" class="d"/>
<circle cx="872.3" cy="287.2" r="4.7" class="d"/>
<circle cx="848.9" cy="284.4" r="4.7" class="d"/>
<circle cx="818.7" cy="270.6" r="4.7" class="d"/>
<circle cx="873.8" cy="294.9" r="4.7" class="d"/>
<circle cx="896.9" cy="295.9" r="4.7" class="d"/>
<circle cx="888.3" cy="282.8" r="4.7" class="d"/>
<circle cx="911.6" cy="282.5" r="4.7" class="d"/>
<circle cx="829.0" cy="265.8" r="4.7" class="d"/>
<circle cx="836.7" cy="287.5" r="4.7" class="d"/>
<circle cx="885.7" cy="264.0" r="4.7" class="d"/>
<circle cx="897.4" cy="280.3" r="4.7" class="d"/>
<circle cx="842.7" cy="275.0" r="4.7" class="d"/>
<circle cx="937.0" cy="261.3" r="4.7" class="d"/>
<circle cx="838.8" cy="281.7" r="4.7" class="d"/>
<circle cx="859.9" cy="289.6" r="4.7" class="d"/>
<circle cx="823.4" cy="272.4" r="4.7" class="d"/>
<circle cx="919.4" cy="284.9" r="4.7" class="d"/>
<circle cx="866.1" cy="281.9" r="4.7" class="d"/>
<circle cx="871.4" cy="279.7" r="4.7" class="d"/>
<circle cx="834.0" cy="289.0" r="4.7" class="d"/>
<circle cx="930.8" cy="282.3" r="4.7" class="d"/>
<circle cx="870.9" cy="281.1" r="4.7" class="d"/>
<circle cx="887.5" cy="260.1" r="4.7" class="d"/>
<circle cx="937.8" cy="267.4" r="4.7" class="d"/>
<circle cx="890.1" cy="258.4" r="4.7" class="d"/>
<circle cx="848.7" cy="276.9" r="4.7" class="d"/>
<circle cx="828.6" cy="277.1" r="4.7" class="d"/>
<circle cx="911.4" cy="283.3" r="4.7" class="d"/>
<circle cx="702.9" cy="308.6" r="4.7" class="d"/>
<circle cx="662.3" cy="316.0" r="4.7" class="d"/>
<circle cx="645.8" cy="310.5" r="4.7" class="d"/>
<circle cx="757.3" cy="304.2" r="4.7" class="d"/>
<circle cx="714.3" cy="312.2" r="4.7" class="d"/>
<circle cx="650.1" cy="308.7" r="4.7" class="d"/>
<circle cx="732.9" cy="309.8" r="4.7" class="d"/>
<circle cx="735.6" cy="305.4" r="4.7" class="d"/>
<circle cx="674.8" cy="304.7" r="4.7" class="d"/>
<circle cx="708.3" cy="316.9" r="4.7" class="d"/>
<circle cx="718.8" cy="314.6" r="4.7" class="d"/>
<circle cx="693.0" cy="314.2" r="4.7" class="d"/>
<circle cx="657.7" cy="307.4" r="4.7" class="d"/>
<circle cx="729.3" cy="313.9" r="4.7" class="d"/>
<circle cx="697.7" cy="304.3" r="4.7" class="d"/>
<circle cx="678.3" cy="306.1" r="4.7" class="d"/>
<circle cx="680.1" cy="315.1" r="4.7" class="d"/>
<circle cx="669.9" cy="316.3" r="4.7" class="d"/>
<circle cx="754.9" cy="303.8" r="4.7" class="d"/>
<circle cx="692.4" cy="310.4" r="4.7" class="d"/>
<circle cx="647.9" cy="309.4" r="4.7" class="d"/>
<circle cx="758.3" cy="304.7" r="4.7" class="d"/>
<circle cx="719.6" cy="304.8" r="4.7" class="d"/>
<circle cx="717.3" cy="316.4" r="4.7" class="d"/>
<circle cx="670.4" cy="303.1" r="4.7" class="d"/>
<circle cx="655.4" cy="311.1" r="4.7" class="d"/>
<circle cx="647.2" cy="304.3" r="4.7" class="d"/>
<circle cx="707.1" cy="316.8" r="4.7" class="d"/>
<circle cx="697.5" cy="309.0" r="4.7" class="d"/>
<circle cx="724.8" cy="304.4" r="4.7" class="d"/>
<circle cx="717.5" cy="305.6" r="4.7" class="d"/>
<circle cx="721.1" cy="317.4" r="4.7" class="d"/>
<circle cx="651.8" cy="311.3" r="4.7" class="d"/>
<circle cx="720.8" cy="305.2" r="4.7" class="d"/>
<circle cx="678.5" cy="317.9" r="4.7" class="d"/>
<circle cx="177.0" cy="122.0" r="4.7" class="d"/>
<circle cx="184.0" cy="264.3" r="4.7" class="d"/>
<circle cx="207.0" cy="280.5" r="4.7" class="d"/>
<circle cx="209.2" cy="285.4" r="4.7" class="d"/>
<circle cx="169.2" cy="288.6" r="4.7" class="d"/>
<circle cx="179.5" cy="293.5" r="4.7" class="d"/>
<circle cx="170.5" cy="300.3" r="4.7" class="d"/>
<circle cx="239.8" cy="288.6" r="4.7" class="d"/>
<circle cx="254.2" cy="293.1" r="4.7" class="d"/>
<circle cx="254.5" cy="300.3" r="4.7" class="d"/>
<circle cx="286.6" cy="299.0" r="4.7" class="d"/>
<circle cx="287.5" cy="307.0" r="4.7" class="d"/>
<circle cx="228.0" cy="295.8" r="4.7" class="d"/>
<circle cx="223.6" cy="298.5" r="4.7" class="d"/>
<circle cx="212.4" cy="300.8" r="4.7" class="d"/>
<circle cx="195.7" cy="303.9" r="4.7" class="d"/>
<circle cx="203.8" cy="305.7" r="4.7" class="d"/>
<circle cx="235.3" cy="308.0" r="4.7" class="d"/>
<circle cx="274.9" cy="307.0" r="4.7" class="d"/>
<circle cx="267.7" cy="308.4" r="4.7" class="d"/>
<circle cx="334.8" cy="121.5" r="4.7" class="d"/>
<circle cx="347.5" cy="137.7" r="4.7" class="d"/>
<circle cx="375.0" cy="136.5" r="4.7" class="d"/>
<circle cx="433.4" cy="123.2" r="4.7" class="d"/>
<circle cx="434.5" cy="127.2" r="4.7" class="d"/>
<circle cx="384.9" cy="149.3" r="4.7" class="d"/>
<circle cx="406.2" cy="149.8" r="4.7" class="d"/>
<circle cx="416.4" cy="147.6" r="4.7" class="d"/>
<circle cx="419.8" cy="142.5" r="4.7" class="d"/>
<circle cx="422.3" cy="147.6" r="4.7" class="d"/>
<circle cx="430.0" cy="141.6" r="4.7" class="d"/>
<circle cx="435.9" cy="142.5" r="4.7" class="d"/>
<circle cx="440.2" cy="159.5" r="4.7" class="d"/>
<circle cx="448.7" cy="155.5" r="4.7" class="d"/>
<circle cx="454.6" cy="155.5" r="4.7" class="d"/>
<circle cx="323.7" cy="158.6" r="4.7" class="d"/>
<circle cx="333.9" cy="160.3" r="4.7" class="d"/>
<circle cx="339.0" cy="165.0" r="4.7" class="d"/>
<circle cx="362.8" cy="156.6" r="4.7" class="d"/>
<circle cx="368.8" cy="160.3" r="4.7" class="d"/>
<circle cx="350.6" cy="166.8" r="4.7" class="d"/>
<circle cx="389.2" cy="169.1" r="4.7" class="d"/>
<circle cx="421.0" cy="167.1" r="4.7" class="d"/>
<circle cx="335.6" cy="174.2" r="4.7" class="d"/>
<circle cx="431.7" cy="172.2" r="4.7" class="d"/>
<circle cx="449.5" cy="174.2" r="4.7" class="d"/>
<circle cx="452.9" cy="174.8" r="4.7" class="d"/>
<circle cx="400.2" cy="176.5" r="4.7" class="d"/>
<circle cx="410.4" cy="173.1" r="4.7" class="d"/>
<circle cx="413.8" cy="178.2" r="4.7" class="d"/>
<circle cx="350.9" cy="179.9" r="4.7" class="d"/>
<circle cx="361.1" cy="167.1" r="4.7" class="d"/>
<circle cx="373.0" cy="170.5" r="4.7" class="d"/>
<circle cx="379.8" cy="173.1" r="4.7" class="d"/>
<circle cx="388.3" cy="180.7" r="4.7" class="d"/>
<circle cx="325.4" cy="184.1" r="4.7" class="d"/>
<circle cx="340.7" cy="185.8" r="4.7" class="d"/>
<circle cx="345.8" cy="187.5" r="4.7" class="d"/>
<circle cx="359.4" cy="179.0" r="4.7" class="d"/>
<circle cx="366.2" cy="185.8" r="4.7" class="d"/>
<circle cx="441.0" cy="179.0" r="4.7" class="d"/>
<circle cx="452.0" cy="185.0" r="4.7" class="d"/>
<circle cx="327.1" cy="192.6" r="4.7" class="d"/>
<circle cx="339.0" cy="196.0" r="4.7" class="d"/>
<circle cx="349.2" cy="196.0" r="4.7" class="d"/>
<circle cx="359.4" cy="190.9" r="4.7" class="d"/>
<circle cx="369.6" cy="190.9" r="4.7" class="d"/>
<circle cx="381.5" cy="190.9" r="4.7" class="d"/>
<circle cx="396.8" cy="187.5" r="4.7" class="d"/>
<circle cx="403.6" cy="185.8" r="4.7" class="d"/>
<circle cx="415.5" cy="190.9" r="4.7" class="d"/>
<circle cx="422.3" cy="194.3" r="4.7" class="d"/>
<circle cx="432.5" cy="190.9" r="4.7" class="d"/>
<circle cx="438.5" cy="189.2" r="4.7" class="d"/>
<circle cx="449.5" cy="192.6" r="4.7" class="d"/>
<circle cx="383.2" cy="196.0" r="4.7" class="d"/>
<circle cx="400.2" cy="196.0" r="4.7" class="d"/>
<circle cx="648.0" cy="121.8" r="4.7" class="d"/>
<circle cx="772.7" cy="173.1" r="4.7" class="d"/>
<circle cx="648.0" cy="197.7" r="4.7" class="d"/>
<circle cx="666.5" cy="215.7" r="4.7" class="d"/>
<circle cx="690.7" cy="228.3" r="4.7" class="d"/>
<circle cx="720.7" cy="212.5" r="4.7" class="d"/>
<circle cx="720.7" cy="231.0" r="4.7" class="d"/>
<circle cx="728.6" cy="233.7" r="4.7" class="d"/>
<circle cx="753.6" cy="235.0" r="4.7" class="d"/>
<circle cx="759.6" cy="240.0" r="4.7" class="d"/>
<circle cx="761.9" cy="243.6" r="4.7" class="d"/>
<circle cx="693.9" cy="251.3" r="4.7" class="d"/>
<circle cx="703.8" cy="250.4" r="4.7" class="d"/>
<circle cx="726.8" cy="249.9" r="4.7" class="d"/>
<circle cx="732.2" cy="254.4" r="4.7" class="d"/>
<circle cx="677.7" cy="258.9" r="4.7" class="d"/>
<circle cx="700.2" cy="259.8" r="4.7" class="d"/>
<circle cx="716.4" cy="257.1" r="4.7" class="d"/>
<circle cx="721.8" cy="258.0" r="4.7" class="d"/>
<circle cx="749.7" cy="258.0" r="4.7" class="d"/>
<circle cx="756.9" cy="257.1" r="4.7" class="d"/>
<circle cx="667.8" cy="259.8" r="4.7" class="d"/>
<circle cx="667.8" cy="264.0" r="4.7" class="d"/>
<circle cx="678.2" cy="260.8" r="4.7" class="d"/>
<circle cx="700.2" cy="261.7" r="4.7" class="d"/>
<circle cx="716.0" cy="258.6" r="4.7" class="d"/>
<circle cx="720.9" cy="259.9" r="4.7" class="d"/>
<circle cx="728.1" cy="259.9" r="4.7" class="d"/>
<circle cx="734.4" cy="263.0" r="4.7" class="d"/>
<circle cx="749.1" cy="259.4" r="4.7" class="d"/>
<circle cx="756.9" cy="258.1" r="4.7" class="d"/>
<circle cx="762.8" cy="262.6" r="4.7" class="d"/>
<circle cx="756.0" cy="268.9" r="4.7" class="d"/>
<circle cx="648.9" cy="273.4" r="4.7" class="d"/>
<circle cx="658.8" cy="272.5" r="4.7" class="d"/>
<circle cx="666.9" cy="275.2" r="4.7" class="d"/>
<circle cx="666.0" cy="280.6" r="4.7" class="d"/>
<circle cx="653.0" cy="283.3" r="4.7" class="d"/>
<circle cx="653.4" cy="288.7" r="4.7" class="d"/>
<circle cx="660.6" cy="288.7" r="4.7" class="d"/>
<circle cx="666.0" cy="289.6" r="4.7" class="d"/>
<circle cx="684.9" cy="281.5" r="4.7" class="d"/>
<circle cx="702.5" cy="271.6" r="4.7" class="d"/>
<circle cx="707.8" cy="283.3" r="4.7" class="d"/>
<circle cx="723.6" cy="272.5" r="4.7" class="d"/>
<circle cx="732.2" cy="268.9" r="4.7" class="d"/>
<circle cx="739.4" cy="275.7" r="4.7" class="d"/>
<circle cx="748.8" cy="280.6" r="4.7" class="d"/>
<circle cx="751.5" cy="277.9" r="4.7" class="d"/>
<circle cx="762.3" cy="280.6" r="4.7" class="d"/>
<circle cx="765.0" cy="284.2" r="4.7" class="d"/>
<circle cx="770.4" cy="286.9" r="4.7" class="d"/>
<circle cx="769.0" cy="293.2" r="4.7" class="d"/>
<circle cx="751.5" cy="291.8" r="4.7" class="d"/>
<circle cx="738.9" cy="292.8" r="4.7" class="d"/>
<circle cx="644.4" cy="301.8" r="4.7" class="d"/>
<circle cx="671.4" cy="304.0" r="4.7" class="d"/>
<circle cx="682.2" cy="295.9" r="4.7" class="d"/>
<circle cx="681.3" cy="302.2" r="4.7" class="d"/>
<circle cx="687.6" cy="307.6" r="4.7" class="d"/>
<circle cx="718.2" cy="294.1" r="4.7" class="d"/>
<circle cx="729.0" cy="295.0" r="4.7" class="d"/>
<circle cx="763.2" cy="296.8" r="4.7" class="d"/>
<circle cx="696.6" cy="302.2" r="4.7" class="d"/>
<circle cx="702.0" cy="304.0" r="4.7" class="d"/>
<circle cx="709.2" cy="304.0" r="4.7" class="d"/>
<circle cx="720.0" cy="304.0" r="4.7" class="d"/>
<circle cx="723.6" cy="298.6" r="4.7" class="d"/>
<circle cx="734.4" cy="306.7" r="4.7" class="d"/>
<circle cx="736.2" cy="311.2" r="4.7" class="d"/>
<circle cx="756.0" cy="304.0" r="4.7" class="d"/>
<circle cx="761.4" cy="307.6" r="4.7" class="d"/>
<circle cx="766.8" cy="309.4" r="4.7" class="d"/>
<circle cx="754.2" cy="312.1" r="4.7" class="d"/>
<circle cx="644.4" cy="311.2" r="4.7" class="d"/>
<circle cx="658.8" cy="310.3" r="4.7" class="d"/>
<circle cx="653.4" cy="313.9" r="4.7" class="d"/>
<circle cx="666.0" cy="314.8" r="4.7" class="d"/>
<circle cx="680.4" cy="313.9" r="4.7" class="d"/>
<circle cx="712.8" cy="314.8" r="4.7" class="d"/>
<circle cx="725.4" cy="314.8" r="4.7" class="d"/>
<circle cx="750.6" cy="314.8" r="4.7" class="d"/>
<circle cx="765.0" cy="314.8" r="4.7" class="d"/>
<circle cx="702.0" cy="314.8" r="4.7" class="d"/>
<circle cx="806.6" cy="121.8" r="4.7" class="d"/>
<circle cx="820.6" cy="121.8" r="4.7" class="d"/>
<circle cx="835.0" cy="121.8" r="4.7" class="d"/>
<circle cx="885.8" cy="121.8" r="4.7" class="d"/>
<circle cx="910.1" cy="120.9" r="4.7" class="d"/>
<circle cx="906.0" cy="127.2" r="4.7" class="d"/>
<circle cx="932.6" cy="121.8" r="4.7" class="d"/>
<circle cx="837.2" cy="133.5" r="4.7" class="d"/>
<circle cx="898.0" cy="137.1" r="4.7" class="d"/>
<circle cx="815.6" cy="144.3" r="4.7" class="d"/>
<circle cx="827.3" cy="146.6" r="4.7" class="d"/>
<circle cx="833.6" cy="144.3" r="4.7" class="d"/>
<circle cx="840.8" cy="151.5" r="4.7" class="d"/>
<circle cx="848.0" cy="152.8" r="4.7" class="d"/>
<circle cx="809.8" cy="156.9" r="4.7" class="d"/>
<circle cx="807.5" cy="163.6" r="4.7" class="d"/>
<circle cx="828.2" cy="153.8" r="4.7" class="d"/>
<circle cx="834.5" cy="160.5" r="4.7" class="d"/>
<circle cx="816.5" cy="167.7" r="4.7" class="d"/>
<circle cx="828.2" cy="165.0" r="4.7" class="d"/>
<circle cx="843.5" cy="164.1" r="4.7" class="d"/>
<circle cx="856.1" cy="161.4" r="4.7" class="d"/>
<circle cx="865.1" cy="152.4" r="4.7" class="d"/>
<circle cx="869.6" cy="145.2" r="4.7" class="d"/>
<circle cx="874.1" cy="149.7" r="4.7" class="d"/>
<circle cx="887.6" cy="149.7" r="4.7" class="d"/>
<circle cx="893.0" cy="147.0" r="4.7" class="d"/>
<circle cx="907.4" cy="152.4" r="4.7" class="d"/>
<circle cx="920.9" cy="153.8" r="4.7" class="d"/>
<circle cx="935.3" cy="153.3" r="4.7" class="d"/>
<circle cx="936.2" cy="159.6" r="4.7" class="d"/>
<circle cx="867.8" cy="163.2" r="4.7" class="d"/>
<circle cx="878.6" cy="156.0" r="4.7" class="d"/>
<circle cx="900.2" cy="161.4" r="4.7" class="d"/>
<circle cx="916.4" cy="159.6" r="4.7" class="d"/>
<circle cx="925.4" cy="163.2" r="4.7" class="d"/>
<circle cx="929.0" cy="170.4" r="4.7" class="d"/>
<circle cx="807.5" cy="285.1" r="4.7" class="d"/>
<circle cx="812.0" cy="295.0" r="4.7" class="d"/>
<circle cx="808.0" cy="305.8" r="4.7" class="d"/>
<circle cx="826.4" cy="300.4" r="4.7" class="d"/>
<circle cx="839.0" cy="305.8" r="4.7" class="d"/>
<circle cx="841.7" cy="313.0" r="4.7" class="d"/>
<circle cx="848.9" cy="312.1" r="4.7" class="d"/>
<circle cx="846.2" cy="307.6" r="4.7" class="d"/>
<circle cx="853.4" cy="301.3" r="4.7" class="d"/>
<circle cx="867.8" cy="301.3" r="4.7" class="d"/>
<circle cx="870.5" cy="313.9" r="4.7" class="d"/>
<circle cx="877.7" cy="309.4" r="4.7" class="d"/>
<circle cx="889.4" cy="312.1" r="4.7" class="d"/>
<circle cx="894.8" cy="313.0" r="4.7" class="d"/>
<circle cx="903.8" cy="312.1" r="4.7" class="d"/>
<circle cx="923.6" cy="312.1" r="4.7" class="d"/>
<circle cx="932.6" cy="312.1" r="4.7" class="d"/>
<circle cx="914.6" cy="300.4" r="4.7" class="d"/>
<circle cx="921.8" cy="304.0" r="4.7" class="d"/>
<circle cx="931.7" cy="300.4" r="4.7" class="d"/>
<circle cx="938.9" cy="295.9" r="4.7" class="d"/>
<circle cx="938.0" cy="282.4" r="4.7" class="d"/>
<circle cx="806.6" cy="259.9" r="4.7" class="d"/>
<circle cx="808.4" cy="268.0" r="4.7" class="d"/>
<circle cx="832.7" cy="259.9" r="4.7" class="d"/>
<circle cx="833.6" cy="268.9" r="4.7" class="d"/>
<circle cx="844.4" cy="291.4" r="4.7" class="d"/>
<circle cx="880.4" cy="296.8" r="4.7" class="d"/>
<circle cx="891.2" cy="298.6" r="4.7" class="d"/>
<circle cx="882.2" cy="288.7" r="4.7" class="d"/>
</g>
<line x1="138.5" y1="244.7" x2="471.5" y2="244.7" stroke="#111" stroke-width="1.7"/>
<line x1="138.5" y1="318.6" x2="471.5" y2="318.6" stroke="#111" stroke-width="1.7"/>
<line x1="623.5" y1="244.7" x2="956" y2="244.7" stroke="#111" stroke-width="1.7"/>
<line x1="623.5" y1="318.6" x2="956" y2="318.6" stroke="#111" stroke-width="1.7"/>
<line x1="127.5" y1="111.4" x2="482.0" y2="111.4" stroke="#111" stroke-width="1.6"/>
<line x1="127.5" y1="460.5" x2="482.0" y2="460.5" stroke="#111" stroke-width="1.6"/>
<line x1="127.5" y1="111.4" x2="127.5" y2="460.5" stroke="#111" stroke-width="1.6"/>
<line x1="482.0" y1="111.4" x2="482.0" y2="460.5" stroke="#555" stroke-width="1.6"/>
<line x1="120.5" y1="450.0" x2="127.5" y2="450.0" stroke="#333" stroke-width="1.4"/>
<line x1="120.5" y1="384.4" x2="127.5" y2="384.4" stroke="#333" stroke-width="1.4"/>
<line x1="120.5" y1="318.8" x2="127.5" y2="318.8" stroke="#333" stroke-width="1.4"/>
<line x1="120.5" y1="253.20000000000002" x2="127.5" y2="253.20000000000002" stroke="#333" stroke-width="1.4"/>
<line x1="120.5" y1="187.60000000000002" x2="127.5" y2="187.60000000000002" stroke="#333" stroke-width="1.4"/>
<line x1="120.5" y1="122.0" x2="127.5" y2="122.0" stroke="#333" stroke-width="1.4"/>
<line x1="221.25" y1="460.5" x2="221.25" y2="467.5" stroke="#333" stroke-width="1.4"/>
<line x1="388.25" y1="460.5" x2="388.25" y2="467.5" stroke="#333" stroke-width="1.4"/>
<line x1="612.5" y1="111.4" x2="967.0" y2="111.4" stroke="#111" stroke-width="1.6"/>
<line x1="612.5" y1="460.5" x2="967.0" y2="460.5" stroke="#111" stroke-width="1.6"/>
<line x1="612.5" y1="111.4" x2="612.5" y2="460.5" stroke="#111" stroke-width="1.6"/>
<line x1="967.0" y1="111.4" x2="967.0" y2="460.5" stroke="#555" stroke-width="1.6"/>
<line x1="605.5" y1="450.0" x2="612.5" y2="450.0" stroke="#333" stroke-width="1.4"/>
<line x1="605.5" y1="384.4" x2="612.5" y2="384.4" stroke="#333" stroke-width="1.4"/>
<line x1="605.5" y1="318.8" x2="612.5" y2="318.8" stroke="#333" stroke-width="1.4"/>
<line x1="605.5" y1="253.20000000000002" x2="612.5" y2="253.20000000000002" stroke="#333" stroke-width="1.4"/>
<line x1="605.5" y1="187.60000000000002" x2="612.5" y2="187.60000000000002" stroke="#333" stroke-width="1.4"/>
<line x1="605.5" y1="122.0" x2="612.5" y2="122.0" stroke="#333" stroke-width="1.4"/>
<line x1="706.25" y1="460.5" x2="706.25" y2="467.5" stroke="#333" stroke-width="1.4"/>
<line x1="873.25" y1="460.5" x2="873.25" y2="467.5" stroke="#333" stroke-width="1.4"/>
</svg>
<div class="title">Figure 1: Community Eligibility Provision participation and eligibility</div>
<div class="pt" style="left:205px">Virginia</div>
<div class="pt" style="left:690px">Massachusetts</div>
<div class="yt" style="left:21.5px;top:442.5px">0%</div>
<div class="yt" style="left:21.5px;top:376.9px">20%</div>
<div class="yt" style="left:21.5px;top:311.3px">40%</div>
<div class="yt" style="left:21.5px;top:245.70000000000002px">60%</div>
<div class="yt" style="left:21.5px;top:180.10000000000002px">80%</div>
<div class="yt" style="left:21.5px;top:114.5px">100%</div>
<div class="yl" style="left:51.0px;top:275.5px">Identified Student Percentage</div>
<div class="xt" style="left:181.5px;top:473px">No</div>
<div class="xt" style="left:348.5px;top:473px">Yes</div>
<div class="xl" style="left:155.0px;top:495.5px">Participating in CEP</div>
<div class="yt" style="left:506.5px;top:442.5px">0%</div>
<div class="yt" style="left:506.5px;top:376.9px">20%</div>
<div class="yt" style="left:506.5px;top:311.3px">40%</div>
<div class="yt" style="left:506.5px;top:245.70000000000002px">60%</div>
<div class="yt" style="left:506.5px;top:180.10000000000002px">80%</div>
<div class="yt" style="left:506.5px;top:114.5px">100%</div>
<div class="yl" style="left:536.0px;top:275.5px">Identified Student Percentage</div>
<div class="xt" style="left:666.5px;top:473px">No</div>
<div class="xt" style="left:833.5px;top:473px">Yes</div>
<div class="xl" style="left:640.0px;top:495.5px">Participating in CEP</div>
<div class="leg" style="left:364px;top:567.5px"><span class="ld" style="background:#3fc0ef;border-color:#25a6dc"></span></div>
<div class="legt" style="left:390px">Not eligible</div>
<div class="leg" style="left:535.5px;top:567.5px"><span class="ld" style="background:#3d5794;border-color:#1b2d66"></span></div>
<div class="legt" style="left:561px">Eligible</div>
<div class="src"><b>Source:</b> Authors' calculations based on data from the Virginia Department of Education and<br>Massachusetts Department of Elementary and Secondary Education annual notification<br>reports.</div>
</body></html>
